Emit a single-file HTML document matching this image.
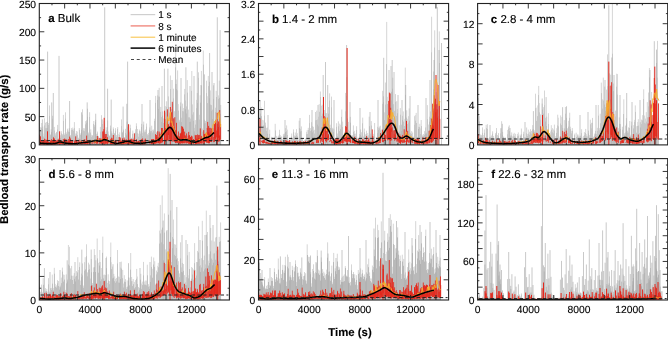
<!DOCTYPE html><html><head><meta charset="utf-8"><style>html,body{margin:0;padding:0;background:#fff;}svg{display:block;will-change:transform;}text{text-rendering:geometricPrecision;font-family:"Liberation Sans", sans-serif;fill:#000;stroke:#000;stroke-width:0.12px;}.tk{font-size:10.3px;}.pt{font-size:11.5px;}.lg{font-size:10px;}.ax{font-size:11.4px;font-weight:bold;}</style></head><body><svg width="668" height="339" viewBox="0 0 668 339"><rect width="668" height="339" fill="#fff"/><defs><filter id="soft" x="-2%" y="-2%" width="104%" height="104%"><feGaussianBlur stdDeviation="0.35"/></filter></defs><clipPath id="ca"><rect x="39.3" y="3.5" width="190.1" height="141.4"/></clipPath><g clip-path="url(#ca)"><g filter="url(#soft)"><path d="M39.7 145.9V135.9M40.6 145.9V127.2M41.7 145.9V123M42.8 145.9V126.6M43.8 145.9V133.6M44.4 145.9V118.3M45.5 145.9V122.7M46.7 145.9V122M47.4 145.9V121.6M48.7 145.9V123M49.5 145.9V105.4M50.4 145.9V134.3M51.2 145.9V129.3M52.6 145.9V115.7M53.8 145.9V135.8M54.3 145.9V126.9M55.6 145.9V133.3M56.6 145.9V131.8M57.6 145.9V124.9M58.7 145.9V138M59.5 145.9V136M60.4 145.9V135.3M61.3 145.9V131.2M62.6 145.9V134.1M63.4 145.9V114.9M64.7 145.9V133.5M65.5 145.9V112.3M66.3 145.9V132.3M67.5 145.9V128.7M68.2 145.9V130.4M69.2 145.9V128.2M70.5 145.9V135.2M71.6 145.9V128.1M72.8 145.9V127.5M73.2 145.9V128.8M74.4 145.9V122.1M75.3 145.9V133.5M76.4 145.9V131M77.3 145.9V131.5M78.3 145.9V137.6M79.3 145.9V128M80.3 145.9V133.4M81.6 145.9V129.6M82.5 145.9V109.3M83.7 145.9V128.1M84.7 145.9V128.3M85.7 145.9V121.1M86.6 145.9V120.3M87.5 145.9V108.7M88.5 145.9V132.5M89.6 145.9V112.2M90.8 145.9V129.3M91.4 145.9V134.8M92.6 145.9V135M93.8 145.9V121M94.6 145.9V124.9M95.6 145.9V119.8M96.4 145.9V133.8M97.5 145.9V131.6M98.5 145.9V135.9M99.3 145.9V138.5M100.4 145.9V126.9M101.5 145.9V115.2M102.6 145.9V119.4M103.8 145.9V133.7M104.2 145.9V121.2M105.5 145.9V132.4M106.2 145.9V127.3M107.6 145.9V120.4M108.3 145.9V131.5M109.4 145.9V135.4M110.5 145.9V125.6M111.7 145.9V131.3M112.4 145.9V133.4M113.3 145.9V127.4M114.4 145.9V132.9M115.5 145.9V128.2M116.6 145.9V135.1M117.7 145.9V127.1M118.8 145.9V134.1M119.7 145.9V132.3M120.8 145.9V138.8M121.5 145.9V119.4M122.4 145.9V132M123.5 145.9V129.5M124.4 145.9V138.8M125.5 145.9V128.8M126.6 145.9V134.3M127.2 145.9V121.6M128.8 145.9V138M129.7 145.9V130.5M130.3 145.9V124.7M131.6 145.9V137.7M132.8 145.9V130.5M133.5 145.9V137.5M134.3 145.9V132.8M135.5 145.9V129.3M136.4 145.9V123.3M137.6 145.9V129M138.3 145.9V133.7M139.7 145.9V129.5M140.3 145.9V131.3M141.6 145.9V123.8M142.2 145.9V132.8M143.7 145.9V121.6M144.3 145.9V130.5M145.6 145.9V129.5M146.5 145.9V123.5M147.4 145.9V134M148.5 145.9V132.9M149.8 145.9V127.4M150.5 145.9V130.9M151.7 145.9V125.7M152.7 145.9V129.8M153.4 145.9V129.5M154.7 145.9V118.7M155.6 145.9V95.9M156.5 145.9V131.8M157.7 145.9V95.4M158.6 145.9V96.5M159.2 145.9V87.8M160.7 145.9V106.9M161.5 145.9V117M162.7 145.9V111.3M163.7 145.9V118.5M164.5 145.9V122.6M165.3 145.9V106.1M166.4 145.9V101.3M167.7 145.9V110.7M168.4 145.9V96.4M169.7 145.9V122.8M170.4 145.9V75.5M171.3 145.9V108.9M172.7 145.9V103.6M173.5 145.9V88.7M174.6 145.9V111.2M175.7 145.9V49.9M176.3 145.9V79.5M177.6 145.9V70.4M178.2 145.9V104.1M179.6 145.9V119.8M180.7 145.9V102.4M181.3 145.9V117.7M182.6 145.9V103.6M183.7 145.9V108M184.7 145.9V88.9M185.3 145.9V100.5M186.5 145.9V106.4M187.3 145.9V80.1M188.4 145.9V109.6M189.5 145.9V117.3M190.7 145.9V118.6M191.8 145.9V71M192.5 145.9V104.4M193.4 145.9V112.2M194.3 145.9V127.8M195.3 145.9V120.1M196.6 145.9V99.8M197.3 145.9V93M198.5 145.9V72.3M199.4 145.9V114.8M200.2 145.9V95.3M201.4 145.9V70.9M202.4 145.9V128.5M203.3 145.9V50.5M204.4 145.9V119.7M205.5 145.9V120.9M206.5 145.9V80.7M207.2 145.9V96.2M208.3 145.9V75.9M209.5 145.9V81.8M210.3 145.9V90.4M211.5 145.9V105.1M212.7 145.9V109.6M213.5 145.9V85.3M214.4 145.9V125.4M215.5 145.9V107.7M216.2 145.9V90.8M217.5 145.9V117.6M218.6 145.9V95.4M219.3 145.9V80.6M220.7 145.9V104.9" stroke="#d6d6d6" stroke-width="1" fill="none"/><path d="M39.5 145.9V137.3M40.5 145.9V130.9M41.5 145.9V127.7M42.5 145.9V129.3M43.5 145.9V136.6M44.5 145.9V125.4M45.5 145.9V128.2M46.5 145.9V128.1M47.5 145.9V127.8M48.5 145.9V125M49.5 145.9V115.9M50.5 145.9V135.2M51.5 145.9V132.1M52.5 145.9V118.7M53.5 145.9V137.7M54.5 145.9V130.5M55.5 145.9V135.5M56.5 145.9V132.4M57.5 145.9V129.5M58.5 145.9V139.3M59.5 145.9V136.6M60.5 145.9V137.9M61.5 145.9V133.4M62.5 145.9V135.4M63.5 145.9V120.9M64.5 145.9V135M65.5 145.9V118.7M66.5 145.9V134.1M67.5 145.9V130.6M68.5 145.9V131.9M69.5 145.9V132M70.5 145.9V136.9M71.5 145.9V130.1M72.5 145.9V129.8M73.5 145.9V130.7M74.5 145.9V128.2M75.5 145.9V135.7M76.5 145.9V133.5M77.5 145.9V135.1M78.5 145.9V138.6M79.5 145.9V129.8M80.5 145.9V135M81.5 145.9V132.3M82.5 145.9V114.7M83.5 145.9V130.5M84.5 145.9V131.2M85.5 145.9V124.4M86.5 145.9V122.8M87.5 145.9V116.8M88.5 145.9V134.4M89.5 145.9V117M90.5 145.9V132.5M91.5 145.9V136.8M92.5 145.9V136M93.5 145.9V123.9M94.5 145.9V126.7M95.5 145.9V122.2M96.5 145.9V135.9M97.5 145.9V133.4M98.5 145.9V136.9M99.5 145.9V139.1M100.5 145.9V131.7M101.5 145.9V119.3M102.5 145.9V124M103.5 145.9V135.5M104.5 145.9V123.8M105.5 145.9V134.8M106.5 145.9V130.4M107.5 145.9V127M108.5 145.9V134.3M109.5 145.9V136.3M110.5 145.9V128.6M111.5 145.9V133.4M112.5 145.9V135.2M113.5 145.9V129M114.5 145.9V133.9M115.5 145.9V130.8M116.5 145.9V137M117.5 145.9V128.9M118.5 145.9V137M119.5 145.9V135M120.5 145.9V139.6M121.5 145.9V126.2M122.5 145.9V133M123.5 145.9V131.1M124.5 145.9V139.4M125.5 145.9V133M126.5 145.9V135.5M127.5 145.9V126.7M128.5 145.9V139.3M129.5 145.9V132.3M130.5 145.9V128.2M131.5 145.9V138.4M132.5 145.9V133.8M133.5 145.9V138.2M134.5 145.9V134.2M135.5 145.9V132.7M136.5 145.9V126.2M137.5 145.9V133.2M138.5 145.9V136.7M139.5 145.9V130.8M140.5 145.9V133.7M141.5 145.9V127M142.5 145.9V136M143.5 145.9V124.6M144.5 145.9V132.3M145.5 145.9V131.8M146.5 145.9V126.7M147.5 145.9V135.3M148.5 145.9V135.1M149.5 145.9V129.7M150.5 145.9V132.5M151.5 145.9V130.9M152.5 145.9V132.5M153.5 145.9V131.1M154.5 145.9V121M155.5 145.9V102.9M156.5 145.9V133.1M157.5 145.9V100M158.5 145.9V108.9M159.5 145.9V96.7M160.5 145.9V111.8M161.5 145.9V121.9M162.5 145.9V115.6M163.5 145.9V123M164.5 145.9V128.6M165.5 145.9V112.4M166.5 145.9V106.9M167.5 145.9V114.1M168.5 145.9V106.7M169.5 145.9V126.2M170.5 145.9V89M171.5 145.9V111.8M172.5 145.9V109.4M173.5 145.9V98.4M174.5 145.9V118.1M175.5 145.9V67.3M176.5 145.9V89.1M177.5 145.9V90.3M178.5 145.9V110.7M179.5 145.9V121.5M180.5 145.9V106.4M181.5 145.9V122.1M182.5 145.9V111.1M183.5 145.9V111.4M184.5 145.9V94.4M185.5 145.9V109.1M186.5 145.9V113.5M187.5 145.9V92.6M188.5 145.9V117.3M189.5 145.9V122M190.5 145.9V121.7M191.5 145.9V90.8M192.5 145.9V114.6M193.5 145.9V120.9M194.5 145.9V131.2M195.5 145.9V124.5M196.5 145.9V108.2M197.5 145.9V103M198.5 145.9V77.8M199.5 145.9V119.6M200.5 145.9V102.7M201.5 145.9V85.6M202.5 145.9V131.7M203.5 145.9V64.7M204.5 145.9V123.3M205.5 145.9V123.2M206.5 145.9V93.1M207.5 145.9V103.1M208.5 145.9V86.1M209.5 145.9V98.4M210.5 145.9V104.5M211.5 145.9V111.1M212.5 145.9V119.1M213.5 145.9V98.9M214.5 145.9V128.8M215.5 145.9V112M216.5 145.9V97M217.5 145.9V124.3M218.5 145.9V98.9M219.5 145.9V97.8M220.5 145.9V113.8" stroke="#c6c6c6" stroke-width="1" fill="none"/><path d="M47.6 145.9V51.6M59 145.9V55.9M53.3 145.9V93M104.7 145.9V7.3M107.6 145.9V88.7M127.6 145.9V61.6M217.3 145.9V17.3M220.1 145.9V30.1M209.6 145.9V53M197.3 145.9V61.6M185.9 145.9V67.3M164.4 145.9V68.7M167.9 145.9V68.7M204.4 145.9V74.4M69.6 145.9V101M87.2 145.9V102.4M111.2 145.9V99.6M123.1 145.9V106.6M126.8 145.9V103.8M51.7 145.9V102.4M42.4 145.9V119.4M81.5 145.9V112.3M95.7 145.9V113.7M142 145.9V104M150 145.9V100M158 145.9V90M162 145.9V86M172 145.9V80M176 145.9V84M181 145.9V78M190 145.9V86M194 145.9V76M201 145.9V85M212 145.9V72M214 145.9V83" stroke="#a8a8a8" stroke-opacity="0.65" stroke-width="0.95" fill="none"/><path d="M39.3 144.4V141M40.3 144.2V141.8M41.4 144.2V140.7M43.6 144.6V140.7M44.6 144.5V141.5M46.4 144.5V141.6M47.7 144.6V140.2M50.3 144.4V141.7M51.5 144.6V139.3M52.4 144.5V140.4M53.4 144.6V139.3M54.7 144.7V140.1M55.5 144.5V142.5M56.5 144.5V140.4M57.7 144.4V139.8M60.4 143.9V140.5M61.2 144.2V141.7M62.7 144.1V142.6M63.3 144.5V139M64.6 144.3V138.5M65.2 144.4V139.8M66.3 144.4V140M68.4 144.4V139.1M69.6 144.5V136.6M70.3 144.5V141.5M72.4 144.3V141.6M74.8 144.5V140.4M75.7 144.6V136.4M76.8 144.6V140M77.4 144.4V142.2M78.3 144.2V140.5M79.8 144.4V139.6M82.3 144.4V142.2M84.4 144.1V140M85.6 144.2V141.5M86.3 143.5V141.1M87.3 144.3V140.9M91.2 143.8V142.3M92.8 144V140.4M93.8 143.1V142.5M97.7 143.5V138.3M99.3 144V137.9M100.7 143.6V138.3M101.6 144.2V138.9M102.3 142.8V138.9M103.8 143.7V129.2M105.3 143.7V134M106.3 143.4V134M107.3 143.3V139.6M108.7 143.4V140.3M110.2 144.1V142.1M111.6 144.2V137.7M112.4 144V141.5M113.7 144.2V140.4M114.6 144.4V141.2M115.3 144.6V140.4M116.7 144.4V139.9M119.8 144.4V141.6M120.3 144V137.5M121.4 144.3V141.3M122.5 143.9V138.3M123.5 144V140.6M124.2 143.8V137.5M125.3 143.8V142.4M126.6 143.8V140.8M127.6 143V140.4M128.7 144.2V138.9M129.2 144.3V140.5M130.3 144V141.4M131.6 144V138.9M132.3 144.3V139.4M133.5 144.5V139.5M135.2 144.4V142.4M136.4 144.3V139.1M137.6 144.3V141.5M138.3 144.4V140.9M139.7 144.5V141.3M141.5 144.4V139.3M142.6 144.6V138.4M143.3 144.5V140.6M144.3 144.6V140.1M145.3 144.1V138.6M149.8 143.8V140.2M151.7 144V139.2M152.2 143.8V141M153.4 143.7V139M154.3 144.1V139.8M155.5 143.7V134.2M156.7 143.2V137M158.5 142.9V139.7M159.7 143.2V133.6M160.7 143.6V134.5M161.2 143V132.4M162.6 142V138.2M165.3 141.6V128.1M167.4 140.1V109.3M168.7 140.3V129.4M171.3 140.4V130.7M173.6 141.5V118.3M174.3 141.2V126.8M175.7 143.1V130.2M176.5 142.2V122.8M177.7 143.2V135.6M178.4 143V131.5M179.4 143.5V137.4M180.4 143.9V133.9M181.6 142.9V126.2M182.5 143.2V126.7M183.5 143.2V128.8M184.8 143.6V135.1M185.6 142.7V135.6M186.6 143.5V133.4M187.2 142.7V139.3M188.2 143.5V135.6M189.5 143.1V135.2M190.5 144.1V136.9M191.5 144.3V138.4M193.5 144.2V139M195.6 144.2V135.7M196.3 144V135M197.2 143.9V138.6M198.6 143.7V138M200.4 143.3V137.9M201.4 142.9V135.9M202.7 143.6V139.3M203.6 142.3V136.1M204.5 143.4V133.9M205.7 141.5V133.6M206.5 142.6V132.7M207.2 142.9V127.9M208.6 142.9V132.1M209.5 143.2V133.7M210.3 142V127.8M211.6 141.9V128.4M212.7 139.9V128M214.3 138V123.7M215.7 140.5V121.1M217.7 141.6V129.2M218.5 137.8V121.4M219.7 140.3V110.1M220.6 139.7V124" stroke="#e4261a" stroke-opacity="0.85" stroke-width="1" fill="none"/><path d="M39.5 144.2V134.7M40.5 144.5V140.9M41.4 144.5V142.2M42.6 144.6V141M43.8 144.4V141.2M44.5 144.3V138.7M45.6 144.3V139.6M46.3 144.5V139.8M47.7 144.6V139.9M48.5 144.5V141.8M49.3 144.6V142M50.5 144.6V140.3M51.7 144.4V141.5M52.5 144.6V141.5M53.5 144.5V137.3M54.5 144.6V138.5M55.4 144.5V140.1M57.8 144.3V140.8M58.3 143.8V139.3M59.4 143.9V140.9M60.3 144.3V140.7M61.5 144V141M62.6 144.2V141.2M63.5 144.1V141.4M64.3 144.4V142.5M65.4 144.2V139.4M66.4 144.2V139.5M67.3 144.4V141M68.5 144.6V141.4M69.4 144.6V140.7M70.5 144.5V138.5M71.4 144.6V140.8M72.6 144.5V140.9M74.7 144.5V141.6M76.5 144.4V140.5M77.3 144.6V142.8M80.7 144.2V141.4M81.6 144.3V140.8M83.6 144V139.8M84.8 144.2V139.1M85.3 144V141.1M86.6 144.1V135.6M87.5 144.2V140.2M88.8 144.3V141.6M89.3 144V141.7M94.7 143.7V140.6M95.5 143.1V140.5M96.6 143.9V140.8M97.4 143.5V136M100.6 143.3V139.6M101.5 143.2V139.5M102.8 143.3V131.5M103.2 143.9V131.4M105.3 143.8V136.7M106.3 143.9V140.7M107.5 144.3V137.2M110.8 144.4V138.9M111.2 143.7V142.1M112.3 144.2V138.5M113.4 144.1V135M114.6 144.3V142.2M115.5 144.3V140.3M116.5 144.4V143.5M118.5 144.3V140.3M119.3 144.2V137.1M120.6 144.2V140.9M121.7 144.5V140.4M122.5 144.4V139.5M123.7 144.4V141.3M124.7 143.7V139.7M125.6 143.8V139.8M126.5 143.5V139.5M127.8 144V142.3M129.2 144V142.5M130.3 144.2V139M131.6 144.1V140.2M132.5 144.1V141.4M133.3 144.5V140.3M134.4 144.5V133.4M135.7 144V141.6M136.7 144.3V141.2M138.5 144.5V140.8M139.7 144.6V141.4M141.5 144.4V141.3M142.6 144.4V140.2M145.2 144.2V139.6M150.4 143.4V141.9M151.7 144.3V139.5M152.5 143.7V139.2M153.6 143.9V139.4M154.7 143.7V140.9M155.2 143.2V140.7M156.5 143.4V135M157.7 143.3V131.2M158.4 143V137.4M159.2 144.3V131.6M160.5 142.4V139.1M161.5 141.4V128M162.4 142.5V128M164.8 141.3V119M166.5 141.3V130M167.3 140.9V132.2M168.5 135V124.2M169.6 139.6V126.8M170.3 140.6V112.8M171.6 139.7V112.3M172.3 141.6V101.8M174.8 142.1V117.2M175.4 142.8V137.4M176.6 142.8V135.2M177.7 142.5V136.6M179.4 143.4V136.3M180.3 142.5V133.1M181.4 143.4V132.3M182.8 143.7V127.5M184.6 142.9V131.6M187.3 142.9V138.3M188.7 143.9V131.9M189.6 144V139.3M190.7 144.3V137.1M191.5 143.9V135.7M192.2 144V136.4M195.2 144.5V134.9M196.4 144.1V138.8M197.6 143.4V134.5M198.6 143.4V135.1M199.3 144.1V134.9M200.3 143.3V128.4M201.3 143.8V138.4M203.7 143.7V130.2M204.2 141.9V134.4M205.8 141.9V134M207.7 142.8V121.9M208.6 143.4V125.9M209.3 141.9V127.9M211.2 142.1V131.1M213.7 142.2V137.1M214.5 141.8V124M215.5 138.8V120.2M216.7 137.4V130.5M217.3 141.3V123.7M218.4 141.7V127.1M219.5 141.4V135.4" stroke="#e4261a" stroke-opacity="0.85" stroke-width="1" fill="none"/><path d="M47.5 144.9V131.3M59.6 144.9V131.3M104.2 144.9V117.8M128.6 144.9V124.2M40.4 144.9V136.3M170.3 144.9V107M217.2 144.9V112.8M164.6 144.9V110.7" stroke="#e4261a" stroke-width="1" fill="none"/><path d="M39.7 143.3 40.5 143.6 41.2 142.5 42 143.2 42.7 143.6 43.5 143.5 44.3 143.3 45 143.8 45.8 143.8 46.5 143.5 47.3 143.8 48.1 143.4 48.8 143.7 49.6 143.7 50.3 143.5 51.1 143.2 51.9 143.3 52.6 143.3 53.4 143.8 54.1 143.6 54.9 143.1 55.7 143.8 56.4 143.3 57.2 142.7 57.9 142.9 58.7 142.1 59.5 142.1 60.2 140.9 61 141.7 61.7 142.5 62.5 142.7 63.3 143.2 64 143.1 64.8 143.5 65.5 142.9 66.3 143.4 67.1 143 67.8 143.3 68.6 143.6 69.3 143.5 70.1 143.3 70.9 143.4 71.6 143.8 72.4 143.7 73.1 143.8 73.9 143.7 74.7 143.9 75.4 143.6 76.2 143.6 76.9 143.7 77.7 143.6 78.5 143.2 79.2 143.5 80 143.4 80.7 141.8 81.5 142.5 82.3 142.8 83 142.4 83.8 142.3 84.5 142.2 85.3 142.4 86.1 142.5 86.8 142.2 87.6 141.5 88.3 142.2 89.1 141.1 89.9 140.4 90.6 142.9 91.4 141.1 92.1 140.6 92.9 140.5 93.7 140.7 94.4 140 95.2 142.4 95.9 140.4 96.7 139.4 97.5 140 98.2 141 99 140.8 99.7 140.4 100.5 141.4 101.3 141.1 102 139 102.8 139.3 103.5 140.2 104.3 139.9 105.1 141 105.8 138.7 106.6 141.1 107.3 140 108.1 140.3 108.9 140.7 109.6 142.6 110.4 141.3 111.1 141.7 111.9 142 112.7 139.8 113.4 142.5 114.2 143.6 114.9 143.7 115.7 143.6 116.5 143.9 117.2 143.5 118 143.4 118.7 143.4 119.5 143.2 120.3 143.2 121 142.6 121.8 142.6 122.5 143 123.3 142.4 124.1 141.4 124.8 142.1 125.6 142.2 126.3 142.1 127.1 141 127.9 142 128.6 141 129.4 142.5 130.1 142.3 130.9 142.9 131.7 142.5 132.4 143.3 133.2 142.7 133.9 143.2 134.7 142.7 135.5 143.4 136.2 142.8 137 143.9 137.7 143 138.5 143.2 139.3 143.6 140 143.7 140.8 142.9 141.5 143.5 142.3 143 143.1 143.3 143.8 143.3 144.6 142.8 145.3 142.9 146.1 142.2 146.9 142.8 147.6 142.5 148.4 142 149.1 141.8 149.9 141.7 150.7 142.1 151.4 141.9 152.2 141.5 152.9 141.6 153.7 141.8 154.5 141.3 155.2 140.9 156 139.6 156.7 140.1 157.5 139.9 158.3 139.6 159 138.9 159.8 138 160.5 135.5 161.3 137.7 162.1 134 162.8 134.2 163.6 130.3 164.3 132.6 165.1 132.4 165.9 130.3 166.6 127.5 167.4 116.7 168.1 119.5 168.9 121 169.7 117.3 170.4 111.7 171.2 122.4 171.9 121.5 172.7 126.2 173.5 126.4 174.2 129.7 175 134.2 175.7 137.1 176.5 137.3 177.3 137 178 137.6 178.8 141.1 179.5 140.4 180.3 139.7 181.1 139.8 181.8 139.3 182.6 141 183.3 140.1 184.1 138.7 184.9 139.2 185.6 138.2 186.4 139.6 187.1 139.7 187.9 140.9 188.7 139.1 189.4 141.7 190.2 140.6 190.9 140.1 191.7 141.1 192.5 142.9 193.2 141.4 194 142.9 194.7 142.5 195.5 142.1 196.3 142.4 197 141.4 197.8 141 198.5 140.7 199.3 139.1 200.1 140.6 200.8 140.6 201.6 139.3 202.3 139.8 203.1 136.6 203.9 139 204.6 139 205.4 137.3 206.1 132.6 206.9 135.7 207.7 135.9 208.4 136.4 209.2 136.1 209.9 137.8 210.7 134.8 211.5 135.3 212.2 132.6 213 124.4 213.7 124.8 214.5 121.4 215.3 122.6 216 119.5 216.8 118.6 217.5 118.9 218.3 112.3 219.1 112.1 219.8 119.1 220.6 127.2" stroke="#f7b02a" stroke-width="0.9" fill="none" stroke-linejoin="round"/><path d="M39.7 143.1 40.2 143.1 40.7 143.1 41.2 143.2 41.7 143.2 42.2 143.2 42.7 143.3 43.2 143.3 43.7 143.4 44.2 143.4 44.7 143.5 45.2 143.5 45.7 143.5 46.2 143.6 46.7 143.6 47.2 143.6 47.7 143.7 48.2 143.7 48.7 143.6 49.2 143.6 49.7 143.6 50.2 143.6 50.7 143.6 51.2 143.6 51.7 143.6 52.2 143.5 52.7 143.5 53.2 143.5 53.7 143.5 54.2 143.5 54.7 143.4 55.2 143.4 55.7 143.3 56.2 143.2 56.7 143 57.2 142.9 57.7 142.7 58.2 142.5 58.7 142.3 59.2 142.1 59.7 142 60.2 142 60.7 142 61.2 142.1 61.7 142.2 62.2 142.3 62.7 142.5 63.2 142.7 63.7 142.8 64.2 142.9 64.7 143 65.2 143.1 65.7 143.1 66.2 143.2 66.7 143.2 67.2 143.3 67.7 143.3 68.2 143.4 68.7 143.4 69.2 143.4 69.7 143.5 70.2 143.5 70.7 143.6 71.2 143.6 71.7 143.7 72.2 143.7 72.7 143.7 73.2 143.8 73.7 143.8 74.2 143.8 74.7 143.8 75.2 143.7 75.7 143.7 76.2 143.6 76.7 143.5 77.2 143.5 77.7 143.4 78.2 143.3 78.7 143.2 79.2 143.1 79.7 143 80.2 143 80.7 142.9 81.2 142.8 81.7 142.7 82.2 142.7 82.7 142.6 83.2 142.6 83.7 142.5 84.2 142.5 84.7 142.4 85.2 142.4 85.7 142.3 86.2 142.3 86.7 142.2 87.2 142.2 87.7 142.1 88.2 142 88.7 142 89.2 141.9 89.7 141.8 90.2 141.7 90.7 141.5 91.2 141.4 91.7 141.3 92.2 141.2 92.7 141.1 93.2 140.9 93.7 140.8 94.2 140.7 94.7 140.6 95.2 140.6 95.7 140.5 96.2 140.6 96.7 140.6 97.2 140.7 97.7 140.9 98.2 141 98.7 141.1 99.2 141.2 99.7 141.3 100.2 141.2 100.7 141.1 101.2 140.9 101.7 140.7 102.2 140.5 102.7 140.2 103.2 140 103.7 139.8 104.2 139.7 104.7 139.6 105.2 139.7 105.7 139.8 106.2 140 106.7 140.2 107.2 140.4 107.7 140.6 108.2 140.8 108.7 141 109.2 141.2 109.7 141.4 110.2 141.6 110.7 141.8 111.2 142 111.7 142.2 112.2 142.4 112.7 142.6 113.2 142.7 113.7 142.9 114.2 143.1 114.7 143.2 115.2 143.4 115.7 143.5 116.2 143.5 116.7 143.5 117.2 143.4 117.7 143.4 118.2 143.3 118.7 143.2 119.2 143.1 119.7 143 120.2 142.9 120.7 142.8 121.2 142.7 121.7 142.6 122.2 142.5 122.7 142.3 123.2 142.2 123.7 142 124.2 141.9 124.7 141.7 125.2 141.6 125.7 141.5 126.2 141.4 126.7 141.3 127.2 141.3 127.7 141.3 128.2 141.4 128.7 141.5 129.2 141.7 129.7 141.8 130.2 142 130.7 142.1 131.2 142.3 131.7 142.5 132.2 142.6 132.7 142.8 133.2 142.9 133.7 143 134.2 143.1 134.7 143.2 135.2 143.2 135.7 143.2 136.2 143.3 136.7 143.3 137.2 143.3 137.7 143.3 138.2 143.3 138.7 143.3 139.2 143.3 139.7 143.4 140.2 143.4 140.7 143.3 141.2 143.3 141.7 143.3 142.2 143.2 142.7 143.2 143.2 143.1 143.7 143 144.2 143 144.7 142.9 145.2 142.8 145.7 142.8 146.2 142.7 146.7 142.6 147.2 142.5 147.7 142.5 148.2 142.4 148.7 142.3 149.2 142.2 149.7 142.2 150.2 142.1 150.7 142 151.2 141.9 151.7 141.9 152.2 141.8 152.7 141.7 153.2 141.6 153.7 141.5 154.2 141.4 154.7 141.3 155.2 141.2 155.7 141 156.2 140.8 156.7 140.6 157.2 140.3 157.7 140.1 158.2 139.8 158.7 139.5 159.2 139.1 159.7 138.7 160.2 138.1 160.7 137.6 161.2 137 161.7 136.3 162.2 135.7 162.7 135 163.2 134.3 163.7 133.7 164.2 133.1 164.7 132.5 165.2 131.8 165.7 131.2 166.2 130.6 166.7 130 167.2 129.4 167.7 128.9 168.2 128.3 168.7 127.8 169.2 127.5 169.7 127.3 170.2 127.4 170.7 127.6 171.2 128.1 171.7 128.6 172.2 129.4 172.7 130.2 173.2 131.1 173.7 132.1 174.2 133.1 174.7 134.1 175.2 135 175.7 135.9 176.2 136.6 176.7 137.3 177.2 138 177.7 138.6 178.2 139.1 178.7 139.4 179.2 139.7 179.7 139.9 180.2 139.9 180.7 139.9 181.2 139.9 181.7 139.9 182.2 139.8 182.7 139.8 183.2 139.8 183.7 139.7 184.2 139.7 184.7 139.7 185.2 139.6 185.7 139.6 186.2 139.7 186.7 139.8 187.2 139.9 187.7 140.1 188.2 140.3 188.7 140.5 189.2 140.7 189.7 140.9 190.2 141.1 190.7 141.3 191.2 141.5 191.7 141.6 192.2 141.8 192.7 141.9 193.2 142 193.7 142.1 194.2 142.1 194.7 142.2 195.2 142.1 195.7 142.1 196.2 141.9 196.7 141.8 197.2 141.6 197.7 141.4 198.2 141.2 198.7 141 199.2 140.8 199.7 140.6 200.2 140.4 200.7 140.1 201.2 139.9 201.7 139.6 202.2 139.3 202.7 139.1 203.2 138.8 203.7 138.5 204.2 138.3 204.7 138 205.2 137.8 205.7 137.7 206.2 137.6 206.7 137.5 207.2 137.4 207.7 137.3 208.2 137.1 208.7 137 209.2 136.7 209.7 136.4 210.2 136.1 210.7 135.6 211.2 135.2 211.7 134.7 212.2 134.2 212.7 133.7 213.2 133.3 213.7 132.9 214.2 132.6" stroke="#000" stroke-width="1.55" fill="none" stroke-linejoin="round"/></g></g><path d="M40.8 140.6H228.4" stroke="#222" stroke-width="1" stroke-dasharray="3.4 2.4" fill="none"/><clipPath id="cb"><rect x="258.5" y="3.5" width="190.1" height="141.4"/></clipPath><g clip-path="url(#cb)"><g filter="url(#soft)"><path d="M258.6 145.9V115.2M259.8 145.9V125.5M260.2 145.9V101.2M261.2 145.9V107.4M262.3 145.9V119.8M263.8 145.9V120.3M264.5 145.9V100.8M265.5 145.9V122.6M266.4 145.9V127.9M267.3 145.9V127.5M268.3 145.9V139M269.7 145.9V129.7M270.2 145.9V140.1M271.6 145.9V136.8M272.5 145.9V137.3M273.3 145.9V139.1M274.3 145.9V136.7M275.2 145.9V123.8M276.7 145.9V135.9M277.6 145.9V139.2M278.6 145.9V135.6M279.5 145.9V129.8M280.2 145.9V135M281.6 145.9V136.4M282.7 145.9V139.2M283.4 145.9V133.9M284.4 145.9V133.6M285.8 145.9V128.1M286.6 145.9V125.4M287.3 145.9V129.6M288.3 145.9V139.6M289.4 145.9V139.3M290.8 145.9V137.9M291.7 145.9V133.5M292.2 145.9V138.7M293.5 145.9V129.4M294.3 145.9V135.3M295.3 145.9V132.5M296.5 145.9V129.2M297.3 145.9V133.2M298.6 145.9V139.9M299.2 145.9V120.7M300.2 145.9V128.9M301.4 145.9V126.4M302.3 145.9V138.4M303.7 145.9V140.8M304.7 145.9V140.2M305.5 145.9V138.5M306.6 145.9V131.9M307.2 145.9V130.1M308.3 145.9V127.8M309.5 145.9V114.9M310.7 145.9V128M311.6 145.9V122.2M312.4 145.9V126.2M313.4 145.9V126.8M314.7 145.9V129.8M315.5 145.9V112M316.7 145.9V110.6M317.3 145.9V119.4M318.7 145.9V116.7M319.2 145.9V104.1M320.4 145.9V91.5M321.4 145.9V105.9M322.2 145.9V104.7M323.8 145.9V112.5M324.4 145.9V110M325.2 145.9V113.2M326.6 145.9V113.1M327.4 145.9V117M328.6 145.9V107M329.6 145.9V93.3M330.8 145.9V124.7M331.5 145.9V96.6M332.6 145.9V127.8M333.8 145.9V128.7M334.4 145.9V138.2M335.4 145.9V138.3M336.6 145.9V123.2M337.6 145.9V133.5M338.4 145.9V121.3M339.8 145.9V123.6M340.8 145.9V124.9M341.8 145.9V109.5M342.6 145.9V121.6M343.7 145.9V138M344.7 145.9V131.8M345.6 145.9V92.9M346.7 145.9V77.3M347.5 145.9V118.4M348.4 145.9V121.9M349.5 145.9V130.9M350.3 145.9V116.8M351.8 145.9V135.1M352.3 145.9V135.2M353.4 145.9V125.4M354.3 145.9V130.8M355.7 145.9V133.6M356.6 145.9V126.2M357.7 145.9V137.7M358.8 145.9V138.3M359.7 145.9V134M360.6 145.9V129.4M361.6 145.9V132.2M362.7 145.9V117.6M363.3 145.9V135.8M364.3 145.9V128.5M365.5 145.9V134.4M366.5 145.9V130.7M367.8 145.9V133M368.4 145.9V135M369.2 145.9V116.7M370.4 145.9V133.6M371.3 145.9V121.1M372.5 145.9V135.8M373.3 145.9V133.9M374.6 145.9V123M375.4 145.9V140M376.3 145.9V137.1M377.7 145.9V126.8M378.8 145.9V127.9M379.6 145.9V126.6M380.3 145.9V125.7M381.5 145.9V129.6M382.6 145.9V90.8M383.5 145.9V96.3M384.3 145.9V112.3M385.4 145.9V82.5M386.7 145.9V21.9M387.2 145.9V96.8M388.2 145.9V114.6M389.6 145.9V96.8M390.7 145.9V93M391.6 145.9V91.8M392.7 145.9V77.7M393.5 145.9V104.2M394.6 145.9V110.8M395.5 145.9V94.1M396.7 145.9V101.2M397.2 145.9V109.1M398.4 145.9V132.2M399.4 145.9V125.3M400.3 145.9V108.1M401.5 145.9V124.7M402.6 145.9V115.8M403.3 145.9V111.4M404.8 145.9V118.8M405.3 145.9V67.6M406.7 145.9V110.3M407.2 145.9V118.8M408.5 145.9V116.2M409.2 145.9V108.4M410.4 145.9V132.8M411.7 145.9V131.1M412.6 145.9V132.5M413.7 145.9V136.6M414.5 145.9V116.2M415.3 145.9V115.1M416.2 145.9V112.9M417.5 145.9V137.2M418.8 145.9V126.8M419.8 145.9V123.8M420.7 145.9V128.4M421.2 145.9V120M422.3 145.9V134.7M423.6 145.9V134M424.6 145.9V131.1M425.7 145.9V127.5M426.5 145.9V132.7M427.4 145.9V105.1M428.3 145.9V124.5M429.7 145.9V116.7M430.7 145.9V111.4M431.6 145.9V16.7M432.3 145.9V105.3M433.6 145.9V71.5M434.7 145.9V30.3M435.5 145.9V112.2M436.2 145.9V92.1M437.4 145.9V88.6M438.6 145.9V106.5M439.3 145.9V31.4" stroke="#d6d6d6" stroke-width="1" fill="none"/><path d="M258.5 145.9V120.8M259.5 145.9V132M260.5 145.9V113.5M261.5 145.9V116.1M262.5 145.9V128M263.5 145.9V125.4M264.5 145.9V115.7M265.5 145.9V125.6M266.5 145.9V130.8M267.5 145.9V133.7M268.5 145.9V139.6M269.5 145.9V133.9M270.5 145.9V141M271.5 145.9V138.3M272.5 145.9V138.6M273.5 145.9V141.1M274.5 145.9V137.7M275.5 145.9V130.4M276.5 145.9V138.4M277.5 145.9V140.3M278.5 145.9V137.7M279.5 145.9V134.3M280.5 145.9V136.8M281.5 145.9V137.4M282.5 145.9V140.6M283.5 145.9V135.7M284.5 145.9V135.8M285.5 145.9V132.1M286.5 145.9V131.3M287.5 145.9V135M288.5 145.9V141M289.5 145.9V140.7M290.5 145.9V140.1M291.5 145.9V136.5M292.5 145.9V139.4M293.5 145.9V132.2M294.5 145.9V136.6M295.5 145.9V136.2M296.5 145.9V134.8M297.5 145.9V136.3M298.5 145.9V140.6M299.5 145.9V128.2M300.5 145.9V131.4M301.5 145.9V131.1M302.5 145.9V139.3M303.5 145.9V141.3M304.5 145.9V140.8M305.5 145.9V140M306.5 145.9V134.2M307.5 145.9V134.1M308.5 145.9V130.1M309.5 145.9V123.2M310.5 145.9V131M311.5 145.9V130.2M312.5 145.9V132.4M313.5 145.9V130.6M314.5 145.9V133.5M315.5 145.9V120.3M316.5 145.9V120M317.5 145.9V124.7M318.5 145.9V126.3M319.5 145.9V111.8M320.5 145.9V97M321.5 145.9V115.8M322.5 145.9V113.6M323.5 145.9V122.6M324.5 145.9V120M325.5 145.9V120.9M326.5 145.9V120.8M327.5 145.9V123.8M328.5 145.9V113.7M329.5 145.9V100.6M330.5 145.9V128M331.5 145.9V107.3M332.5 145.9V129.3M333.5 145.9V131.9M334.5 145.9V139.2M335.5 145.9V139.8M336.5 145.9V126.8M337.5 145.9V136.2M338.5 145.9V126.3M339.5 145.9V131.1M340.5 145.9V128.9M341.5 145.9V116.9M342.5 145.9V127M343.5 145.9V138.8M344.5 145.9V133.8M345.5 145.9V111.3M346.5 145.9V96.2M347.5 145.9V124.7M348.5 145.9V129.7M349.5 145.9V133.9M350.5 145.9V122.7M351.5 145.9V137.1M352.5 145.9V136.2M353.5 145.9V131.8M354.5 145.9V133.8M355.5 145.9V136.1M356.5 145.9V130M357.5 145.9V139M358.5 145.9V138.8M359.5 145.9V136.7M360.5 145.9V134.9M361.5 145.9V136.4M362.5 145.9V123.3M363.5 145.9V137.2M364.5 145.9V132.3M365.5 145.9V137.2M366.5 145.9V133.8M367.5 145.9V136.7M368.5 145.9V136.6M369.5 145.9V126.2M370.5 145.9V136.4M371.5 145.9V125.5M372.5 145.9V137.6M373.5 145.9V136.8M374.5 145.9V129.7M375.5 145.9V141.1M376.5 145.9V139.3M377.5 145.9V133.2M378.5 145.9V129.9M379.5 145.9V128.4M380.5 145.9V130.3M381.5 145.9V132M382.5 145.9V103.8M383.5 145.9V102.1M384.5 145.9V120.2M385.5 145.9V104.5M386.5 145.9V64.1M387.5 145.9V103.9M388.5 145.9V120.8M389.5 145.9V112.1M390.5 145.9V111.3M391.5 145.9V100.2M392.5 145.9V88.7M393.5 145.9V118.2M394.5 145.9V117.7M395.5 145.9V101.9M396.5 145.9V115.9M397.5 145.9V113.2M398.5 145.9V134.5M399.5 145.9V131.7M400.5 145.9V114.7M401.5 145.9V130.9M402.5 145.9V119.9M403.5 145.9V121.6M404.5 145.9V126M405.5 145.9V94.9M406.5 145.9V117.5M407.5 145.9V124M408.5 145.9V122.6M409.5 145.9V120.7M410.5 145.9V134.8M411.5 145.9V134.1M412.5 145.9V136.9M413.5 145.9V139.2M414.5 145.9V124.8M415.5 145.9V120.7M416.5 145.9V123M417.5 145.9V138.3M418.5 145.9V129M419.5 145.9V127.1M420.5 145.9V134.2M421.5 145.9V126.1M422.5 145.9V136.3M423.5 145.9V136.2M424.5 145.9V134.9M425.5 145.9V133.6M426.5 145.9V134.1M427.5 145.9V119.2M428.5 145.9V131.1M429.5 145.9V121.7M430.5 145.9V118M431.5 145.9V52.3M432.5 145.9V113.5M433.5 145.9V89.3M434.5 145.9V47.5M435.5 145.9V115.7M436.5 145.9V110.7M437.5 145.9V102.5M438.5 145.9V116.2M439.5 145.9V63" stroke="#c6c6c6" stroke-width="1" fill="none"/><path d="M325.5 145.9V62M346.6 145.9V45M383.7 145.9V57.8M392.2 145.9V60M405.7 145.9V85M437.3 145.9V7.2M441.5 145.9V43M323.2 145.9V75M327.7 145.9V85M389 145.9V70M391 145.9V66M394 145.9V72M260 145.9V110M268 145.9V115M285 145.9V120M300 145.9V118M312 145.9V110M318 145.9V105M334 145.9V100M350 145.9V102M360 145.9V108M370 145.9V112M378 145.9V100M398 145.9V95M402 145.9V100M410 145.9V96M418 145.9V105M426 145.9V98M430 145.9V80M434 145.9V60M439 145.9V50" stroke="#a8a8a8" stroke-opacity="0.65" stroke-width="0.95" fill="none"/><path d="M261.7 142.1V140.8M262.7 142.9V140.2M264.7 142.9V140.5M266.3 143.6V142.4M268.4 143.9V142.6M269.3 144.1V142.6M271.6 143.5V141.3M272.3 144.1V142.2M273.8 144.1V142.9M274.6 144.1V139.8M275.5 144.3V141.9M277.3 144.3V143M278.2 144.5V141.5M279.6 144.3V142.3M280.6 144.3V142.8M281.6 144.2V141.8M282.5 144.4V142.4M284.5 144.4V142.4M285.5 144.5V142.2M286.5 144.5V140.8M287.3 144.4V140.9M288.4 143.9V143.4M289.4 144.2V141.8M291.7 144.1V142.9M292.7 144.3V141.3M293.6 144.5V142.2M294.2 144.6V143.6M295.3 144.5V141M296.2 144.3V142.4M297.7 144.3V142.5M299.7 144.5V141.1M300.3 144.4V142.5M303.3 144.4V142.4M307.5 144.2V143M308.7 144.2V140.9M309.3 143.5V141.8M312.7 143.8V141.7M313.2 143.9V142.4M317.4 142.3V141.9M318.3 142.6V137.5M322.8 139.6V132.4M325.5 141.2V117.6M326.4 142.4V138.4M327.7 140.5V136.3M328.5 137.7V134.2M331.7 143.4V140M333.4 143.6V141.9M335.6 144.2V138.8M336.5 144.5V139.5M337.3 144.3V141.4M338.8 144.2V138.7M339.7 143.8V141.3M340.3 144.2V140.3M341.4 143.1V141M342.6 143.6V138M343.7 143.1V136.7M345.3 141.8V137.8M346.4 140.5V137.1M347.3 142.5V139.3M348.7 141.6V134.5M349.7 142V136.6M350.5 142.3V140M352.3 143V140.1M353.6 143V141.2M354.6 143.4V136.8M355.4 143.8V140.5M358.4 143.7V142.3M359.5 144.1V141.3M360.4 143.6V141.2M361.5 143.8V142.5M362.7 143.5V138.9M363.4 144.4V143.7M364.4 143.9V140.9M365.5 144.4V140.4M367.7 144.2V140.4M368.8 144.3V138M369.6 144.2V141.2M370.4 144.4V142.1M371.8 144.3V141.4M372.8 144.4V135.9M376.7 144.2V140.8M380.6 141.2V133M383.4 142.2V139.7M384.3 140.8V134.1M387.6 140.4V126.6M388.2 138.7V128.8M389.4 140.2V92.6M390.7 140.9V107.8M391.3 131.9V128.1M392.3 138V127.3M394.2 138V134.2M395.6 138.7V124.6M396.8 141.6V138.4M397.6 140.6V136M398.2 142.7V138.6M399.8 142.5V134.5M400.5 143.2V136M401.5 141.6V139.2M403.3 142.7V139.5M404.2 142.8V129.3M406.4 140.7V130.3M407.3 140.9V135.8M408.4 142.7V140.2M409.4 142.7V138.2M410.5 142.3V139.4M412.7 143.1V141.7M415.8 143.8V139.4M416.4 143.8V140.5M417.6 144.2V141.3M418.7 143.8V139M419.8 144.2V141.2M421.5 144V140.5M422.8 144V137.4M423.7 143.5V141.9M425.6 143.7V137.2M426.6 142.7V140.7M427.3 143.7V138.5M429.4 142.8V135.8M430.7 142.4V125M431.5 142.7V118.6M432.3 138.8V120.9M433.3 140.9V125.5M434.4 138.9V95.2M435.5 139V98.7M437.2 139.7V109.4M439.8 137.4V118.9" stroke="#e4261a" stroke-opacity="0.85" stroke-width="1" fill="none"/><path d="M258.5 141.3V121.3M259.2 142V138.2M262.8 143.2V141.4M263.5 143.4V139.8M264.2 143V139.5M265.7 143.4V141.9M266.7 143.3V141.6M267.3 143.8V141.9M268.4 143.8V143.1M269.5 144.1V143.3M270.4 144.3V143.1M272.6 144V140.8M274.4 144.1V142.8M275.6 144.2V143M276.7 143.6V142.1M277.3 144.3V140.8M278.2 144.1V143.5M280.7 143.7V140.6M281.5 144V141.4M282.5 144.1V142.2M283.6 143.9V142.3M284.7 144.3V141.9M285.8 144.5V140M286.2 144.6V143M287.7 144.3V141.3M288.8 144.6V141.1M289.6 144.5V140M290.6 144.4V142.4M291.4 144.4V142.6M292.5 144.3V142M294.5 144.4V140.9M295.6 144.5V142.3M296.8 144.4V142.2M297.5 144.2V141.3M298.7 144.2V143.1M300.7 144.4V141.1M301.5 144.4V142.3M303.7 144.4V141.3M304.7 144.2V142.6M305.6 144.3V140.9M306.2 144V142.6M307.6 144V141.2M309.5 143.7V143M311.3 144V142.5M313.7 143.6V142.4M316.5 143.1V140M317.8 142.7V137.5M318.2 142.9V137.8M320.7 142.7V132.5M321.5 140.6V137.5M322.3 142V127.2M323.5 141.2V107.3M324.3 139.4V116.1M325.8 137.3V129.8M326.4 140.3V127.9M327.6 139.3V128.2M328.6 140V134.9M329.8 142V140.6M330.6 141.2V135M332.3 143.3V141.4M333.5 143.3V138.3M335.5 144V141.9M336.5 144.6V139.5M337.6 143.9V138.3M338.5 143.8V140.4M339.7 143.4V140.9M340.3 143.1V140.8M342.6 143.2V139.6M344.5 141.1V137.3M345.6 140.9V126.1M346.4 142V127M347.2 141.2V137.9M348.7 141.4V139.5M349.2 141.6V136.8M350.6 142.8V138.3M352.7 143.2V139M353.4 142.9V141M354.4 143.7V137.6M355.7 143.2V140.9M356.3 143.9V138.8M357.5 144.4V141.8M358.4 144.5V139M359.5 144.4V141.3M360.4 144V142.8M361.5 144.1V141.2M362.8 144V139.9M363.7 144.1V139.6M364.8 144.1V141.4M365.6 144.2V140.8M366.6 144.4V136M367.5 144.2V142.2M368.5 144.3V139.9M369.4 144.4V142.4M370.3 144.2V141.5M372.3 144.3V129.4M373.4 144.3V141.2M375.8 143.8V142.6M377.3 143.7V139.7M378.7 143.7V137.2M379.6 143.1V140M380.3 143V139M382.5 142.1V129.7M384.7 140.6V131.9M385.5 140.5V134.9M386.8 139V124.6M388.7 139.8V100.9M389.7 139.5V128.3M390.4 138.2V129.1M391.7 140.4V120.1M393.7 138.9V130.4M394.7 140.8V130.1M395.6 139.7V134.7M398.2 141.4V133.1M399.4 142.9V135.8M400.4 144V138.9M401.3 142.4V136.7M402.6 142.9V134.9M404.3 142.3V136.5M405.3 141.9V141M407.7 142.1V130.8M410.5 142.8V139.2M411.8 142.5V138.8M412.5 141.6V137.9M414.6 143.8V140.6M415.3 143.7V139M416.6 143.4V139.5M417.5 143.9V138M418.7 143.8V140M419.6 144.5V140.7M423.8 144.4V140.1M424.3 143.8V141M426.7 143.7V137.3M427.3 143.5V140.1M428.8 143.6V136.9M429.2 142.7V130.6M431.4 142.4V128M432.6 142.3V103.7M433.6 139.6V108.4M435.8 140.4V112.1M436.8 139.1V104.2M437.4 138.2V117.6M439.5 139.2V101.3" stroke="#e4261a" stroke-opacity="0.85" stroke-width="1" fill="none"/><path d="M323.5 144.9V97M347.1 144.9V48M260 144.9V119M390 144.9V93.6M436 144.9V75M438 144.9V85M406.5 144.9V120.9" stroke="#e4261a" stroke-width="1" fill="none"/><path d="M258.9 133.3 259.7 132.6 260.4 132.1 261.2 136.6 261.9 136.7 262.7 138.9 263.5 136.6 264.2 136.9 265 138.2 265.7 139.2 266.5 137.8 267.3 139.7 268 140.8 268.8 140.7 269.5 141.6 270.3 141.1 271.1 141.5 271.8 142.4 272.6 141.4 273.3 142.6 274.1 142 274.9 141.9 275.6 141.3 276.4 142.4 277.1 142.2 277.9 142.5 278.7 142.5 279.4 142.5 280.2 142.6 280.9 142.5 281.7 143 282.5 143.2 283.2 143.3 284 143.1 284.7 143.3 285.5 143.2 286.3 143.4 287 143.5 287.8 143.2 288.5 143.3 289.3 143.6 290.1 143.3 290.8 143.4 291.6 143 292.3 143 293.1 143.2 293.9 143.5 294.6 143.3 295.4 143 296.1 142.8 296.9 143.1 297.7 143.5 298.4 142.6 299.2 143 299.9 143.2 300.7 142.4 301.5 143.3 302.2 142.3 303 142.9 303.7 142.6 304.5 142.5 305.3 143.1 306 142.9 306.8 143.4 307.5 142.9 308.3 142.2 309.1 142.5 309.8 140.1 310.6 140.7 311.3 141.3 312.1 139.8 312.9 140.1 313.6 139.1 314.4 138.4 315.1 138.7 315.9 138.6 316.7 139.2 317.4 138.4 318.2 139.4 318.9 140.4 319.7 135.5 320.5 134.3 321.2 131.7 322 134.2 322.7 132.6 323.5 118.6 324.3 123.8 325 118.2 325.8 119.8 326.5 131 327.3 117.8 328.1 124.1 328.8 124.8 329.6 132.2 330.3 132.7 331.1 132.8 331.9 136.1 332.6 137.9 333.4 139.2 334.1 140.3 334.9 141.7 335.7 141.6 336.4 141.8 337.2 142.1 337.9 142.3 338.7 142.4 339.5 141.4 340.2 140.3 341 140.5 341.7 137.7 342.5 137.4 343.3 136.3 344 136.8 344.8 133 345.5 136.9 346.3 134.6 347.1 132.4 347.8 133.3 348.6 134.9 349.3 136.6 350.1 136.1 350.9 136.5 351.6 137.9 352.4 137.9 353.1 140 353.9 139.5 354.7 139.4 355.4 141.2 356.2 141.8 356.9 142.2 357.7 142.5 358.5 141.1 359.2 142.1 360 142.8 360.7 141.6 361.5 141.4 362.3 142.4 363 141.7 363.8 142.3 364.5 142.5 365.3 143 366.1 141.7 366.8 142.4 367.6 142.7 368.3 142.6 369.1 142.5 369.9 143.1 370.6 142.5 371.4 142.7 372.1 143.5 372.9 143.6 373.7 143 374.4 142.5 375.2 141.6 375.9 141.2 376.7 141.8 377.5 140.9 378.2 141.8 379 137.3 379.7 137.7 380.5 135.8 381.3 137 382 135.6 382.8 135 383.5 131.4 384.3 133.5 385.1 129.4 385.8 125.5 386.6 123.9 387.3 126.3 388.1 115.2 388.9 117.7 389.6 118.7 390.4 118.9 391.1 109.9 391.9 119.4 392.7 112.4 393.4 116.2 394.2 116.4 394.9 120 395.7 127.1 396.5 127.9 397.2 133.1 398 136.6 398.7 136.1 399.5 135.8 400.3 138.1 401 139.3 401.8 140.1 402.5 138.3 403.3 138.3 404.1 139.5 404.8 138 405.6 133.6 406.3 131.8 407.1 135.5 407.9 137.1 408.6 134.5 409.4 138.1 410.1 137.7 410.9 136.2 411.7 139.1 412.4 140.2 413.2 139.8 413.9 138.3 414.7 140.2 415.5 141.3 416.2 141.6 417 142.2 417.7 142.1 418.5 142.9 419.3 141.8 420 141.9 420.8 142.6 421.5 140.9 422.3 141.5 423.1 142.8 423.8 141.6 424.6 142.1 425.3 141.4 426.1 140.6 426.9 138.2 427.6 137.4 428.4 139.3 429.1 137.9 429.9 135.3 430.7 128.8 431.4 125.8 432.2 119.5 432.9 111.5 433.7 103.9 434.5 91.5 435.2 80.5 436 79.3 436.7 81.9 437.5 85.2 438.3 98.8 439 105.9 439.8 101.1" stroke="#f7b02a" stroke-width="0.9" fill="none" stroke-linejoin="round"/><path d="M258.9 133.5 259.4 133.9 259.9 134.3 260.4 134.9 260.9 135.4 261.4 135.9 261.9 136.4 262.4 136.9 262.9 137.4 263.4 137.8 263.9 138.2 264.4 138.6 264.9 138.9 265.4 139.2 265.9 139.4 266.4 139.7 266.9 139.9 267.4 140.2 267.9 140.4 268.4 140.6 268.9 140.9 269.4 141.1 269.9 141.2 270.4 141.4 270.9 141.5 271.4 141.6 271.9 141.7 272.4 141.7 272.9 141.8 273.4 141.9 273.9 142 274.4 142.1 274.9 142.2 275.4 142.2 275.9 142.3 276.4 142.4 276.9 142.5 277.4 142.5 277.9 142.6 278.4 142.6 278.9 142.7 279.4 142.7 279.9 142.7 280.4 142.8 280.9 142.8 281.4 142.8 281.9 142.9 282.4 142.9 282.9 142.9 283.4 143 283.9 143 284.4 143 284.9 143.1 285.4 143.1 285.9 143.1 286.4 143.1 286.9 143.2 287.4 143.2 287.9 143.2 288.4 143.2 288.9 143.2 289.4 143.2 289.9 143.2 290.4 143.2 290.9 143.2 291.4 143.2 291.9 143.2 292.4 143.2 292.9 143.2 293.4 143.2 293.9 143.2 294.4 143.2 294.9 143.2 295.4 143.2 295.9 143.2 296.4 143.2 296.9 143.2 297.4 143.2 297.9 143.1 298.4 143.1 298.9 143.1 299.4 143.1 299.9 143 300.4 143 300.9 143 301.4 143 301.9 142.9 302.4 142.9 302.9 142.9 303.4 142.9 303.9 142.8 304.4 142.8 304.9 142.8 305.4 142.8 305.9 142.7 306.4 142.7 306.9 142.7 307.4 142.6 307.9 142.5 308.4 142.4 308.9 142.2 309.4 141.9 309.9 141.6 310.4 141.3 310.9 140.9 311.4 140.6 311.9 140.2 312.4 139.9 312.9 139.5 313.4 139.2 313.9 139 314.4 138.8 314.9 138.7 315.4 138.7 315.9 138.7 316.4 138.7 316.9 138.6 317.4 138.5 317.9 138.3 318.4 137.9 318.9 137.5 319.4 136.9 319.9 136.3 320.4 135.4 320.9 134.4 321.4 133.3 321.9 132.1 322.4 131 322.9 129.9 323.4 128.9 323.9 128.2 324.4 127.6 324.9 127.3 325.4 127.2 325.9 127.2 326.4 127.5 326.9 127.9 327.4 128.4 327.9 129.1 328.4 129.9 328.9 130.8 329.4 131.8 329.9 132.9 330.4 133.9 330.9 135 331.4 135.9 331.9 136.9 332.4 137.8 332.9 138.6 333.4 139.4 333.9 140.2 334.4 140.8 334.9 141.4 335.4 141.7 335.9 142 336.4 142.2 336.9 142.2 337.4 142.2 337.9 142.1 338.4 141.9 338.9 141.6 339.4 141.2 339.9 140.8 340.4 140.4 340.9 139.9 341.4 139.4 341.9 138.8 342.4 138.1 342.9 137.5 343.4 136.7 343.9 136 344.4 135.3 344.9 134.6 345.4 134 345.9 133.5 346.4 133.3 346.9 133.2 347.4 133.4 347.9 133.8 348.4 134.2 348.9 134.8 349.4 135.3 349.9 135.9 350.4 136.4 350.9 137 351.4 137.5 351.9 138 352.4 138.5 352.9 139 353.4 139.4 353.9 139.8 354.4 140.2 354.9 140.6 355.4 140.9 355.9 141.2 356.4 141.4 356.9 141.6 357.4 141.8 357.9 141.9 358.4 142 358.9 142 359.4 142 359.9 142.1 360.4 142.1 360.9 142.1 361.4 142.1 361.9 142.2 362.4 142.2 362.9 142.2 363.4 142.2 363.9 142.3 364.4 142.3 364.9 142.3 365.4 142.4 365.9 142.4 366.4 142.5 366.9 142.6 367.4 142.6 367.9 142.7 368.4 142.7 368.9 142.8 369.4 142.8 369.9 142.9 370.4 143 370.9 143 371.4 143 371.9 143 372.4 143 372.9 142.9 373.4 142.7 373.9 142.6 374.4 142.4 374.9 142.2 375.4 141.9 375.9 141.7 376.4 141.5 376.9 141.3 377.4 141 377.9 140.6 378.4 140.2 378.9 139.7 379.4 139.1 379.9 138.4 380.4 137.7 380.9 137 381.4 136.3 381.9 135.6 382.4 134.9 382.9 134.2 383.4 133.5 383.9 132.7 384.4 132 384.9 131.2 385.4 130.4 385.9 129.6 386.4 128.8 386.9 128.1 387.4 127.3 387.9 126.5 388.4 125.8 388.9 125.2 389.4 124.6 389.9 124.1 390.4 123.7 390.9 123.4 391.4 123.2 391.9 123.2 392.4 123.4 392.9 123.8 393.4 124.3 393.9 125 394.4 125.8 394.9 126.9 395.4 128.1 395.9 129.5 396.4 131 396.9 132.4 397.4 133.7 397.9 134.7 398.4 135.6 398.9 136.3 399.4 136.8 399.9 137.3 400.4 137.7 400.9 138 401.4 138.2 401.9 138.2 402.4 138.1 402.9 137.9 403.4 137.6 403.9 137.3 404.4 136.9 404.9 136.6 405.4 136.3 405.9 136.1 406.4 136.1 406.9 136.1 407.4 136.3 407.9 136.6 408.4 136.9 408.9 137.3 409.4 137.7 409.9 138.1 410.4 138.5 410.9 138.8 411.4 139.2 411.9 139.4 412.4 139.7 412.9 140 413.4 140.2 413.9 140.4 414.4 140.6 414.9 140.9 415.4 141.1 415.9 141.3 416.4 141.5 416.9 141.7 417.4 141.8 417.9 141.9 418.4 142 418.9 142 419.4 142 419.9 142.1 420.4 142.1 420.9 142.1 421.4 142.2 421.9 142.2 422.4 142.1 422.9 142.1 423.4 141.9 423.9 141.8 424.4 141.6 424.9 141.3 425.4 141.1 425.9 140.8 426.4 140.6 426.9 140.3 427.4 140 427.9 139.6 428.4 139.1 428.9 138.5 429.4 137.7 429.9 136.8 430.4 135.7 430.9 134.5 431.4 133.3 431.9 132 432.4 130.8 432.9 129.8 433.4 128.9" stroke="#000" stroke-width="1.55" fill="none" stroke-linejoin="round"/></g></g><path d="M260 138.4H447.6" stroke="#222" stroke-width="1" stroke-dasharray="3.4 2.4" fill="none"/><clipPath id="cc"><rect x="477.6" y="3.5" width="190.1" height="141.4"/></clipPath><g clip-path="url(#cc)"><g filter="url(#soft)"><path d="M477.3 145.9V106.7M478.6 145.9V83.9M479.2 145.9V116.1M480.5 145.9V134.5M481.6 145.9V134.9M482.5 145.9V127.4M483.8 145.9V135M484.4 145.9V129.4M485.7 145.9V141.1M486.2 145.9V124.8M487.4 145.9V124.2M488.7 145.9V138.9M489.6 145.9V136.8M490.7 145.9V136.7M491.5 145.9V135.5M492.6 145.9V131.3M493.6 145.9V136.1M494.5 145.9V138.2M495.6 145.9V133.1M496.5 145.9V128M497.4 145.9V135M498.5 145.9V133.1M499.5 145.9V139.3M500.6 145.9V128.2M501.6 145.9V121.2M502.6 145.9V131.8M503.7 145.9V136.5M504.8 145.9V141.3M505.2 145.9V137.2M506.6 145.9V139.7M507.7 145.9V129.9M508.5 145.9V126.7M509.3 145.9V125.3M510.8 145.9V135.4M511.7 145.9V132.4M512.4 145.9V136.4M513.4 145.9V134.1M514.2 145.9V132.8M515.4 145.9V133.8M516.5 145.9V142M517.4 145.9V134M518.3 145.9V132.4M519.3 145.9V138.1M520.2 145.9V134.5M521.4 145.9V128.5M522.6 145.9V140.8M523.7 145.9V131.7M524.7 145.9V137.1M525.4 145.9V137.4M526.6 145.9V127.5M527.6 145.9V134.1M528.3 145.9V129.6M529.6 145.9V131.7M530.5 145.9V129.2M531.5 145.9V130.8M532.7 145.9V125.1M533.4 145.9V129.1M534.3 145.9V130.2M535.5 145.9V93.7M536.2 145.9V107.6M537.8 145.9V105.4M538.7 145.9V85.9M539.3 145.9V103.1M540.5 145.9V114.4M541.8 145.9V126.7M542.2 145.9V103.6M543.7 145.9V107.1M544.5 145.9V90.5M545.3 145.9V117.8M546.7 145.9V116.6M547.6 145.9V134.4M548.4 145.9V113.2M549.3 145.9V134.1M550.7 145.9V131.5M551.3 145.9V125.2M552.6 145.9V128.1M553.6 145.9V129.4M554.4 145.9V124.6M555.8 145.9V136.1M556.8 145.9V128.2M557.7 145.9V114.7M558.3 145.9V117.7M559.8 145.9V136.6M560.7 145.9V115.4M561.8 145.9V117.1M562.7 145.9V127.9M563.5 145.9V132.5M564.3 145.9V120.1M565.4 145.9V107M566.5 145.9V117.8M567.5 145.9V128.3M568.7 145.9V120.8M569.7 145.9V112.7M570.4 145.9V126.7M571.7 145.9V130.8M572.3 145.9V128M573.5 145.9V138.9M574.7 145.9V133.6M575.6 145.9V139.6M576.2 145.9V132.7M577.8 145.9V134.2M578.7 145.9V135.5M579.5 145.9V136.6M580.5 145.9V135.7M581.6 145.9V129.2M582.2 145.9V137.5M583.4 145.9V135.9M584.4 145.9V132.1M585.7 145.9V128.9M586.3 145.9V134.2M587.3 145.9V136.4M588.5 145.9V130.6M589.4 145.9V135.1M590.3 145.9V119.7M591.5 145.9V122.8M592.5 145.9V117.9M593.6 145.9V136.6M594.6 145.9V133.6M595.6 145.9V130.9M596.7 145.9V134M597.4 145.9V127.8M598.3 145.9V105M599.5 145.9V128.2M600.3 145.9V113.7M601.3 145.9V82.6M602.6 145.9V99.3M603.3 145.9V77.6M604.7 145.9V86.6M605.5 145.9V107M606.6 145.9V89.6M607.5 145.9V54.4M608.8 145.9V92.7M609.6 145.9V73.3M610.7 145.9V74.7M611.7 145.9V87.2M612.4 145.9V3.8M613.3 145.9V83.5M614.5 145.9V120.2M615.5 145.9V110.6M616.7 145.9V73.7M617.4 145.9V74.1M618.5 145.9V128.2M619.3 145.9V117.4M620.4 145.9V124.1M621.4 145.9V139.3M622.4 145.9V126.7M623.8 145.9V99.3M624.7 145.9V133M625.5 145.9V125.6M626.4 145.9V118.1M627.4 145.9V130.7M628.5 145.9V127.4M629.8 145.9V121M630.3 145.9V134.7M631.7 145.9V121.7M632.6 145.9V134M633.8 145.9V125.1M634.6 145.9V119.9M635.3 145.9V105.4M636.8 145.9V126.2M637.8 145.9V122M638.3 145.9V119.2M639.4 145.9V133M640.3 145.9V122.2M641.5 145.9V119.6M642.7 145.9V115.1M643.7 145.9V89.3M644.6 145.9V115.5M645.5 145.9V118.6M646.3 145.9V112.1M647.3 145.9V102.1M648.5 145.9V92.5M649.4 145.9V68M650.7 145.9V111.2M651.6 145.9V92M652.6 145.9V125M653.3 145.9V117.8M654.6 145.9V82.5M655.6 145.9V113.5M656.6 145.9V63M657.5 145.9V40.9M658.5 145.9V117.7" stroke="#d6d6d6" stroke-width="1" fill="none"/><path d="M477.5 145.9V113.1M478.5 145.9V97.8M479.5 145.9V121.4M480.5 145.9V136.8M481.5 145.9V136.6M482.5 145.9V132.9M483.5 145.9V137.5M484.5 145.9V132.8M485.5 145.9V141.5M486.5 145.9V128.2M487.5 145.9V129M488.5 145.9V140.7M489.5 145.9V138.2M490.5 145.9V139M491.5 145.9V138.4M492.5 145.9V133.7M493.5 145.9V138.7M494.5 145.9V139.6M495.5 145.9V134.7M496.5 145.9V131.7M497.5 145.9V138.5M498.5 145.9V136.2M499.5 145.9V140.6M500.5 145.9V133.4M501.5 145.9V128.2M502.5 145.9V135M503.5 145.9V137.3M504.5 145.9V141.5M505.5 145.9V138.1M506.5 145.9V141.6M507.5 145.9V134.3M508.5 145.9V128.8M509.5 145.9V131.2M510.5 145.9V136.6M511.5 145.9V135.4M512.5 145.9V139M513.5 145.9V136.4M514.5 145.9V136.4M515.5 145.9V137.2M516.5 145.9V142.3M517.5 145.9V136.3M518.5 145.9V135.7M519.5 145.9V139.3M520.5 145.9V135.8M521.5 145.9V134.3M522.5 145.9V141.8M523.5 145.9V133.9M524.5 145.9V138.2M525.5 145.9V139M526.5 145.9V133.3M527.5 145.9V136M528.5 145.9V133.6M529.5 145.9V134.9M530.5 145.9V132.3M531.5 145.9V133.9M532.5 145.9V129.5M533.5 145.9V131.4M534.5 145.9V131.9M535.5 145.9V108.2M536.5 145.9V120.8M537.5 145.9V116.2M538.5 145.9V95.1M539.5 145.9V112.4M540.5 145.9V119.8M541.5 145.9V128.9M542.5 145.9V109.6M543.5 145.9V113.7M544.5 145.9V105.2M545.5 145.9V121.5M546.5 145.9V126M547.5 145.9V136.8M548.5 145.9V124M549.5 145.9V137.5M550.5 145.9V134.7M551.5 145.9V129.8M552.5 145.9V132.3M553.5 145.9V133.3M554.5 145.9V130.5M555.5 145.9V139.2M556.5 145.9V132.9M557.5 145.9V125.4M558.5 145.9V126.4M559.5 145.9V138.2M560.5 145.9V123.5M561.5 145.9V125.1M562.5 145.9V133.2M563.5 145.9V134.9M564.5 145.9V128.4M565.5 145.9V113.7M566.5 145.9V123.5M567.5 145.9V133M568.5 145.9V126.6M569.5 145.9V117.8M570.5 145.9V129.1M571.5 145.9V133.4M572.5 145.9V130.8M573.5 145.9V141M574.5 145.9V135.2M575.5 145.9V140.3M576.5 145.9V137M577.5 145.9V135.4M578.5 145.9V137.1M579.5 145.9V138.8M580.5 145.9V137.8M581.5 145.9V133.2M582.5 145.9V140.1M583.5 145.9V139.1M584.5 145.9V135.2M585.5 145.9V133M586.5 145.9V136.3M587.5 145.9V138M588.5 145.9V133.3M589.5 145.9V137.5M590.5 145.9V124.3M591.5 145.9V128.3M592.5 145.9V122.8M593.5 145.9V137.7M594.5 145.9V135.7M595.5 145.9V133.6M596.5 145.9V135.9M597.5 145.9V130.9M598.5 145.9V115.6M599.5 145.9V130.3M600.5 145.9V123.2M601.5 145.9V93.2M602.5 145.9V108.6M603.5 145.9V100.5M604.5 145.9V104.5M605.5 145.9V110.8M606.5 145.9V103.3M607.5 145.9V86.2M608.5 145.9V100.3M609.5 145.9V86.2M610.5 145.9V99.4M611.5 145.9V94.6M612.5 145.9V53.7M613.5 145.9V91.2M614.5 145.9V124.2M615.5 145.9V116.5M616.5 145.9V86.7M617.5 145.9V94.6M618.5 145.9V132.4M619.5 145.9V123.8M620.5 145.9V129M621.5 145.9V139.9M622.5 145.9V129.7M623.5 145.9V114M624.5 145.9V134.6M625.5 145.9V132.4M626.5 145.9V123.5M627.5 145.9V132.7M628.5 145.9V132.5M629.5 145.9V127.9M630.5 145.9V136.4M631.5 145.9V125.7M632.5 145.9V135.7M633.5 145.9V128.4M634.5 145.9V121.9M635.5 145.9V111.9M636.5 145.9V132.7M637.5 145.9V126M638.5 145.9V125.6M639.5 145.9V136.5M640.5 145.9V127.5M641.5 145.9V124.1M642.5 145.9V120.3M643.5 145.9V99M644.5 145.9V122.8M645.5 145.9V123.5M646.5 145.9V121.6M647.5 145.9V117.3M648.5 145.9V106.4M649.5 145.9V77.3M650.5 145.9V119.6M651.5 145.9V102.8M652.5 145.9V128.7M653.5 145.9V122.2M654.5 145.9V94.9M655.5 145.9V124.6M656.5 145.9V92M657.5 145.9V77.7M658.5 145.9V121.9" stroke="#c6c6c6" stroke-width="1" fill="none"/><path d="M608.8 145.9V5.3M611.8 145.9V57.5M654.3 145.9V41.2M656.5 145.9V49.6M502.3 145.9V123.8M533.4 145.9V111.1M542.2 145.9V98.5M546.1 145.9V97.1M562.6 145.9V107.2M566.5 145.9V106.3M626.7 145.9V93M605 145.9V80M614 145.9V75M650 145.9V70M640 145.9V100M620 145.9V95M632 145.9V102M596 145.9V105M588 145.9V112M580 145.9V115M490 145.9V125M510 145.9V128M525 145.9V122" stroke="#a8a8a8" stroke-opacity="0.65" stroke-width="0.95" fill="none"/><path d="M477.5 142.7V138.5M478.5 143.1V140.5M479.7 143.9V143.2M480.3 143.7V141.8M481.4 143.5V142.6M483.3 144.2V140M484.7 144.4V141.3M485.6 144V137.7M486.5 144.1V139.7M487.5 144.2V141.5M488.2 144.5V143.7M489.6 144.3V143M490.4 144.5V142M491.5 144.1V143.2M492.4 144.4V140.7M493.8 144.2V142.4M494.4 144.3V142M495.6 144.6V142.8M499.5 144.5V139.6M500.6 144.6V140.8M503.5 144.5V143.1M504.3 144.5V140.6M506.4 144.4V143M507.6 144.5V142.1M508.2 144.5V141.2M510.6 144V142.9M511.2 144.3V142M513.2 144.2V142.3M514.6 144.5V140M515.5 144.5V143.1M518.5 144.4V142.4M519.2 143.7V140.9M520.3 144.1V143.4M522.6 144.3V141.9M523.5 144V142.3M526.7 144.2V143.1M527.7 144.3V141.1M528.6 143.7V142.2M529.5 143.8V142.8M530.8 143.6V143.1M531.7 143.7V142.5M532.4 143.8V142.6M533.3 142.7V138.9M534.4 142.1V138.1M535.6 143V139.3M536.6 142.8V133.6M537.6 142.6V136.1M538.6 141.1V137.9M539.3 142.8V139.5M540.7 143V134.7M541.8 141.5V136.7M542.8 141.8V126.5M545.2 140.5V135.4M546.2 141.7V139.2M547.7 141.1V140.4M548.4 142.7V136.4M550.3 143.2V141.4M553.6 144.4V141M554.8 144.5V139.3M556.5 144.3V139.3M558.6 144.1V142M559.6 143.6V142M560.6 143.2V136.5M562.3 143.4V138.4M563.5 142.6V137.7M564.4 143.2V131.9M565.7 142.8V134M566.4 142.3V135.2M568.8 143.1V141.3M569.4 142.3V137.4M570.5 143.3V140.1M572.3 144V140.6M574.5 143.7V141.5M575.5 143V141.9M577.6 144V141.8M578.8 144.2V141.5M580.2 144.4V141.3M581.7 144V140.5M582.5 143.6V142.7M583.5 144.3V142.3M584.7 144.2V142.6M585.8 144.1V140M586.7 144.1V141.6M587.7 144.4V142.2M588.7 144.1V142.7M589.4 143.4V140M590.4 143.5V140M592.6 143.6V141.6M593.7 143.2V141M595.7 143.6V137.1M596.4 143.4V141.2M597.3 142.6V142.1M599.7 142.9V138.2M600.5 142.7V133.1M601.8 140.1V134.3M602.5 141.1V136.4M603.4 139.3V131.4M605.5 140.5V116.1M606.8 138.1V115.2M607.7 139.5V112.8M610.8 134.7V85.6M611.6 137.2V82.2M612.4 139.6V121.5M614.6 139.7V126.5M615.6 140.8V137.2M616.7 141.6V127.4M617.8 142.2V134.8M618.3 143.3V131.6M621.7 143.3V141.2M622.4 143V139.5M623.6 142.9V138.9M627.7 143.1V139.2M629.5 143.6V140.2M631.4 143.2V139.6M632.5 143.8V140.6M633.6 143.8V134.1M636.5 144V137.2M637.6 143.7V139.7M638.5 143.5V138.2M639.5 143.5V139.6M640.5 142.7V139.6M642.8 143.9V140.9M643.4 142.9V137.3M646.5 141.6V134.1M647.4 140.8V128.8M648.7 140.9V130.6M649.3 140.7V117.1M651.3 141.3V121.9M653.5 138.3V103.1M654.2 137.8V101.5M655.2 139.6V103.6M656.6 136.4V100M658.5 139.7V103.4" stroke="#e4261a" stroke-opacity="0.85" stroke-width="1" fill="none"/><path d="M477.3 142.8V135M478.2 143.1V134.2M480.6 143.6V139.4M482.3 143.5V142.3M483.3 144.2V143.2M485.7 144.1V141.4M486.3 144.3V142.1M487.3 144.3V139.7M489.2 144.6V140.2M491.4 144.4V142.7M494.4 144.4V141.6M495.7 144V142.8M496.6 144.6V139.3M497.3 144.3V142M498.6 144.5V141.9M499.6 144.3V143.3M500.8 144.4V143.4M501.5 144.4V141.8M503.7 144.5V143.5M504.2 144.3V141.2M505.8 144.3V141.2M506.4 144.6V141.9M509.4 144.5V140.7M510.7 144.6V143.2M511.7 144.6V140.8M512.7 144.3V139.9M513.3 144.6V143.2M515.6 144.5V140.8M516.3 144.5V142.6M518.3 144.3V141M521.6 144V143.3M522.7 144V141.4M524.3 144.2V141.3M525.5 144.2V139.6M526.4 144.2V141M529.8 143.7V143.1M530.2 143.9V141.2M531.5 143.3V137.6M532.7 143.5V137.6M533.7 142.5V138.4M534.7 142.5V133.8M535.3 140.8V137.7M536.4 141.2V132.8M537.5 142.6V133.1M538.6 143.4V134.5M539.6 142.6V136.4M540.6 142.7V126.3M541.3 140.9V139.2M542.6 141.8V124.5M546.8 141.2V140.6M547.5 140.9V134.2M549.6 140.3V137.7M552.4 144V139.5M553.3 143.1V140.2M556.5 144.2V141.7M558.6 143.8V141M559.3 143.7V139.9M560.7 143.7V137.7M561.8 143.6V140.1M562.7 142.4V130.8M566.3 142.5V130.6M568.6 143.3V139.9M569.3 143.1V140M570.4 144V139.3M571.4 143.8V142.8M574.5 143.7V140.6M576.3 143.9V142.6M577.5 144.1V141.3M578.7 144V142.6M579.5 144.1V140.4M583.4 144.4V141.1M585.4 144V142.7M587.4 144.1V141.8M588.6 144.2V142.2M589.8 144V142M591.8 144.1V142.5M593.4 143.5V139.7M595.5 143.8V143.1M596.6 143.7V141.6M597.8 143.1V140.5M600.7 141.8V139.2M601.3 141.8V138.2M602.6 140.5V136.1M603.2 131.9V129.4M605.4 139.4V131.2M607.2 132.1V103.3M608.2 133.8V106M610.6 139V108.9M611.6 135.2V116.4M612.7 141V112.2M613.7 138.8V114.1M614.5 140.9V131.6M615.4 141.6V128.6M616.3 143.1V134.3M620.6 143.9V141.1M621.3 142.5V139.9M622.6 142.6V139.4M623.2 142.9V141.3M624.6 140.7V140.3M625.6 142.6V142.2M626.6 142.6V139.8M627.8 143.3V139M628.5 143.5V138.9M629.8 142.8V136.9M630.5 143.2V139.2M632.4 143.2V140.7M633.8 141.4V138M634.4 143.9V138.6M635.8 143.9V139.9M636.2 144.1V139.1M637.5 143.6V140M638.3 143.6V134.5M641.6 142.8V139.6M644.2 142.9V137.3M646.5 140.6V134.6M647.6 142.4V131.8M648.2 142.1V123.5M650.2 140.1V100.3M651.2 141V104.4M652.2 139.1V115.1M653.5 139.9V114.8M654.3 138.9V78M655.3 136V84.5M656.5 137.8V101.1M657.2 139.4V122" stroke="#e4261a" stroke-opacity="0.85" stroke-width="1" fill="none"/><path d="M608.8 144.9V61.6M654.8 144.9V66.6M542.5 144.9V115" stroke="#e4261a" stroke-width="1" fill="none"/><path d="M478 138.4 478.8 140.8 479.5 141.9 480.3 140.4 481 142.3 481.8 141 482.6 142 483.3 141.5 484.1 142.8 484.8 142.9 485.6 143 486.4 142.7 487.1 142.6 487.9 142.6 488.6 143 489.4 142.7 490.2 142.4 490.9 143 491.7 143.2 492.4 142.8 493.2 142.8 494 143.2 494.7 143.2 495.5 142.8 496.2 143.1 497 143.6 497.8 143.2 498.5 143.2 499.3 143 500 143.3 500.8 143.8 501.6 142.7 502.3 143.8 503.1 143.5 503.8 143.9 504.6 143.9 505.4 143.3 506.1 143.3 506.9 143.6 507.6 143.8 508.4 143.8 509.2 143.2 509.9 143.1 510.7 143.2 511.4 142.8 512.2 143 513 143.3 513.7 143.3 514.5 143.3 515.2 143.5 516 143.4 516.8 142.9 517.5 143.2 518.3 141.9 519 143.3 519.8 142.7 520.6 141.6 521.3 142.9 522.1 142.7 522.8 140.9 523.6 142.7 524.4 142.3 525.1 141.9 525.9 141 526.6 139.8 527.4 142.1 528.2 141.2 528.9 141.1 529.7 141.9 530.4 140.7 531.2 139.8 532 137.2 532.7 138.6 533.5 133.3 534.2 138.4 535 137 535.8 137.3 536.5 137.2 537.3 138 538 137.4 538.8 138.3 539.6 138.2 540.3 135.6 541.1 135.3 541.8 136.5 542.6 126.4 543.4 131.8 544.1 130.3 544.9 130.6 545.6 134.4 546.4 133.1 547.2 134.8 547.9 129.6 548.7 135.2 549.4 133.1 550.2 138.7 551 138.7 551.7 140.7 552.5 141 553.2 141.6 554 143 554.8 142.8 555.5 142.3 556.3 142.9 557 142.9 557.8 143 558.6 142.6 559.3 141.3 560.1 141.9 560.8 141.5 561.6 139.4 562.4 140.2 563.1 139.5 563.9 138.3 564.6 137.3 565.4 140.3 566.2 138.5 566.9 136.3 567.7 136.9 568.4 139 569.2 139.8 570 140.8 570.7 140.6 571.5 141.6 572.2 141.2 573 141 573.8 142.2 574.5 141.8 575.3 141.7 576 141.5 576.8 142.2 577.6 142.5 578.3 142.2 579.1 142.7 579.8 142.7 580.6 142.2 581.4 143.7 582.1 142.5 582.9 141.1 583.6 142.8 584.4 142.4 585.2 141.4 585.9 141.4 586.7 141.5 587.4 142.6 588.2 142.7 589 141.4 589.7 140.1 590.5 142.6 591.2 141.7 592 141.8 592.8 140.9 593.5 140.2 594.3 138.7 595 139.2 595.8 139.9 596.6 138.8 597.3 139.4 598.1 139.2 598.8 136.1 599.6 136.1 600.4 135.4 601.1 133.3 601.9 131.4 602.6 133.8 603.4 131.8 604.2 123.3 604.9 120.3 605.7 121.4 606.4 111.4 607.2 100.4 608 119.8 608.7 103 609.5 100.4 610.2 112.7 611 120.2 611.8 119.8 612.5 113.7 613.3 114.6 614 127.2 614.8 130.4 615.6 133.1 616.3 134 617.1 134.6 617.8 132.8 618.6 137.5 619.4 138.1 620.1 138.4 620.9 137.8 621.6 139.2 622.4 139.6 623.2 138.2 623.9 138 624.7 137.4 625.4 137.4 626.2 137 627 137.5 627.7 139.3 628.5 139.3 629.2 139.8 630 139.3 630.8 138.8 631.5 139 632.3 138.5 633 140.2 633.8 139.9 634.6 141.1 635.3 139.2 636.1 142 636.8 140.9 637.6 141.7 638.4 141 639.1 140.5 639.9 141.1 640.6 138.5 641.4 139.3 642.2 138.5 642.9 138.5 643.7 136.3 644.4 138.1 645.2 136.6 646 135.4 646.7 131.9 647.5 131.5 648.2 132.3 649 126.1 649.8 125.6 650.5 127.1 651.3 108.6 652 111.9 652.8 98.7 653.6 99.6 654.3 93.7 655.1 92.7 655.8 97.9 656.6 89.1 657.4 99 658.1 98.4 658.9 100.7" stroke="#f7b02a" stroke-width="0.9" fill="none" stroke-linejoin="round"/><path d="M478 139.3 478.5 139.6 479 140 479.5 140.3 480 140.6 480.5 140.9 481 141.1 481.5 141.3 482 141.5 482.5 141.7 483 141.9 483.5 142.1 484 142.2 484.5 142.4 485 142.5 485.5 142.6 486 142.7 486.5 142.7 487 142.8 487.5 142.8 488 142.8 488.5 142.9 489 142.9 489.5 143 490 143 490.5 143 491 143.1 491.5 143.1 492 143.1 492.5 143.2 493 143.2 493.5 143.2 494 143.2 494.5 143.3 495 143.3 495.5 143.3 496 143.3 496.5 143.3 497 143.4 497.5 143.4 498 143.4 498.5 143.4 499 143.4 499.5 143.4 500 143.5 500.5 143.5 501 143.5 501.5 143.5 502 143.5 502.5 143.5 503 143.6 503.5 143.6 504 143.6 504.5 143.6 505 143.6 505.5 143.6 506 143.5 506.5 143.5 507 143.5 507.5 143.5 508 143.5 508.5 143.5 509 143.4 509.5 143.4 510 143.4 510.5 143.4 511 143.4 511.5 143.4 512 143.3 512.5 143.3 513 143.3 513.5 143.3 514 143.3 514.5 143.2 515 143.2 515.5 143.2 516 143.2 516.5 143.1 517 143.1 517.5 143 518 143 518.5 142.9 519 142.8 519.5 142.8 520 142.7 520.5 142.7 521 142.6 521.5 142.6 522 142.5 522.5 142.4 523 142.4 523.5 142.3 524 142.2 524.5 142.2 525 142.1 525.5 142 526 141.9 526.5 141.8 527 141.7 527.5 141.6 528 141.5 528.5 141.4 529 141.2 529.5 140.9 530 140.6 530.5 140.2 531 139.8 531.5 139.3 532 138.9 532.5 138.5 533 138.1 533.5 137.7 534 137.4 534.5 137.2 535 137 535.5 137 536 137.1 536.5 137.2 537 137.4 537.5 137.6 538 137.6 538.5 137.4 539 137.1 539.5 136.6 540 136 540.5 135.4 541 134.7 541.5 133.9 542 133.2 542.5 132.5 543 132 543.5 131.7 544 131.6 544.5 131.7 545 131.9 545.5 132.3 546 132.7 546.5 133.2 547 133.8 547.5 134.4 548 135.1 548.5 135.8 549 136.5 549.5 137.2 550 137.9 550.5 138.6 551 139.2 551.5 139.8 552 140.4 552.5 140.9 553 141.4 553.5 141.8 554 142.2 554.5 142.5 555 142.7 555.5 142.8 556 142.8 556.5 142.8 557 142.7 557.5 142.5 558 142.4 558.5 142.2 559 141.9 559.5 141.6 560 141.3 560.5 140.9 561 140.5 561.5 140.2 562 139.8 562.5 139.5 563 139.2 563.5 138.9 564 138.6 564.5 138.4 565 138.2 565.5 138 566 137.9 566.5 137.9 567 138.1 567.5 138.3 568 138.6 568.5 138.9 569 139.3 569.5 139.7 570 140.1 570.5 140.4 571 140.8 571.5 141.1 572 141.3 572.5 141.5 573 141.6 573.5 141.7 574 141.8 574.5 141.8 575 141.9 575.5 141.9 576 142 576.5 142 577 142.1 577.5 142.1 578 142.2 578.5 142.2 579 142.3 579.5 142.3 580 142.4 580.5 142.4 581 142.4 581.5 142.4 582 142.4 582.5 142.4 583 142.3 583.5 142.3 584 142.3 584.5 142.2 585 142.2 585.5 142.1 586 142.1 586.5 142 587 142 587.5 141.9 588 141.9 588.5 141.8 589 141.8 589.5 141.7 590 141.6 590.5 141.5 591 141.4 591.5 141.3 592 141.1 592.5 140.9 593 140.7 593.5 140.5 594 140.3 594.5 140.1 595 139.9 595.5 139.7 596 139.5 596.5 139.2 597 139 597.5 138.7 598 138.3 598.5 137.8 599 137.2 599.5 136.4 600 135.5 600.5 134.6 601 133.6 601.5 132.6 602 131.5 602.5 130.4 603 129.2 603.5 127.9 604 126.5 604.5 125 605 123.5 605.5 122 606 120.7 606.5 119.5 607 118.6 607.5 117.9 608 117.4 608.5 117.1 609 117.2 609.5 117.5 610 118.1 610.5 118.8 611 119.7 611.5 120.8 612 122 612.5 123.3 613 124.7 613.5 126.3 614 127.9 614.5 129.4 615 130.9 615.5 132.2 616 133.3 616.5 134.3 617 135.1 617.5 135.8 618 136.5 618.5 137.1 619 137.6 619.5 138.1 620 138.5 620.5 138.7 621 138.7 621.5 138.7 622 138.5 622.5 138.3 623 138 623.5 137.8 624 137.6 624.5 137.5 625 137.4 625.5 137.5 626 137.6 626.5 137.9 627 138.2 627.5 138.5 628 138.8 628.5 139.1 629 139.4 629.5 139.7 630 139.9 630.5 140.1 631 140.2 631.5 140.3 632 140.4 632.5 140.6 633 140.7 633.5 140.8 634 140.9 634.5 141 635 141.1 635.5 141.2 636 141.2 636.5 141.3 637 141.3 637.5 141.3 638 141.2 638.5 141.1 639 140.9 639.5 140.6 640 140.4 640.5 140.1 641 139.9 641.5 139.6 642 139.4 642.5 139.1 643 138.8 643.5 138.5 644 138.1 644.5 137.7 645 137.3 645.5 136.8 646 136.3 646.5 135.8 647 135.3 647.5 134.8 648 134.3 648.5 133.7 649 133.2 649.5 132.5 650 131.6 650.5 130.7 651 129.6 651.5 128.3 652 127.1 652.5 126 653 124.9 653.5 124.1" stroke="#000" stroke-width="1.55" fill="none" stroke-linejoin="round"/></g></g><path d="M479.1 139H666.7" stroke="#222" stroke-width="1" stroke-dasharray="3.4 2.4" fill="none"/><clipPath id="cd"><rect x="39.3" y="158.6" width="190.1" height="141.4"/></clipPath><g clip-path="url(#cd)"><g filter="url(#soft)"><path d="M39.2 301.1V284.5M40.6 301.1V291.7M41.5 301.1V284.6M42.3 301.1V292.2M43.2 301.1V278.1M44.4 301.1V291.7M45.4 301.1V288.1M46.8 301.1V288.9M47.7 301.1V291.6M48.5 301.1V278.2M49.6 301.1V291.6M50.5 301.1V288.2M51.4 301.1V287.9M52.3 301.1V274.6M53.7 301.1V287.9M54.3 301.1V267.8M55.2 301.1V283.9M56.7 301.1V285.3M57.5 301.1V280.2M58.6 301.1V281M59.2 301.1V286.7M60.7 301.1V285.6M61.4 301.1V277.6M62.4 301.1V267.6M63.3 301.1V274.5M64.2 301.1V274.8M65.4 301.1V289.8M66.3 301.1V274.4M67.5 301.1V279.5M68.4 301.1V245M69.4 301.1V246.8M70.5 301.1V268.3M71.6 301.1V265.9M72.3 301.1V275.8M73.7 301.1V275.6M74.3 301.1V273.1M75.4 301.1V276.6M76.6 301.1V271.1M77.8 301.1V257.2M78.3 301.1V270M79.7 301.1V262.3M80.3 301.1V280.5M81.5 301.1V273.6M82.5 301.1V263.4M83.3 301.1V285.5M84.5 301.1V262.2M85.2 301.1V257.2M86.5 301.1V244.3M87.5 301.1V272.4M88.5 301.1V262.7M89.4 301.1V264.5M90.4 301.1V278.5M91.3 301.1V259M92.4 301.1V283M93.4 301.1V267.4M94.3 301.1V249.1M95.8 301.1V260.3M96.8 301.1V284.7M97.2 301.1V238.5M98.3 301.1V262.8M99.8 301.1V250M100.2 301.1V276.5M101.3 301.1V268M102.8 301.1V236.6M103.7 301.1V274.8M104.4 301.1V274.6M105.5 301.1V275.1M106.5 301.1V256.6M107.5 301.1V282.9M108.2 301.1V274.3M109.4 301.1V281.1M110.8 301.1V242.5M111.2 301.1V262.2M112.3 301.1V266.6M113.8 301.1V273.9M114.7 301.1V276.3M115.6 301.1V278.8M116.6 301.1V277.9M117.5 301.1V250M118.5 301.1V276.5M119.8 301.1V276.9M120.8 301.1V267.5M121.3 301.1V261.6M122.7 301.1V269.9M123.6 301.1V283.5M124.3 301.1V275.2M125.5 301.1V279.2M126.7 301.1V287.2M127.2 301.1V280.4M128.6 301.1V277.4M129.2 301.1V277.7M130.7 301.1V253M131.6 301.1V277M132.2 301.1V281M133.2 301.1V279M134.3 301.1V281.9M135.6 301.1V280.1M136.7 301.1V268.9M137.3 301.1V276.5M138.5 301.1V287.1M139.4 301.1V287.9M140.8 301.1V273.8M141.5 301.1V283.6M142.3 301.1V281.6M143.5 301.1V261.9M144.7 301.1V281.6M145.3 301.1V280.5M146.6 301.1V280.6M147.3 301.1V264.7M148.6 301.1V284.1M149.7 301.1V286.2M150.6 301.1V275.3M151.4 301.1V256.6M152.8 301.1V268.8M153.7 301.1V257.5M154.7 301.1V261.2M155.8 301.1V283.7M156.5 301.1V270.6M157.8 301.1V265.9M158.3 301.1V262.8M159.6 301.1V230.6M160.3 301.1V204.9M161.5 301.1V229.7M162.2 301.1V195.4M163.7 301.1V244.2M164.4 301.1V213.4M165.6 301.1V249.4M166.5 301.1V231.2M167.7 301.1V259.1M168.2 301.1V168.1M169.6 301.1V248.7M170.6 301.1V210.5M171.3 301.1V262.1M172.6 301.1V237M173.4 301.1V219.5M174.4 301.1V244.2M175.6 301.1V244.6M176.2 301.1V247.9M177.5 301.1V258.3M178.3 301.1V261.2M179.6 301.1V273.4M180.5 301.1V242.3M181.3 301.1V267.4M182.3 301.1V262.9M183.4 301.1V264M184.4 301.1V275.1M185.7 301.1V282.3M186.3 301.1V277.2M187.6 301.1V244M188.2 301.1V275.2M189.2 301.1V251.9M190.7 301.1V280.7M191.7 301.1V267M192.5 301.1V268M193.6 301.1V269.5M194.6 301.1V243.1M195.8 301.1V269.9M196.5 301.1V262M197.5 301.1V250.9M198.6 301.1V226.3M199.6 301.1V258.8M200.3 301.1V265.2M201.5 301.1V258.2M202.3 301.1V220.8M203.6 301.1V260.1M204.3 301.1V255.6M205.3 301.1V264.4M206.3 301.1V210.6M207.5 301.1V232M208.2 301.1V260.7M209.2 301.1V254.2M210.7 301.1V227.9M211.7 301.1V240.5M212.7 301.1V259.9M213.3 301.1V253.6M214.3 301.1V241.5M215.6 301.1V237.6M216.4 301.1V237M217.6 301.1V246.7M218.4 301.1V249.6M219.2 301.1V236.8M220.6 301.1V222.4" stroke="#d6d6d6" stroke-width="1" fill="none"/><path d="M39.5 301.1V286.1M40.5 301.1V293.9M41.5 301.1V287.6M42.5 301.1V293.4M43.5 301.1V284.8M44.5 301.1V293.9M45.5 301.1V291.5M46.5 301.1V291M47.5 301.1V294.6M48.5 301.1V284.3M49.5 301.1V293.2M50.5 301.1V292.4M51.5 301.1V289.9M52.5 301.1V283.6M53.5 301.1V290.4M54.5 301.1V273.7M55.5 301.1V286.7M56.5 301.1V287.5M57.5 301.1V283.3M58.5 301.1V286M59.5 301.1V289.6M60.5 301.1V287.3M61.5 301.1V283.2M62.5 301.1V271.6M63.5 301.1V281.6M64.5 301.1V279.6M65.5 301.1V292M66.5 301.1V283.4M67.5 301.1V281.5M68.5 301.1V264.5M69.5 301.1V265.7M70.5 301.1V279.2M71.5 301.1V275.6M72.5 301.1V280M73.5 301.1V284M74.5 301.1V278.9M75.5 301.1V281.4M76.5 301.1V275.9M77.5 301.1V272.4M78.5 301.1V279.5M79.5 301.1V267.1M80.5 301.1V284.9M81.5 301.1V277.1M82.5 301.1V275.3M83.5 301.1V287.8M84.5 301.1V270.7M85.5 301.1V269.4M86.5 301.1V256.2M87.5 301.1V276.3M88.5 301.1V269.9M89.5 301.1V269.2M90.5 301.1V286.1M91.5 301.1V272.3M92.5 301.1V284.9M93.5 301.1V272M94.5 301.1V267.1M95.5 301.1V272M96.5 301.1V287.8M97.5 301.1V258.4M98.5 301.1V272.7M99.5 301.1V265.5M100.5 301.1V281.2M101.5 301.1V279.3M102.5 301.1V252.8M103.5 301.1V278.4M104.5 301.1V280.4M105.5 301.1V280.2M106.5 301.1V268.2M107.5 301.1V287.3M108.5 301.1V280.5M109.5 301.1V284.2M110.5 301.1V257M111.5 301.1V269.1M112.5 301.1V278.4M113.5 301.1V277.7M114.5 301.1V281.2M115.5 301.1V282.8M116.5 301.1V281.3M117.5 301.1V263.5M118.5 301.1V282.6M119.5 301.1V282.7M120.5 301.1V279M121.5 301.1V268.6M122.5 301.1V278.2M123.5 301.1V287.5M124.5 301.1V281.6M125.5 301.1V282.1M126.5 301.1V289M127.5 301.1V286.6M128.5 301.1V280.6M129.5 301.1V285.4M130.5 301.1V269.6M131.5 301.1V281.2M132.5 301.1V286.1M133.5 301.1V284.2M134.5 301.1V288.3M135.5 301.1V287.2M136.5 301.1V278.7M137.5 301.1V284.1M138.5 301.1V291.7M139.5 301.1V289.8M140.5 301.1V279.7M141.5 301.1V288.9M142.5 301.1V285.1M143.5 301.1V275.4M144.5 301.1V284.5M145.5 301.1V284.7M146.5 301.1V285.3M147.5 301.1V275.3M148.5 301.1V286.7M149.5 301.1V288.9M150.5 301.1V281.9M151.5 301.1V266.9M152.5 301.1V277.7M153.5 301.1V264.5M154.5 301.1V266.8M155.5 301.1V284.8M156.5 301.1V274.4M157.5 301.1V272.2M158.5 301.1V267.2M159.5 301.1V243.6M160.5 301.1V233.4M161.5 301.1V242.3M162.5 301.1V227.6M163.5 301.1V260.4M164.5 301.1V232.6M165.5 301.1V264M166.5 301.1V252.4M167.5 301.1V264.2M168.5 301.1V214.7M169.5 301.1V254M170.5 301.1V232.5M171.5 301.1V268.6M172.5 301.1V248.1M173.5 301.1V238.8M174.5 301.1V254.8M175.5 301.1V256M176.5 301.1V259.3M177.5 301.1V264.8M178.5 301.1V270.7M179.5 301.1V277.2M180.5 301.1V258.4M181.5 301.1V271.9M182.5 301.1V272.3M183.5 301.1V270.8M184.5 301.1V283.9M185.5 301.1V285.1M186.5 301.1V285.3M187.5 301.1V255.3M188.5 301.1V278.3M189.5 301.1V269M190.5 301.1V287.3M191.5 301.1V278.7M192.5 301.1V274.5M193.5 301.1V279.7M194.5 301.1V263.2M195.5 301.1V277.8M196.5 301.1V275.5M197.5 301.1V262.2M198.5 301.1V252.4M199.5 301.1V266.2M200.5 301.1V271.9M201.5 301.1V267.5M202.5 301.1V240.6M203.5 301.1V271.4M204.5 301.1V269.4M205.5 301.1V268.2M206.5 301.1V234.7M207.5 301.1V246.2M208.5 301.1V265.5M209.5 301.1V263M210.5 301.1V251.3M211.5 301.1V258.6M212.5 301.1V265.3M213.5 301.1V262.7M214.5 301.1V253.3M215.5 301.1V259.7M216.5 301.1V250.6M217.5 301.1V256.1M218.5 301.1V261.4M219.5 301.1V241.9M220.5 301.1V241.2" stroke="#c0c0c0" stroke-width="1" fill="none"/><path d="M81.8 301.1V249.6M91.2 301.1V249.6M67.2 301.1V260.3M44.4 301.1V268.1M113 301.1V264.2M128.5 301.1V263.2M170.2 301.1V173.9M176.8 301.1V207M216.9 301.1V185.6M163.2 301.1V220.6M172 301.1V200M167 301.1V230M210 301.1V215M213 301.1V225M205 301.1V235M200 301.1V240M186 301.1V240M182 301.1V235M150 301.1V262M140 301.1V268M120 301.1V262M100 301.1V262M75 301.1V262M60 301.1V270M50 301.1V272M106 301.1V258M95 301.1V255" stroke="#a8a8a8" stroke-opacity="0.65" stroke-width="0.95" fill="none"/><path d="M39.7 299.5V297.5M40.6 299.5V297.1M41.7 299.6V297.5M42.6 299.5V296.1M43.5 299.7V297.3M44.7 299.3V293M45.4 299.6V297.7M46.8 299.6V297.6M47.7 299.9V297.9M48.5 299.8V295.7M49.7 299.9V297.7M50.5 299.9V294.3M52.4 299.5V294.9M53.3 299.7V291.8M54.2 299.6V297.3M55.4 299.8V299M56.4 299.9V295.1M57.5 299.3V295M58.6 299.8V296.2M59.6 299.7V296.1M60.4 299.6V293.7M61.8 299.8V298M62.7 299.7V296.1M63.8 299.5V291.7M64.6 299.6V296.9M65.4 299.5V296.1M66.8 299.4V296.2M67.4 299.5V293.8M68.8 299.6V297.9M69.5 299.6V296.6M70.4 299.8V294.2M71.4 299.6V293.1M72.3 299V297.5M73.7 299.2V295.1M75.4 299.7V295M77.5 299.2V297.8M78.8 299.4V297M80.2 299.3V298.2M81.7 299V297.9M82.2 298.9V296.1M83.6 298.5V294.4M84.3 298.7V295.4M86.3 299.1V295.6M87.4 298.2V294.6M88.2 298.2V294.8M89.2 299V297.6M90.6 298.6V297.5M91.6 298.8V292.4M92.5 298.8V297.1M93.4 298.1V290.6M94.4 297.2V290.7M95.5 298.5V294.2M96.7 297.7V291.5M97.6 298.3V289.1M98.3 299V292.6M99.6 298.6V293.6M100.6 298.5V288.2M101.7 296.4V288.3M102.5 298V285.3M103.8 298.1V293.6M104.5 297.6V289.2M105.3 297.2V291.4M106.6 298V288.3M107.3 297.8V293.6M108.6 299.2V295.8M109.4 298.8V293.5M110.2 298.9V297.4M111.3 298.6V296.5M112.7 298.7V295.2M113.7 298.6V291.7M114.5 298.9V297.2M115.7 299V295.8M116.4 299.2V295.8M117.4 298.9V297.8M119.7 299.5V296.1M120.4 298.7V295.6M121.4 299.2V294.7M122.7 298.7V297.1M123.6 299.1V297.1M124.4 299.1V291.7M125.2 299.2V295.4M126.4 299.5V292.7M128.5 298.5V294.6M129.8 299.5V296.9M130.4 299.4V290.3M131.4 299.5V295.9M132.7 299.7V296.4M133.6 299.8V294.7M134.6 299.6V293.6M135.5 299.6V294.5M136.8 299.8V296.2M137.3 299.6V293.6M138.6 299.8V296.8M139.5 299.8V294.9M142.5 299.8V294.4M143.3 299.8V294.9M144.6 299.6V296.7M146.7 299.7V295.7M147.8 299.8V294M148.8 299.8V292.8M149.2 299.7V296.7M150.3 299.4V294.3M151.5 299.2V292.4M152.8 298.9V296.4M153.5 299.2V294M154.5 299.1V296.2M155.5 297.1V292.9M156.4 298V289.3M157.3 296.7V290.1M160.4 297.6V292.9M161.7 296.4V288M163.4 295.6V291.4M164.3 295V262.8M165.2 293.6V283.3M166.4 295.5V281.8M167.6 293.4V285.5M168.8 292.7V259M170.7 290.4V274.3M171.4 290.1V265.4M172.4 294V281.8M173.4 293.9V282.3M174.3 295.6V267.1M176.6 298.3V282.6M177.4 297V291.9M178.6 297.9V289.4M179.7 297.8V282.9M180.3 297.5V292.8M181.3 298.2V289.2M182.2 297.7V294.3M183.5 297.9V292M184.7 297.7V290M186.8 299V293.7M187.5 298.8V293.1M188.4 298.1V291.8M189.8 298.6V293.3M190.3 298.4V294M191.3 298.2V280.9M193.5 299.4V294.3M194.5 299.4V270.5M195.5 299.6V288.5M196.5 298.8V292.8M197.5 299.2V290.5M198.5 299.4V292.4M199.6 298.7V284.9M200.3 298.8V283.9M201.7 297.9V294.7M202.6 298.3V292.8M203.5 298V287.2M204.7 297.2V290.9M205.4 295.6V286.8M206.3 298V285.8M208.4 296.9V272M209.3 296.4V275.8M210.3 297.9V288.9M211.5 296.7V284.6M212.5 295.6V286.2M213.7 296.1V280.8M214.5 294.7V279.5M215.5 296.4V279.9M216.4 294V266.4M217.6 294.7V270.4M218.3 295.8V281.4M219.6 295.2V275.5" stroke="#e4261a" stroke-opacity="0.85" stroke-width="1" fill="none"/><path d="M39.5 299.4V298.8M41.2 299.8V297.7M42.7 299.8V297M44.6 299.8V294.7M46.4 299.7V292.8M47.3 299.9V296.3M48.6 299.8V296.9M49.2 299.8V294.4M50.4 299.8V294.6M51.7 299.8V296.2M52.6 299.8V295.4M53.4 299.7V297.4M54.4 299.6V296.4M55.8 299.9V296.2M56.3 299.8V294.5M57.7 299.6V296.8M58.6 299.6V296.7M59.4 299.6V298.6M60.7 299.7V293.1M61.4 299.7V297.6M62.4 299.2V296.7M63.4 299.4V295.2M64.6 299.7V296.2M66.4 299.7V292.8M67.6 299.4V298.6M68.4 299.5V296M69.3 299.7V296.3M70.3 299.7V297.8M71.4 299.4V297.1M72.3 299.5V296.7M73.7 299.6V295.2M74.2 299.1V293.9M75.6 299.3V295.1M77.8 299.5V291.1M78.4 299.1V297.2M79.6 299.4V296.3M80.4 298.5V295.8M81.4 298.4V295.7M82.8 299.4V294.7M83.3 298.5V294.9M84.3 298.2V292.2M85.5 298.7V297M86.3 298.2V294.7M87.3 297.7V293.6M88.7 298.6V296.8M89.4 298.9V293.1M90.4 298.1V296.5M91.8 298.2V295.3M92.5 296.9V295.5M93.2 299.3V291.9M94.3 298.3V287.4M95.4 298.3V294M96.4 297.8V283.7M98.7 298.3V292.2M99.3 298V287.7M100.7 298.8V290.2M101.7 298.5V286.5M102.7 298.8V295.8M103.5 298.9V289.6M104.3 298.3V294.1M105.4 298.4V287.5M106.3 297.9V295.1M107.7 297.9V291.4M108.5 298V295.2M109.3 296.4V290.5M110.3 298.2V296.8M111.7 298.3V296.3M112.8 299V295.5M113.3 298.7V294.5M114.6 298.7V296.4M115.5 299.3V296.9M116.3 299.4V294.5M117.4 299.1V294.9M119.5 299.1V294.8M120.4 299V293.6M121.3 299.1V296.8M122.6 299.2V297.2M123.6 299.1V294.3M124.4 298.5V294.7M125.7 299.1V294.1M126.2 299V295.7M127.6 298.9V295.3M128.5 299.2V293.9M129.7 299.5V296.6M130.4 299.6V294.2M131.6 299.5V295.3M132.3 299.6V294.9M133.6 299.9V296.1M134.4 299.7V289.9M136.4 299.7V295.4M137.7 299.8V295.7M138.5 299.7V296.3M139.6 299.7V296.5M140.7 299.7V295.6M141.5 299.8V297.8M142.5 299.9V293.8M143.4 299.6V291.1M144.4 299.8V291.8M145.4 299.7V294.5M146.5 299.6V293.8M147.3 299.6V292.2M148.7 299.6V291.1M149.8 299.6V295.1M150.3 298.9V295.3M151.7 299.2V297.6M152.7 299.5V294.6M153.8 299.3V294.4M154.3 299.4V290.5M155.3 298.4V296.4M156.8 298.1V283.5M157.2 298.9V293.9M158.6 297.5V280.5M159.8 297.9V287.9M160.4 296.9V291.3M161.2 296.5V286.3M162.6 296.1V285M163.6 294.5V290.1M164.6 292.3V277.9M165.3 294.6V289M166.4 291.4V278.3M168.5 291.8V260M169.6 294.7V281.2M171.5 293.9V281.5M172.5 295.9V280.4M173.3 296.7V284.2M174.2 298V288.9M175.8 296.7V288.5M176.5 297.7V287.6M177.7 297.7V290M178.6 296.9V281.5M180.6 298.8V282.1M182.3 297.6V287.4M183.6 298.4V292M184.4 298.3V283.8M185.5 299.2V288.4M186.6 298.7V296.4M187.7 297.6V294.2M188.5 298.4V287.9M189.5 298.4V291.7M190.4 299.1V292.7M191.5 298.6V291.9M192.7 298.8V291.5M193.6 299.7V291.1M194.4 299.6V290.6M195.2 299.1V292.6M196.4 299.1V292M197.3 299.6V288.9M198.3 299.4V295.4M199.4 299.2V295.5M200.7 298.6V294.2M201.5 298.2V290.7M202.3 299.1V290M203.7 298.3V283.9M204.7 297.2V291.1M205.8 297.8V276.5M207.4 297.6V268.4M208.2 297.9V284.3M209.7 297V280.4M210.7 295.4V291M211.4 298.1V275.3M212.8 297.1V279.9M213.6 297V280.3M214.5 295.4V284.5M215.7 293.3V279.6M216.5 296V280.6M217.8 294.8V264.1M219.3 293.6V272.3M220.5 294.6V280.1" stroke="#e4261a" stroke-opacity="0.85" stroke-width="1" fill="none"/><path d="M104.2 300.1V281.1M91.6 300.1V285.6M170 300.1V241.8M217.7 300.1V246.7" stroke="#e4261a" stroke-width="1" fill="none"/><path d="M39.7 298.1 40.5 298.1 41.2 298.6 42 298.5 42.7 298.4 43.5 298.5 44.3 299 45 298.8 45.8 298.9 46.5 299 47.3 298.8 48.1 299.4 48.8 298.8 49.6 299 50.3 299.1 51.1 299 51.9 299.1 52.6 299.2 53.4 298.4 54.1 298.9 54.9 299.1 55.7 298.9 56.4 298.4 57.2 298.8 57.9 297.6 58.7 298.3 59.5 298.5 60.2 298 61 298.7 61.7 298.6 62.5 298 63.3 298.3 64 297.6 64.8 298.6 65.5 298.3 66.3 298.4 67.1 297.5 67.8 298.1 68.6 298.2 69.3 298.7 70.1 298.9 70.9 298.2 71.6 298.3 72.4 297.8 73.1 298.2 73.9 297.9 74.7 298.2 75.4 298 76.2 297.3 76.9 297.6 77.7 297.7 78.5 296.6 79.2 296.7 80 295.8 80.7 294.2 81.5 296.8 82.3 294.5 83 295.7 83.8 294.4 84.5 295.6 85.3 295 86.1 295.6 86.8 295.9 87.6 294.2 88.3 294.9 89.1 295 89.9 293.9 90.6 293.1 91.4 291.1 92.1 293.2 92.9 294.5 93.7 294.1 94.4 290.6 95.2 293.3 95.9 291.3 96.7 292.8 97.5 292.5 98.2 294.6 99 291.7 99.7 294.5 100.5 294.6 101.3 294.3 102 294.7 102.8 292.6 103.5 291.3 104.3 289.9 105.1 292 105.8 293.2 106.6 293.2 107.3 294.6 108.1 294.5 108.9 294.6 109.6 294.1 110.4 293 111.1 293.3 111.9 293.6 112.7 294.9 113.4 295.5 114.2 296.8 114.9 297.7 115.7 296.2 116.5 297.6 117.2 297 118 296.7 118.7 296.9 119.5 296.7 120.3 296.4 121 294.8 121.8 296.4 122.5 296.4 123.3 297 124.1 296.3 124.8 297.1 125.6 295.9 126.3 296.7 127.1 296.2 127.9 296.6 128.6 298 129.4 297.2 130.1 297.2 130.9 297.8 131.7 297 132.4 298.2 133.2 298.5 133.9 299.1 134.7 298.8 135.5 298.7 136.2 298.5 137 299.2 137.7 298.9 138.5 299 139.3 298.9 140 298.9 140.8 299 141.5 299.2 142.3 299.2 143.1 298.9 143.8 298.7 144.6 299 145.3 298.5 146.1 298 146.9 299 147.6 298.1 148.4 298.4 149.1 298.5 149.9 298.2 150.7 297.9 151.4 297.8 152.2 297.1 152.9 296.7 153.7 296.8 154.5 296.4 155.2 296.2 156 294.9 156.7 292.7 157.5 292.6 158.3 294.3 159 292.4 159.8 287.1 160.5 290.3 161.3 289.8 162.1 290.6 162.8 282.2 163.6 283.8 164.3 277.2 165.1 271.8 165.9 283.6 166.6 273.7 167.4 273.5 168.1 251.5 168.9 258.9 169.7 262.6 170.4 269.6 171.2 268.6 171.9 277 172.7 277.3 173.5 286 174.2 283 175 284.7 175.7 287.4 176.5 287.5 177.3 290.3 178 293 178.8 293.1 179.5 293.3 180.3 293.9 181.1 292.6 181.8 293.1 182.6 290.6 183.3 293.7 184.1 294.8 184.9 293.9 185.6 293.6 186.4 295.3 187.1 293.5 187.9 295 188.7 296 189.4 294.5 190.2 296.9 190.9 296.6 191.7 295.9 192.5 296.3 193.2 297.2 194 298.1 194.7 298.3 195.5 298.4 196.3 297.6 197 296.6 197.8 296.6 198.5 296.6 199.3 296.5 200.1 296.2 200.8 295.9 201.6 295.1 202.3 295 203.1 293.8 203.9 294 204.6 292 205.4 288.5 206.1 289.4 206.9 288.5 207.7 291.2 208.4 289.3 209.2 289.1 209.9 290 210.7 284.1 211.5 286.2 212.2 279.7 213 279.7 213.7 280 214.5 273.9 215.3 271.2 216 271.4 216.8 265.1 217.5 267.5 218.3 274.8 219.1 280.8 219.8 275.8 220.6 279.8" stroke="#f7b02a" stroke-width="0.9" fill="none" stroke-linejoin="round"/><path d="M39.7 298.4 40.2 298.4 40.7 298.4 41.2 298.5 41.7 298.5 42.2 298.6 42.7 298.6 43.2 298.7 43.7 298.7 44.2 298.8 44.7 298.8 45.2 298.9 45.7 298.9 46.2 299 46.7 299 47.2 299 47.7 299.1 48.2 299.1 48.7 299.1 49.2 299.1 49.7 299.1 50.2 299.1 50.7 299.1 51.2 299 51.7 299 52.2 299 52.7 299 53.2 298.9 53.7 298.9 54.2 298.9 54.7 298.8 55.2 298.8 55.7 298.8 56.2 298.7 56.7 298.7 57.2 298.7 57.7 298.6 58.2 298.6 58.7 298.6 59.2 298.5 59.7 298.5 60.2 298.4 60.7 298.3 61.2 298.3 61.7 298.2 62.2 298.2 62.7 298.1 63.2 298.1 63.7 298 64.2 298 64.7 298 65.2 298 65.7 298.1 66.2 298.1 66.7 298.2 67.2 298.2 67.7 298.3 68.2 298.4 68.7 298.4 69.2 298.5 69.7 298.5 70.2 298.5 70.7 298.4 71.2 298.4 71.7 298.3 72.2 298.2 72.7 298.2 73.2 298.1 73.7 298 74.2 297.9 74.7 297.8 75.2 297.7 75.7 297.7 76.2 297.6 76.7 297.5 77.2 297.4 77.7 297.3 78.2 297.1 78.7 297 79.2 296.8 79.7 296.7 80.2 296.5 80.7 296.3 81.2 296.2 81.7 296 82.2 295.8 82.7 295.7 83.2 295.5 83.7 295.4 84.2 295.3 84.7 295.2 85.2 295.1 85.7 295 86.2 294.9 86.7 294.8 87.2 294.8 87.7 294.7 88.2 294.6 88.7 294.5 89.2 294.4 89.7 294.4 90.2 294.3 90.7 294.2 91.2 294.1 91.7 294 92.2 293.9 92.7 293.8 93.2 293.7 93.7 293.6 94.2 293.5 94.7 293.4 95.2 293.3 95.7 293.2 96.2 293.2 96.7 293.3 97.2 293.4 97.7 293.5 98.2 293.7 98.7 293.8 99.2 293.9 99.7 294 100.2 294 100.7 294 101.2 293.8 101.7 293.6 102.2 293.4 102.7 293.2 103.2 293 103.7 292.8 104.2 292.8 104.7 292.8 105.2 292.8 105.7 292.9 106.2 293.1 106.7 293.2 107.2 293.4 107.7 293.6 108.2 293.7 108.7 293.9 109.2 294.1 109.7 294.2 110.2 294.4 110.7 294.6 111.2 294.8 111.7 294.9 112.2 295.1 112.7 295.3 113.2 295.5 113.7 295.6 114.2 295.8 114.7 296 115.2 296.1 115.7 296.3 116.2 296.4 116.7 296.5 117.2 296.6 117.7 296.6 118.2 296.6 118.7 296.6 119.2 296.6 119.7 296.6 120.2 296.5 120.7 296.5 121.2 296.5 121.7 296.4 122.2 296.4 122.7 296.4 123.2 296.4 123.7 296.4 124.2 296.4 124.7 296.4 125.2 296.5 125.7 296.6 126.2 296.7 126.7 296.8 127.2 296.9 127.7 297.1 128.2 297.2 128.7 297.3 129.2 297.4 129.7 297.5 130.2 297.7 130.7 297.8 131.2 297.9 131.7 298 132.2 298.2 132.7 298.3 133.2 298.4 133.7 298.5 134.2 298.6 134.7 298.6 135.2 298.7 135.7 298.7 136.2 298.8 136.7 298.8 137.2 298.8 137.7 298.9 138.2 298.9 138.7 299 139.2 299 139.7 299 140.2 299.1 140.7 299.1 141.2 299.1 141.7 299.1 142.2 299.1 142.7 299.1 143.2 299 143.7 299 144.2 298.9 144.7 298.9 145.2 298.8 145.7 298.8 146.2 298.7 146.7 298.6 147.2 298.6 147.7 298.5 148.2 298.4 148.7 298.4 149.2 298.2 149.7 298.1 150.2 297.9 150.7 297.7 151.2 297.5 151.7 297.2 152.2 297 152.7 296.7 153.2 296.4 153.7 296.2 154.2 295.9 154.7 295.6 155.2 295.3 155.7 295 156.2 294.6 156.7 294.2 157.2 293.8 157.7 293.4 158.2 293 158.7 292.6 159.2 292.1 159.7 291.7 160.2 291.2 160.7 290.5 161.2 289.8 161.7 288.9 162.2 287.8 162.7 286.7 163.2 285.5 163.7 284.2 164.2 282.9 164.7 281.7 165.2 280.4 165.7 279.1 166.2 277.8 166.7 276.6 167.2 275.4 167.7 274.4 168.2 273.6 168.7 273.1 169.2 273 169.7 273.3 170.2 273.9 170.7 274.8 171.2 276 171.7 277.4 172.2 278.8 172.7 280.4 173.2 281.9 173.7 283.3 174.2 284.6 174.7 285.7 175.2 286.8 175.7 287.7 176.2 288.6 176.7 289.4 177.2 290.1 177.7 290.7 178.2 291.2 178.7 291.6 179.2 291.9 179.7 292.1 180.2 292.3 180.7 292.5 181.2 292.7 181.7 292.9 182.2 293.1 182.7 293.3 183.2 293.5 183.7 293.6 184.2 293.8 184.7 294 185.2 294.1 185.7 294.3 186.2 294.4 186.7 294.6 187.2 294.7 187.7 294.8 188.2 295 188.7 295.2 189.2 295.4 189.7 295.6 190.2 295.8 190.7 296.1 191.2 296.4 191.7 296.7 192.2 297 192.7 297.3 193.2 297.5 193.7 297.7 194.2 297.9 194.7 297.9 195.2 297.9 195.7 297.8 196.2 297.6 196.7 297.5 197.2 297.3 197.7 297.1 198.2 296.9 198.7 296.8 199.2 296.5 199.7 296.3 200.2 296 200.7 295.6 201.2 295.2 201.7 294.7 202.2 294.2 202.7 293.7 203.2 293.2 203.7 292.8 204.2 292.3 204.7 291.8 205.2 291.3 205.7 290.8 206.2 290.4 206.7 290 207.2 289.7 207.7 289.4 208.2 289.2 208.7 289.1 209.2 288.9 209.7 288.7 210.2 288.5 210.7 288.2 211.2 287.8 211.7 287.4 212.2 286.9 212.7 286.4 213.2 285.9 213.7 285.4 214.2 285 214.7 284.7" stroke="#000" stroke-width="1.55" fill="none" stroke-linejoin="round"/></g></g><path d="M40.8 295H228.4" stroke="#222" stroke-width="1" stroke-dasharray="3.4 2.4" fill="none"/><clipPath id="ce"><rect x="258.5" y="158.6" width="190.1" height="141.4"/></clipPath><g clip-path="url(#ce)"><g filter="url(#soft)"><path d="M258.4 301.1V244.6M259.3 301.1V251.7M260.6 301.1V273M261.2 301.1V277.6M262.3 301.1V282.4M263.3 301.1V285.9M264.6 301.1V277.1M265.5 301.1V288.3M266.5 301.1V285.8M267.7 301.1V284.9M268.3 301.1V278.5M269.7 301.1V285.2M270.6 301.1V285.3M271.4 301.1V277.1M272.4 301.1V278.1M273.5 301.1V285.9M274.4 301.1V268.3M275.5 301.1V279.3M276.5 301.1V274.1M277.7 301.1V277.6M278.3 301.1V258.5M279.3 301.1V278.6M280.6 301.1V282.7M281.7 301.1V274.1M282.8 301.1V264.8M283.7 301.1V272.5M284.3 301.1V270.6M285.4 301.1V256.8M286.3 301.1V281.6M287.5 301.1V254.6M288.3 301.1V256.9M289.6 301.1V276.6M290.3 301.1V275.2M291.7 301.1V277.4M292.3 301.1V265.8M293.5 301.1V277M294.2 301.1V267.3M295.5 301.1V260.3M296.3 301.1V282.1M297.5 301.1V267M298.3 301.1V272.7M299.2 301.1V276M300.4 301.1V268.3M301.6 301.1V273.8M302.5 301.1V279.2M303.5 301.1V276.1M304.5 301.1V272M305.6 301.1V273.2M306.3 301.1V280.8M307.2 301.1V244.3M308.7 301.1V256.8M309.7 301.1V256.9M310.7 301.1V272.1M311.8 301.1V283.3M312.6 301.1V269M313.5 301.1V264.3M314.3 301.1V273.3M315.6 301.1V272.1M316.4 301.1V263.1M317.3 301.1V250.1M318.3 301.1V269.6M319.8 301.1V270.5M320.3 301.1V273.5M321.3 301.1V257.4M322.6 301.1V269.1M323.8 301.1V271.7M324.7 301.1V273.3M325.7 301.1V275.1M326.7 301.1V269.6M327.6 301.1V242.3M328.3 301.1V271.8M329.4 301.1V261.1M330.4 301.1V276.4M331.8 301.1V265.6M332.3 301.1V282.4M333.7 301.1V252.9M334.7 301.1V276.7M335.2 301.1V268.3M336.5 301.1V266.3M337.3 301.1V253.7M338.3 301.1V266.6M339.4 301.1V267.3M340.3 301.1V280M341.8 301.1V278.2M342.3 301.1V276.6M343.5 301.1V275.7M344.4 301.1V274.3M345.3 301.1V266.1M346.6 301.1V275.6M347.5 301.1V270M348.5 301.1V281.4M349.2 301.1V277.2M350.4 301.1V281.9M351.5 301.1V264.4M352.6 301.1V274M353.5 301.1V272M354.7 301.1V274.2M355.6 301.1V281.9M356.4 301.1V275.2M357.6 301.1V285.2M358.3 301.1V270M359.5 301.1V272.5M360.6 301.1V268.4M361.7 301.1V274.2M362.3 301.1V269.8M363.4 301.1V276.2M364.4 301.1V274.4M365.4 301.1V279.6M366.5 301.1V272.4M367.6 301.1V264.3M368.7 301.1V258.6M369.6 301.1V272.4M370.7 301.1V278.4M371.8 301.1V278.5M372.4 301.1V265.5M373.5 301.1V267M374.3 301.1V249.5M375.5 301.1V217.7M376.6 301.1V259.8M377.6 301.1V224.7M378.6 301.1V230.1M379.4 301.1V261.1M380.5 301.1V248.1M381.3 301.1V221.4M382.5 301.1V258M383.5 301.1V253M384.7 301.1V230.8M385.8 301.1V254M386.8 301.1V251.7M387.6 301.1V233.4M388.8 301.1V240.1M389.3 301.1V236.7M390.3 301.1V214.2M391.4 301.1V219.8M392.7 301.1V266.7M393.3 301.1V223.7M394.5 301.1V245M395.7 301.1V248.5M396.3 301.1V248.1M397.7 301.1V227.3M398.6 301.1V250.6M399.4 301.1V259.2M400.2 301.1V255.5M401.4 301.1V273.9M402.3 301.1V254.7M403.7 301.1V258.9M404.8 301.1V274.6M405.4 301.1V272.4M406.7 301.1V277.6M407.6 301.1V267.1M408.7 301.1V249.4M409.8 301.1V261.8M410.6 301.1V268.2M411.5 301.1V263.3M412.3 301.1V245.5M413.2 301.1V267M414.7 301.1V266.4M415.7 301.1V221.1M416.7 301.1V264.1M417.5 301.1V250.6M418.6 301.1V235.1M419.3 301.1V249.1M420.6 301.1V250.8M421.4 301.1V231.9M422.3 301.1V257M423.4 301.1V247.4M424.6 301.1V252.1M425.8 301.1V229.6M426.5 301.1V261.4M427.5 301.1V269.1M428.4 301.1V263M429.5 301.1V253.1M430.5 301.1V258.6M431.4 301.1V248.7M432.6 301.1V255.4M433.7 301.1V247.1M434.8 301.1V269.2M435.4 301.1V268.3M436.4 301.1V252.8M437.7 301.1V256.8M438.3 301.1V263.9M439.3 301.1V260.7M440.3 301.1V257.7" stroke="#d6d6d6" stroke-width="1" fill="none"/><path d="M258.5 301.1V255.1M259.5 301.1V262.6M260.5 301.1V280.3M261.5 301.1V281.7M262.5 301.1V284.6M263.5 301.1V287.4M264.5 301.1V279.6M265.5 301.1V289.3M266.5 301.1V288.9M267.5 301.1V289M268.5 301.1V282M269.5 301.1V288M270.5 301.1V286.2M271.5 301.1V280.9M272.5 301.1V280.9M273.5 301.1V288.3M274.5 301.1V272.1M275.5 301.1V281.9M276.5 301.1V277.2M277.5 301.1V280.5M278.5 301.1V269.6M279.5 301.1V283.3M280.5 301.1V284.3M281.5 301.1V278.1M282.5 301.1V269.9M283.5 301.1V279.9M284.5 301.1V272.9M285.5 301.1V266.2M286.5 301.1V286M287.5 301.1V266.7M288.5 301.1V268.4M289.5 301.1V280.3M290.5 301.1V277.3M291.5 301.1V279.9M292.5 301.1V270.1M293.5 301.1V280.6M294.5 301.1V271.4M295.5 301.1V264.1M296.5 301.1V286M297.5 301.1V272.9M298.5 301.1V276.6M299.5 301.1V279.3M300.5 301.1V272.4M301.5 301.1V276.7M302.5 301.1V284.8M303.5 301.1V279.7M304.5 301.1V275.7M305.5 301.1V280.4M306.5 301.1V283.6M307.5 301.1V255M308.5 301.1V261.5M309.5 301.1V263.1M310.5 301.1V274.2M311.5 301.1V286.7M312.5 301.1V277.3M313.5 301.1V271M314.5 301.1V278.6M315.5 301.1V279.6M316.5 301.1V273M317.5 301.1V255.9M318.5 301.1V273.4M319.5 301.1V274.9M320.5 301.1V280.6M321.5 301.1V261.8M322.5 301.1V273.2M323.5 301.1V276.1M324.5 301.1V277.9M325.5 301.1V279.7M326.5 301.1V274M327.5 301.1V257.7M328.5 301.1V275.3M329.5 301.1V271.5M330.5 301.1V280.8M331.5 301.1V273.3M332.5 301.1V284.2M333.5 301.1V262.1M334.5 301.1V279M335.5 301.1V271.2M336.5 301.1V274.1M337.5 301.1V261.5M338.5 301.1V270M339.5 301.1V269.5M340.5 301.1V284.5M341.5 301.1V281.9M342.5 301.1V282.1M343.5 301.1V281.7M344.5 301.1V281.1M345.5 301.1V268.1M346.5 301.1V276.6M347.5 301.1V276.6M348.5 301.1V282.7M349.5 301.1V283.1M350.5 301.1V285.4M351.5 301.1V270.3M352.5 301.1V278.2M353.5 301.1V274.3M354.5 301.1V278.3M355.5 301.1V284.7M356.5 301.1V280M357.5 301.1V289.2M358.5 301.1V273.9M359.5 301.1V278.5M360.5 301.1V276.9M361.5 301.1V277.3M362.5 301.1V273.3M363.5 301.1V279M364.5 301.1V276.9M365.5 301.1V281.2M366.5 301.1V278.2M367.5 301.1V273.8M368.5 301.1V267.2M369.5 301.1V276M370.5 301.1V281.1M371.5 301.1V282.5M372.5 301.1V269.7M373.5 301.1V272.1M374.5 301.1V256.2M375.5 301.1V237.3M376.5 301.1V268.4M377.5 301.1V238M378.5 301.1V237.3M379.5 301.1V266.3M380.5 301.1V259.8M381.5 301.1V242.4M382.5 301.1V263.6M383.5 301.1V265.6M384.5 301.1V240.5M385.5 301.1V260.6M386.5 301.1V261M387.5 301.1V241.8M388.5 301.1V250.3M389.5 301.1V247.9M390.5 301.1V226.1M391.5 301.1V231.8M392.5 301.1V273.7M393.5 301.1V244.1M394.5 301.1V259.7M395.5 301.1V257.9M396.5 301.1V252.7M397.5 301.1V237.4M398.5 301.1V254.7M399.5 301.1V266.4M400.5 301.1V261M401.5 301.1V278.9M402.5 301.1V261.5M403.5 301.1V265.8M404.5 301.1V278.2M405.5 301.1V279.8M406.5 301.1V279.2M407.5 301.1V275.7M408.5 301.1V262.9M409.5 301.1V270M410.5 301.1V274.2M411.5 301.1V270.6M412.5 301.1V253.1M413.5 301.1V270.5M414.5 301.1V274.2M415.5 301.1V239.1M416.5 301.1V272.8M417.5 301.1V258.5M418.5 301.1V251.8M419.5 301.1V260.3M420.5 301.1V264M421.5 301.1V243.4M422.5 301.1V259.8M423.5 301.1V253M424.5 301.1V261.6M425.5 301.1V236M426.5 301.1V270.1M427.5 301.1V272.9M428.5 301.1V269.5M429.5 301.1V262M430.5 301.1V263.3M431.5 301.1V258.8M432.5 301.1V267.2M433.5 301.1V254.1M434.5 301.1V273.7M435.5 301.1V272.4M436.5 301.1V263M437.5 301.1V267.4M438.5 301.1V268.4M439.5 301.1V266.1M440.5 301.1V267.4" stroke="#b9b9b9" stroke-width="1" fill="none"/><path d="M348.5 301.1V236M321.2 301.1V250.6M310.5 301.1V255.5M301.8 301.1V257.4M280.4 301.1V256.4M328 301.1V253.5M383 301.1V172.8M374 301.1V228.5M389 301.1V218M396.5 301.1V221M290 301.1V262M270 301.1V268M336 301.1V258M342 301.1V250M360 301.1V248M366 301.1V240M405 301.1V232M412 301.1V238M420 301.1V225M430 301.1V222M436 301.1V230M440 301.1V235M316 301.1V262M296 301.1V266M285 301.1V265M262 301.1V270" stroke="#a8a8a8" stroke-opacity="0.65" stroke-width="0.95" fill="none"/><path d="M258.8 299.5V296M259.5 299.4V294.9M260.5 299.6V294.7M261.5 299.7V294.9M262.3 299.7V296M263.2 299.5V296.1M264.5 299.4V294.4M265.7 299.8V295.3M266.3 299.7V292.5M267.6 299.9V294.4M268.4 299.7V295.5M269.4 299.7V294.9M270.5 299.8V292.6M271.6 299.5V293.6M272.6 299.7V296.9M273.5 299.7V295.6M274.5 299.6V290.5M275.5 299.5V294.6M276.8 299.6V298.5M277.2 299.5V296.2M278.3 299.8V293.7M279.6 299.3V290.6M280.7 299.6V292.9M281.2 299.4V297.4M282.4 299.4V295.6M283.7 299.8V294.2M284.5 299.6V293.3M285.4 299.6V296.8M286.2 299.7V297.2M287.8 299.6V293.9M288.2 299.7V288.8M289.2 299.8V296.3M290.7 299.6V294.7M291.4 299.5V295.9M292.3 299.7V294.9M294.3 299.4V297M295.2 299.7V297.6M296.5 299.8V294.9M297.6 299.5V288.9M298.4 299.4V294.9M299.6 299.4V295.4M300.5 299.5V296.2M301.5 299.7V296.5M302.2 299.9V287.6M303.6 299.4V293.9M304.7 299.4V294.8M305.5 299.6V292.3M306.5 299.6V297.8M307.4 299.6V296M308.8 299.4V294.1M309.7 299.3V291.3M310.2 299.8V293.9M311.6 299.3V293.4M312.5 299.2V294.4M313.8 299.5V296.8M314.5 298.5V296.1M315.7 299V296.5M316.2 298.9V295.7M317.7 299.2V297.1M319.3 299V296.9M321.5 299.2V294.7M322.6 299.1V289.7M323.6 299.2V295.2M324.4 299.3V297.9M325.5 299V289M326.8 299.1V292.7M327.4 299V294.8M328.6 299.3V296.9M329.4 299.3V295.8M330.3 299.5V293M331.6 299.6V287.7M332.2 299.2V291.6M333.8 299.4V289.9M334.2 299.5V294M335.5 299.5V296.1M336.6 299.2V297.1M337.5 298.8V291.7M338.7 298.9V297.7M339.6 299.2V294.7M340.4 298.9V288.5M341.6 299.2V291.5M342.5 299.5V297M343.8 299.2V290.8M344.6 299.2V296.8M345.5 299.6V297.6M346.6 299V295.7M347.5 299V295.7M350.3 299.6V297.1M351.4 299.4V297.7M352.2 299.3V296.8M353.4 299.4V295.4M354.5 299.4V297.2M355.2 299.4V296.8M356.3 299.2V297M357.7 299.2V294M358.3 299.1V297.4M359.6 299.2V294.6M360.4 298.8V297.5M361.4 298.9V296.5M362.4 299.3V290.7M363.7 298.6V294.3M364.7 298.9V294.2M365.5 298.5V294.8M366.6 298.2V296.7M367.7 299.2V294.5M368.8 299.1V297.3M369.4 296.7V291.3M370.3 298.3V291.3M371.2 298.5V292.1M372.3 298.9V291.6M373.6 298.3V290.8M374.6 298.5V287.4M375.4 297.9V289.3M376.4 297.8V287M377.6 298.3V287.2M378.3 297.8V280.7M379.3 297.9V286M380.5 298.1V279.7M381.3 297.1V292.1M383.3 293.3V265.2M385.6 295.8V285.6M386.8 296.8V275.3M387.2 295.8V273.6M388.2 296.7V279.6M389.7 297.4V282.5M390.7 298.5V282.7M391.7 297.7V278.3M392.5 297V278.3M393.7 298.3V289M394.6 297.4V291.2M395.4 298.4V291.5M396.4 297.5V290.2M397.4 298.2V292.4M398.5 298.8V293.9M399.6 298.5V292.5M400.4 297.9V290.2M401.8 299.1V295.3M402.4 299.3V294.6M403.5 298.9V287.2M404.7 298.7V290.5M405.5 299.3V288.7M406.6 299.2V294.3M407.4 299.1V294.5M408.6 299.3V271.6M409.7 298.9V291.1M410.5 299.2V291M411.5 299.3V285.3M412.5 299.4V292.4M413.5 298.8V294.2M414.5 299.3V287M415.7 298.9V285.2M416.5 298.4V285M417.4 298.8V286.2M418.4 298.6V292.5M419.6 297.4V291.7M420.4 298.9V288.3M421.8 298.4V287.1M422.3 297.7V290.2M423.3 298.6V282.5M424.5 298.6V285.1M425.8 297.9V285.8M426.4 298.3V284.9M427.5 297.5V287.7M428.5 298.1V290.1M429.7 297.9V290.4M430.4 295.7V286.9M431.7 295.7V290.2M432.7 297V286.4M433.8 296.8V283.7M434.7 296V285.1M436.3 297.7V286.9M438.8 297.4V291.8M439.4 297.8V291.6M440.5 298V276.4" stroke="#e4261a" stroke-opacity="0.85" stroke-width="1" fill="none"/><path d="M258.7 299.6V292.6M259.3 299.3V297.4M260.4 299.7V295.5M261.5 299.7V295.9M262.7 299.6V298.1M263.8 299.5V293.8M264.5 299.8V295.2M265.4 299.7V294.5M266.3 299.7V295.5M267.8 299.8V295.9M268.2 299.6V292.1M269.3 299.8V296.3M271.2 299.6V292.9M272.6 299.3V290.5M273.8 299.6V295M274.7 299.5V293.4M275.5 299.9V290.4M277.5 299.3V297.4M278.3 299.2V293.2M279.4 299.5V293.2M280.4 299.4V297.4M281.5 299.5V295.6M282.4 299.7V292.3M283.7 299.6V294.4M284.3 299.6V294.1M285.7 299.6V296.9M286.2 299.8V296.1M287.7 299.4V294.2M288.7 299.3V296.3M289.4 299.7V295.2M290.5 299.6V295.3M291.5 299.7V298.4M292.3 299.7V290.7M293.6 299.7V294.7M294.5 299.4V295.1M295.2 299.6V296.6M296.7 299.8V297.5M297.5 299.8V294.2M298.4 299.6V292.7M299.4 299.8V295.3M300.3 299.7V296.6M301.6 299.6V296.2M302.6 299.6V297.1M303.5 299.2V295.5M304.4 299.6V296.4M305.6 299.4V293.6M306.2 299.2V296M307.4 299.3V296.5M308.5 299.5V292M309.3 299.5V295.9M310.4 299.6V295.4M311.2 299.4V296.4M312.4 299.5V297.3M313.3 299.3V291.3M314.5 299V292.5M315.2 298.3V294M316.2 298.9V297.2M317.8 299.2V296.9M318.8 299.3V296.3M319.7 298.8V294.7M320.7 299.4V290.5M321.5 299.2V296.6M322.3 298.9V295M323.5 299.3V291.7M324.2 299.5V293.2M325.3 299.1V297.7M326.5 299.3V296.4M327.4 299V296.2M328.7 299.1V298.3M329.8 299.3V293.3M330.2 299.3V293.5M331.7 299.4V297.2M332.2 299.6V295M333.3 299.1V295.6M334.8 299.4V295.4M335.4 299.5V294.6M336.7 299.4V294.5M337.6 299.8V290.8M338.8 299.1V293.1M339.5 299.5V294.4M340.8 298.9V295.8M341.4 299.5V297.5M343.7 299.2V293.8M344.6 299.5V294.6M345.5 299.3V295.4M347.8 299.4V294.5M348.7 299.4V295M349.7 299.5V295.5M350.7 299.4V295.6M351.4 299.5V295.5M352.6 299.3V296.5M353.3 299.4V294M354.2 299.6V296M355.6 298.8V296.7M356.7 299.1V296.4M357.3 299.4V292.7M358.8 299.6V295.1M359.5 299.5V295.7M360.5 299V289.5M361.4 299.2V295.4M362.5 299.6V296.8M363.3 299.3V295.7M364.3 298.8V296.8M365.3 299.2V295.2M366.6 298V295.8M368.7 299.2V296M370.6 296.9V290.6M371.7 298.9V294.9M372.3 298.7V294.4M373.7 298.2V283.9M374.4 298.4V285.5M375.4 298.8V292.3M376.8 297.4V292.4M377.4 297.9V292.8M378.7 295.9V290.2M379.8 298.5V285.5M380.6 294.9V258.3M381.5 297.6V290.2M382.4 297.5V289.7M383.2 297.4V269M384.6 296.4V286M385.4 296.8V286.2M386.4 297V289.9M387.3 296.5V290.3M388.5 297.3V292M389.3 296.2V260M390.7 297.9V277.3M391.4 298.6V291.2M392.3 297.6V286.4M393.6 297.4V282.1M394.6 298V287.3M395.2 298V294.5M396.2 298.4V292.6M397.7 298.1V294.9M398.3 298.7V295.5M399.6 298.9V290M400.6 298.8V296.9M401.7 299.1V291.6M402.4 298.2V291.9M403.8 298.9V292.1M405.2 298.9V290.2M406.7 298.2V287.7M407.2 298.9V284.9M408.6 299.6V288.9M409.5 298.3V296.6M410.4 299V290.8M411.4 299.2V292.2M412.6 299.4V295.8M413.6 298.6V294.3M414.5 298.7V287.8M415.2 298.8V289.3M416.5 298.9V283.3M417.3 298.7V288.5M418.2 297.2V282.5M419.3 299.3V294.5M420.7 298.6V290.1M421.6 297.6V292.4M422.5 298.8V288.1M423.5 298V285.7M424.2 297.4V286.1M425.5 297.6V286.4M426.4 298.6V284.7M427.5 296.6V285.1M428.7 297.3V293.8M429.6 297.7V284.6M431.7 296.3V285M432.7 297V285M433.7 296.7V289.2M434.3 298.5V284.7M435.4 298.5V280.5M436.3 298.3V284.1M437.4 297.3V289.6M438.7 297V288.4M439.2 297.8V280.7M440.7 296.6V285.1" stroke="#e4261a" stroke-opacity="0.85" stroke-width="1" fill="none"/><path d="M383 300.1V264.6M360 300.1V282M430 300.1V275" stroke="#e4261a" stroke-width="1" fill="none"/><path d="M258.9 297.7 259.7 298.2 260.4 298 261.2 297.9 261.9 298.3 262.7 298.5 263.5 298.5 264.2 298.3 265 299.1 265.7 298.5 266.5 299.1 267.3 299.2 268 299.2 268.8 299.2 269.5 299 270.3 298.7 271.1 298.7 271.8 298.5 272.6 298.6 273.3 298.2 274.1 298.6 274.9 298.1 275.6 298 276.4 297.7 277.1 297.4 277.9 298.6 278.7 298 279.4 298.1 280.2 298.4 280.9 298.7 281.7 297.8 282.5 297.9 283.2 298.1 284 298.3 284.7 298.5 285.5 298.4 286.3 298.5 287 299.2 287.8 298.4 288.5 298.3 289.3 298.7 290.1 298.6 290.8 297.8 291.6 298.8 292.3 298.8 293.1 298.6 293.9 298.6 294.6 298.5 295.4 298.5 296.1 298.3 296.9 298.6 297.7 298.7 298.4 298.1 299.2 298.3 299.9 298.6 300.7 298.1 301.5 298.1 302.2 298.1 303 298.5 303.7 298.4 304.5 298.2 305.3 297.5 306 298.7 306.8 297.7 307.5 297.6 308.3 297.1 309.1 297.9 309.8 298 310.6 298 311.3 297.6 312.1 296.8 312.9 297.8 313.6 296.6 314.4 296.8 315.1 296 315.9 296.5 316.7 296.4 317.4 296.9 318.2 296.9 318.9 296.6 319.7 297.1 320.5 295.8 321.2 296.8 322 296.7 322.7 296.6 323.5 295.3 324.3 295.9 325 295.4 325.8 297 326.5 297.1 327.3 296.8 328.1 297.4 328.8 296.8 329.6 297.7 330.3 298.2 331.1 298.3 331.9 298.8 332.6 298.5 333.4 298.1 334.1 298.4 334.9 298.5 335.7 298.3 336.4 298 337.2 298.2 337.9 298 338.7 297.6 339.5 298 340.2 298.2 341 297.2 341.7 297.4 342.5 296.8 343.3 297.7 344 297.5 344.8 297.3 345.5 297.2 346.3 297.1 347.1 297.3 347.8 295.7 348.6 296.7 349.3 297.5 350.1 297.9 350.9 297.4 351.6 297.5 352.4 298 353.1 296.6 353.9 296.7 354.7 297.2 355.4 297.3 356.2 296.1 356.9 297.9 357.7 297.9 358.5 297.7 359.2 297.7 360 297.5 360.7 297.6 361.5 297.3 362.3 297.2 363 297.7 363.8 296.6 364.5 296.2 365.3 296.5 366.1 295.9 366.8 295.4 367.6 294.6 368.3 295.4 369.1 295 369.9 295.5 370.6 294.8 371.4 290.2 372.1 292.3 372.9 293.2 373.7 290.8 374.4 293 375.2 291.8 375.9 285.3 376.7 291.6 377.5 289.7 378.2 289 379 288.5 379.7 289.6 380.5 283.5 381.3 287.9 382 284.1 382.8 282.8 383.5 284.9 384.3 281.6 385.1 288 385.8 283.3 386.6 288.6 387.3 286.5 388.1 287.7 388.9 283.5 389.6 288.6 390.4 287.7 391.1 288.4 391.9 290.9 392.7 292.4 393.4 292.6 394.2 294.5 394.9 292.5 395.7 295.4 396.5 293.2 397.2 295.7 398 294.6 398.7 295 399.5 294.8 400.3 294.8 401 296.4 401.8 293.6 402.5 294 403.3 296.4 404.1 295.4 404.8 295.4 405.6 295.1 406.3 296.4 407.1 297.1 407.9 296 408.6 296.6 409.4 296.2 410.1 297 410.9 297.3 411.7 297.3 412.4 297.7 413.2 296 413.9 296.1 414.7 295.7 415.5 295.1 416.2 296 417 295.4 417.7 293.2 418.5 293.5 419.3 294.6 420 292.9 420.8 294.8 421.5 294.3 422.3 287.9 423.1 292.9 423.8 291.8 424.6 293 425.3 293.4 426.1 291.2 426.9 291.4 427.6 287 428.4 290.8 429.1 286.4 429.9 292.1 430.7 290.6 431.4 291.3 432.2 291.6 432.9 286.7 433.7 290.8 434.5 285 435.2 286.7 436 287.9 436.7 277.5 437.5 283.9 438.3 284.7 439 285.9 439.8 289.6 440.5 289.6" stroke="#f7b02a" stroke-width="0.9" fill="none" stroke-linejoin="round"/><path d="M258.9 298 259.4 298 259.9 298.1 260.4 298.2 260.9 298.2 261.4 298.3 261.9 298.4 262.4 298.4 262.9 298.5 263.4 298.6 263.9 298.7 264.4 298.7 264.9 298.8 265.4 298.9 265.9 298.9 266.4 299 266.9 299 267.4 299.1 267.9 299.1 268.4 299.1 268.9 299 269.4 299 269.9 298.9 270.4 298.8 270.9 298.8 271.4 298.7 271.9 298.6 272.4 298.6 272.9 298.5 273.4 298.4 273.9 298.4 274.4 298.3 274.9 298.2 275.4 298.2 275.9 298.1 276.4 298.1 276.9 298 277.4 298 277.9 298 278.4 298 278.9 298 279.4 298 279.9 298.1 280.4 298.1 280.9 298.1 281.4 298.2 281.9 298.2 282.4 298.3 282.9 298.3 283.4 298.3 283.9 298.4 284.4 298.4 284.9 298.4 285.4 298.5 285.9 298.5 286.4 298.5 286.9 298.6 287.4 298.6 287.9 298.6 288.4 298.6 288.9 298.6 289.4 298.6 289.9 298.6 290.4 298.6 290.9 298.6 291.4 298.6 291.9 298.6 292.4 298.6 292.9 298.6 293.4 298.6 293.9 298.6 294.4 298.6 294.9 298.6 295.4 298.6 295.9 298.6 296.4 298.6 296.9 298.6 297.4 298.6 297.9 298.5 298.4 298.5 298.9 298.5 299.4 298.5 299.9 298.4 300.4 298.4 300.9 298.4 301.4 298.3 301.9 298.3 302.4 298.3 302.9 298.2 303.4 298.2 303.9 298.2 304.4 298.2 304.9 298.1 305.4 298.1 305.9 298.1 306.4 298 306.9 298 307.4 298 307.9 297.9 308.4 297.9 308.9 297.8 309.4 297.8 309.9 297.7 310.4 297.6 310.9 297.5 311.4 297.5 311.9 297.4 312.4 297.3 312.9 297.2 313.4 297.2 313.9 297.1 314.4 297 314.9 296.9 315.4 296.9 315.9 296.8 316.4 296.8 316.9 296.7 317.4 296.7 317.9 296.7 318.4 296.7 318.9 296.7 319.4 296.7 319.9 296.7 320.4 296.7 320.9 296.7 321.4 296.7 321.9 296.7 322.4 296.7 322.9 296.7 323.4 296.7 323.9 296.8 324.4 296.8 324.9 296.9 325.4 297 325.9 297.1 326.4 297.2 326.9 297.3 327.4 297.4 327.9 297.5 328.4 297.6 328.9 297.7 329.4 297.8 329.9 297.9 330.4 298 330.9 298.1 331.4 298.1 331.9 298.2 332.4 298.2 332.9 298.2 333.4 298.2 333.9 298.2 334.4 298.2 334.9 298.1 335.4 298.1 335.9 298.1 336.4 298.1 336.9 298 337.4 298 337.9 298 338.4 298 338.9 297.9 339.4 297.9 339.9 297.9 340.4 297.8 340.9 297.8 341.4 297.8 341.9 297.7 342.4 297.7 342.9 297.7 343.4 297.6 343.9 297.6 344.4 297.5 344.9 297.5 345.4 297.5 345.9 297.4 346.4 297.4 346.9 297.4 347.4 297.4 347.9 297.4 348.4 297.4 348.9 297.4 349.4 297.4 349.9 297.4 350.4 297.5 350.9 297.5 351.4 297.5 351.9 297.5 352.4 297.5 352.9 297.5 353.4 297.5 353.9 297.5 354.4 297.5 354.9 297.5 355.4 297.4 355.9 297.4 356.4 297.3 356.9 297.3 357.4 297.3 357.9 297.2 358.4 297.2 358.9 297.2 359.4 297.1 359.9 297.1 360.4 297 360.9 297 361.4 297 361.9 296.9 362.4 296.9 362.9 296.9 363.4 296.8 363.9 296.8 364.4 296.7 364.9 296.6 365.4 296.5 365.9 296.3 366.4 296.1 366.9 295.9 367.4 295.7 367.9 295.5 368.4 295.3 368.9 295.1 369.4 294.9 369.9 294.7 370.4 294.5 370.9 294.3 371.4 294.1 371.9 293.9 372.4 293.7 372.9 293.5 373.4 293.3 373.9 293.1 374.4 292.9 374.9 292.6 375.4 292.4 375.9 292.1 376.4 291.9 376.9 291.6 377.4 291.4 377.9 291.1 378.4 290.9 378.9 290.6 379.4 290.4 379.9 290.1 380.4 289.8 380.9 289.5 381.4 289.2 381.9 288.8 382.4 288.5 382.9 288.2 383.4 288 383.9 287.8 384.4 287.7 384.9 287.7 385.4 287.9 385.9 288.1 386.4 288.4 386.9 288.7 387.4 289 387.9 289.4 388.4 289.7 388.9 290.1 389.4 290.4 389.9 290.8 390.4 291.2 390.9 291.5 391.4 291.9 391.9 292.3 392.4 292.6 392.9 293 393.4 293.4 393.9 293.7 394.4 294 394.9 294.3 395.4 294.5 395.9 294.6 396.4 294.7 396.9 294.8 397.4 294.8 397.9 294.9 398.4 294.9 398.9 295 399.4 295 399.9 295.1 400.4 295.1 400.9 295.2 401.4 295.2 401.9 295.3 402.4 295.3 402.9 295.4 403.4 295.5 403.9 295.6 404.4 295.7 404.9 295.8 405.4 295.9 405.9 296 406.4 296.2 406.9 296.3 407.4 296.5 407.9 296.6 408.4 296.7 408.9 296.9 409.4 297 409.9 297.1 410.4 297.2 410.9 297.3 411.4 297.3 411.9 297.3 412.4 297.2 412.9 297 413.4 296.8 413.9 296.6 414.4 296.4 414.9 296.2 415.4 296 415.9 295.8 416.4 295.6 416.9 295.4 417.4 295.2 417.9 295 418.4 294.9 418.9 294.7 419.4 294.5 419.9 294.3 420.4 294.1 420.9 294 421.4 293.8 421.9 293.6 422.4 293.5 422.9 293.3 423.4 293.1 423.9 293 424.4 292.8 424.9 292.6 425.4 292.5 425.9 292.3 426.4 292.1 426.9 292 427.4 291.8 427.9 291.7 428.4 291.5 428.9 291.4 429.4 291.3 429.9 291.1 430.4 291 430.9 290.9 431.4 290.8 431.9 290.6 432.4 290.5 432.9 290.4 433.4 290.3 433.9 290.2" stroke="#000" stroke-width="1.55" fill="none" stroke-linejoin="round"/></g></g><path d="M260 297.6H447.6" stroke="#222" stroke-width="1" stroke-dasharray="3.4 2.4" fill="none"/><clipPath id="cf"><rect x="477.6" y="158.6" width="190.1" height="141.4"/></clipPath><g clip-path="url(#cf)"><g filter="url(#soft)"><path d="M477.7 301.1V298.8M478.5 301.1V296.8M479.6 301.1V294.2M480.3 301.1V298.8M481.5 301.1V298.8M482.6 301.1V296.5M483.4 301.1V298.7M484.4 301.1V297.7M485.4 301.1V296M486.6 301.1V297.4M487.7 301.1V296.2M488.6 301.1V299.8M489.7 301.1V296.9M490.8 301.1V298.9M491.4 301.1V299.2M492.5 301.1V298.7M493.5 301.1V299.4M494.3 301.1V299.4M495.5 301.1V299.8M496.6 301.1V299.2M497.6 301.1V299.5M498.3 301.1V299.1M499.2 301.1V297.6M500.3 301.1V298.4M501.4 301.1V299.5M502.2 301.1V298.1M503.4 301.1V296.6M504.5 301.1V298.6M505.8 301.1V298.6M506.7 301.1V298.3M507.8 301.1V299.1M508.3 301.1V296.6M509.7 301.1V297.4M510.7 301.1V298.7M511.3 301.1V298.6M512.7 301.1V298.5M513.7 301.1V295.2M514.5 301.1V298.6M515.6 301.1V299.7M516.2 301.1V298M517.5 301.1V297.3M518.2 301.1V297.4M519.5 301.1V298.6M520.6 301.1V299.5M521.4 301.1V293.4M522.3 301.1V299.2M523.5 301.1V298.4M524.2 301.1V298.7M525.4 301.1V299.1M526.4 301.1V298.9M527.7 301.1V299.3M528.8 301.1V299.1M529.2 301.1V298.7M530.4 301.1V298.5M531.6 301.1V292.5M532.4 301.1V299.3M533.5 301.1V295.7M534.7 301.1V298.3M535.6 301.1V298.6M536.6 301.1V299.5M537.4 301.1V298.2M538.6 301.1V299.3M539.5 301.1V298.1M540.5 301.1V298M541.5 301.1V299.4M542.6 301.1V296.1M543.6 301.1V298.5M544.6 301.1V298.6M545.6 301.1V298.2M546.2 301.1V298.8M547.3 301.1V296.1M548.8 301.1V294.6M549.4 301.1V297.8M550.3 301.1V296.2M551.4 301.1V292.7M552.4 301.1V297.4M553.4 301.1V298.1M554.5 301.1V295.2M555.3 301.1V298M556.2 301.1V298.3M557.3 301.1V299.4M558.4 301.1V297.8M559.2 301.1V299.1M560.3 301.1V297.2M561.6 301.1V299.6M562.3 301.1V299M563.3 301.1V293.8M564.4 301.1V290.2M565.5 301.1V296.1M566.3 301.1V296.6M567.3 301.1V299.6M568.5 301.1V295.8M569.5 301.1V298.3M570.4 301.1V299.3M571.6 301.1V298.5M572.6 301.1V298.5M573.8 301.1V294.7M574.7 301.1V296.2M575.3 301.1V284.2M576.5 301.1V287.6M577.7 301.1V296M578.7 301.1V293.6M579.5 301.1V298.4M580.5 301.1V292.5M581.2 301.1V297M582.5 301.1V295.1M583.5 301.1V294.5M584.3 301.1V295.9M585.5 301.1V296.7M586.5 301.1V292.6M587.7 301.1V291.5M588.2 301.1V299.3M589.5 301.1V296M590.7 301.1V295.2M591.4 301.1V296.6M592.5 301.1V294M593.6 301.1V289.9M594.5 301.1V293.9M595.4 301.1V294.4M596.4 301.1V287.9M597.5 301.1V291.6M598.6 301.1V290.9M599.3 301.1V275.2M600.5 301.1V285.2M601.3 301.1V296M602.5 301.1V280.2M603.3 301.1V295.9M604.8 301.1V290.7M605.7 301.1V298.2M606.7 301.1V285.9M607.3 301.1V297.6M608.7 301.1V290.5M609.4 301.1V271.4M610.4 301.1V288.3M611.5 301.1V291.2M612.5 301.1V295.9M613.2 301.1V294.1M614.7 301.1V285.3M615.5 301.1V298.7M616.3 301.1V296M617.4 301.1V280.1M618.7 301.1V294.7M619.3 301.1V280.1M620.4 301.1V288.8M621.3 301.1V296M622.2 301.1V293.8M623.3 301.1V274.6M624.4 301.1V293.6M625.3 301.1V291.3M626.7 301.1V285.2M627.5 301.1V294.2M628.7 301.1V292.9M629.6 301.1V288.3M630.7 301.1V292.2M631.5 301.1V291.7M632.6 301.1V284.7M633.3 301.1V264.3M634.5 301.1V290.9M635.6 301.1V294M636.6 301.1V260.7M637.3 301.1V280.4M638.4 301.1V297.6M639.7 301.1V292.5M640.6 301.1V297.2M641.3 301.1V282.9M642.5 301.1V295.4M643.3 301.1V291.1M644.5 301.1V263.9M645.8 301.1V293.5M646.5 301.1V289.6M647.4 301.1V283M648.4 301.1V278.7M649.6 301.1V277.8M650.5 301.1V268M651.3 301.1V293.6M652.3 301.1V285.2M653.8 301.1V296.7M654.2 301.1V289.2M655.3 301.1V291.6M656.2 301.1V258M657.3 301.1V284.2M658.3 301.1V291.8M659.3 301.1V289.5M660.3 301.1V294" stroke="#d6d6d6" stroke-width="1" fill="none"/><path d="M477.5 301.1V299M478.5 301.1V297.4M479.5 301.1V295.5M480.5 301.1V299M481.5 301.1V299.1M482.5 301.1V297.7M483.5 301.1V298.9M484.5 301.1V298.1M485.5 301.1V296.5M486.5 301.1V298.4M487.5 301.1V297.6M488.5 301.1V299.9M489.5 301.1V297.6M490.5 301.1V299M491.5 301.1V299.5M492.5 301.1V299M493.5 301.1V299.6M494.5 301.1V299.6M495.5 301.1V299.8M496.5 301.1V299.3M497.5 301.1V299.6M498.5 301.1V299.4M499.5 301.1V297.9M500.5 301.1V298.8M501.5 301.1V299.6M502.5 301.1V298.4M503.5 301.1V297.6M504.5 301.1V298.8M505.5 301.1V298.8M506.5 301.1V298.9M507.5 301.1V299.5M508.5 301.1V297.5M509.5 301.1V298.4M510.5 301.1V298.9M511.5 301.1V298.9M512.5 301.1V299M513.5 301.1V296.5M514.5 301.1V299.1M515.5 301.1V299.7M516.5 301.1V298.7M517.5 301.1V297.7M518.5 301.1V298M519.5 301.1V299.1M520.5 301.1V299.7M521.5 301.1V294.7M522.5 301.1V299.5M523.5 301.1V298.7M524.5 301.1V298.9M525.5 301.1V299.3M526.5 301.1V299.1M527.5 301.1V299.5M528.5 301.1V299.4M529.5 301.1V299.2M530.5 301.1V298.9M531.5 301.1V294.5M532.5 301.1V299.5M533.5 301.1V297.2M534.5 301.1V298.7M535.5 301.1V299.1M536.5 301.1V299.6M537.5 301.1V298.9M538.5 301.1V299.5M539.5 301.1V298.5M540.5 301.1V298.4M541.5 301.1V299.5M542.5 301.1V297.2M543.5 301.1V298.9M544.5 301.1V298.7M545.5 301.1V298.4M546.5 301.1V299.1M547.5 301.1V297.2M548.5 301.1V295.7M549.5 301.1V298.5M550.5 301.1V297.3M551.5 301.1V294.6M552.5 301.1V297.7M553.5 301.1V298.8M554.5 301.1V296.6M555.5 301.1V298.4M556.5 301.1V298.8M557.5 301.1V299.5M558.5 301.1V298.4M559.5 301.1V299.3M560.5 301.1V298.2M561.5 301.1V299.7M562.5 301.1V299.4M563.5 301.1V295M564.5 301.1V293.6M565.5 301.1V297.5M566.5 301.1V297.6M567.5 301.1V299.7M568.5 301.1V297M569.5 301.1V298.7M570.5 301.1V299.6M571.5 301.1V298.9M572.5 301.1V299M573.5 301.1V296M574.5 301.1V297.1M575.5 301.1V288.4M576.5 301.1V292M577.5 301.1V297M578.5 301.1V295.6M579.5 301.1V298.8M580.5 301.1V294.2M581.5 301.1V297.5M582.5 301.1V296.2M583.5 301.1V295.6M584.5 301.1V296.3M585.5 301.1V297.3M586.5 301.1V293.6M587.5 301.1V293.3M588.5 301.1V299.4M589.5 301.1V297.4M590.5 301.1V296.4M591.5 301.1V297.3M592.5 301.1V295.2M593.5 301.1V291.9M594.5 301.1V295M595.5 301.1V295.9M596.5 301.1V290.1M597.5 301.1V293.7M598.5 301.1V293.9M599.5 301.1V279.9M600.5 301.1V288.6M601.5 301.1V297.4M602.5 301.1V285.7M603.5 301.1V296.8M604.5 301.1V293.5M605.5 301.1V298.6M606.5 301.1V288.2M607.5 301.1V298.4M608.5 301.1V292M609.5 301.1V276.4M610.5 301.1V290.9M611.5 301.1V293.9M612.5 301.1V297.1M613.5 301.1V295.2M614.5 301.1V288.6M615.5 301.1V298.9M616.5 301.1V297.3M617.5 301.1V285.2M618.5 301.1V295.7M619.5 301.1V286.2M620.5 301.1V290.2M621.5 301.1V296.8M622.5 301.1V294.4M623.5 301.1V282.7M624.5 301.1V295M625.5 301.1V293.8M626.5 301.1V290.4M627.5 301.1V295.6M628.5 301.1V294.7M629.5 301.1V290.4M630.5 301.1V294.2M631.5 301.1V293.3M632.5 301.1V289M633.5 301.1V274M634.5 301.1V293.1M635.5 301.1V295.3M636.5 301.1V269M637.5 301.1V284.7M638.5 301.1V298.1M639.5 301.1V294.5M640.5 301.1V297.7M641.5 301.1V286.3M642.5 301.1V296.6M643.5 301.1V294.3M644.5 301.1V272.8M645.5 301.1V294.9M646.5 301.1V291.6M647.5 301.1V289.1M648.5 301.1V282.3M649.5 301.1V281.6M650.5 301.1V274.5M651.5 301.1V294.6M652.5 301.1V288M653.5 301.1V297.6M654.5 301.1V291.3M655.5 301.1V292.4M656.5 301.1V268.7M657.5 301.1V289M658.5 301.1V293.3M659.5 301.1V293.3M660.5 301.1V295.5" stroke="#c6c6c6" stroke-width="1" fill="none"/><path d="M486 301.1V195.1M484.9 301.1V230.5M487 301.1V269.5M488 301.1V268M484.9 301.1V264.5M483.8 301.1V288.1M485.9 301.1V287.5M486.9 301.1V287.9M490.7 301.1V241.9M489.6 301.1V261.7M491.7 301.1V266.6M492.7 301.1V287.9M492.1 301.1V253.7M491 301.1V282.9M493.1 301.1V283.7M494.1 301.1V289.9M497.1 301.1V204.5M496 301.1V253.6M498.1 301.1V244.8M499.1 301.1V281.5M498.6 301.1V241.2M497.5 301.1V260.7M499.6 301.1V271.6M500.6 301.1V284.1M500 301.1V264.5M498.9 301.1V275.5M501 301.1V292M502 301.1V296M501.5 301.1V270M500.4 301.1V279.3M502.5 301.1V290.4M503.5 301.1V293.2M508.7 301.1V252M507.6 301.1V279.1M509.7 301.1V278.9M510.7 301.1V285.9M511.9 301.1V274.2M510.8 301.1V289M512.9 301.1V294.8M513.9 301.1V292.2M515.1 301.1V276.4M514 301.1V290.5M516.1 301.1V286.7M517.1 301.1V296.5M518.4 301.1V284.3M517.3 301.1V295.2M519.4 301.1V294.5M520.4 301.1V296.5M525.6 301.1V252M524.5 301.1V267.3M526.6 301.1V277.1M527.6 301.1V287.3M529.2 301.1V274.2M528.1 301.1V286.9M530.2 301.1V292.6M531.2 301.1V297M532 301.1V267.4M530.9 301.1V287.2M533 301.1V285M534 301.1V294.7M542.5 301.1V175M541.4 301.1V226.2M543.5 301.1V265.4M544.5 301.1V267.2M545.3 301.1V243M544.2 301.1V271.5M546.3 301.1V286.8M547.3 301.1V290.5M547.9 301.1V253.7M546.8 301.1V279M548.9 301.1V285.2M549.9 301.1V294.3M550 301.1V250.1M548.9 301.1V278.4M551 301.1V276.8M552 301.1V294.5M561.5 301.1V260.9M560.4 301.1V279.6M562.5 301.1V277.6M563.5 301.1V287.8M566.2 301.1V249.1M565.1 301.1V274.4M567.2 301.1V283.2M568.2 301.1V294.1M569.8 301.1V255.5M568.7 301.1V270.7M570.8 301.1V289.4M571.8 301.1V287.2M572 301.1V264.5M570.9 301.1V275.8M573 301.1V281.8M574 301.1V291.3M577.4 301.1V282.5M576.3 301.1V293.9M578.4 301.1V294.8M579.4 301.1V297M579.2 301.1V277.1M578.1 301.1V292.6M580.2 301.1V292.9M581.2 301.1V293.3M583.5 301.1V252M582.4 301.1V276.1M584.5 301.1V284.9M585.5 301.1V294.4M586.4 301.1V264.5M585.3 301.1V279M587.4 301.1V290.2M588.4 301.1V291.6M589.3 301.1V239.4M588.2 301.1V280.6M590.3 301.1V276.3M591.3 301.1V279.3M591.8 301.1V268.1M590.7 301.1V289.5M592.8 301.1V289.2M593.8 301.1V294.4M595.4 301.1V270M594.3 301.1V280.1M596.4 301.1V290.9M597.4 301.1V290.8M599 301.1V243M597.9 301.1V275.7M600 301.1V279.6M601 301.1V280.1M602.6 301.1V230.4M601.5 301.1V271.6M603.6 301.1V271M604.6 301.1V289M606.2 301.1V222.4M605.1 301.1V262.7M607.2 301.1V257.5M608.2 301.1V285M608 301.1V252M606.9 301.1V284M609 301.1V283.4M610 301.1V294.3M611.6 301.1V270M610.5 301.1V285.9M612.6 301.1V286.4M613.6 301.1V291.8M615.2 301.1V250.1M614.1 301.1V270.8M616.2 301.1V287.7M617.2 301.1V292.6M618 301.1V261M616.9 301.1V283.4M619 301.1V280.9M620 301.1V292.5M620.6 301.1V264.5M619.5 301.1V275.3M621.6 301.1V281.6M622.6 301.1V292.4M623.1 301.1V223.2M622 301.1V268.5M624.1 301.1V276M625.1 301.1V288.3M626 301.1V259.1M624.9 301.1V280.9M627 301.1V288.5M628 301.1V292.6M628.8 301.1V266.3M627.7 301.1V289.5M629.8 301.1V286.1M630.8 301.1V294.9M631.4 301.1V235.8M630.3 301.1V274M632.4 301.1V266.6M633.4 301.1V278M633.9 301.1V266.3M632.8 301.1V281.3M634.9 301.1V291.5M635.9 301.1V290M636.7 301.1V208.8M635.6 301.1V248.4M637.7 301.1V272.1M638.7 301.1V271.2M639.6 301.1V243M638.5 301.1V270.9M640.6 301.1V271.7M641.6 301.1V286.4M642.1 301.1V252M641 301.1V279.5M643.1 301.1V274.2M644.1 301.1V292.7M644.7 301.1V239.4M643.6 301.1V266.7M645.7 301.1V268.3M646.7 301.1V283.6M647.5 301.1V216M646.4 301.1V257.5M648.5 301.1V275.6M649.5 301.1V272.4M650.4 301.1V255.5M649.3 301.1V280.3M651.4 301.1V289.3M652.4 301.1V293.6M652.9 301.1V241.2M651.8 301.1V262.7M653.9 301.1V275.5M654.9 301.1V289.4M655.5 301.1V235.8M654.4 301.1V256.1M656.5 301.1V270.2M657.5 301.1V290.1M656.5 301.1V205.2M655.4 301.1V261.2M657.5 301.1V277.4M658.5 301.1V274.7M658.3 301.1V214.2M657.2 301.1V271.2M659.3 301.1V250.2M660.3 301.1V286.6M660.1 301.1V270M659 301.1V282.9M661.1 301.1V291.2M662.1 301.1V291.3" stroke="#a8a8a8" stroke-opacity="0.65" stroke-width="0.95" fill="none"/><path d="M479.3 300V299M480.3 300V299.4M485.5 299.9V298.9M486.5 299.9V299.5M487.2 299.9V299.4M488.7 300V299.3M489.4 300V299.3M490.4 300V299.3M491.8 300V299.4M492.6 299.9V299.4M493.3 299.9V299.5M494.3 299.9V299.5M495.3 299.8V299.3M496.6 300V299.6M497.6 300V298.6M500.5 300V298.1M501.4 300V299.4M504.6 300V299.2M506.7 300V298.9M508.8 300V299M511.7 300V299M513.7 299.9V299.2M514.3 300V299.1M515.2 300V299M519.8 300V298.9M520.3 300V298.9M522.3 300V299M523.6 300V299.6M525.4 300V299.5M526.5 300V298.6M528.7 300V299.2M531.7 300V298.7M533.3 300V299.5M534.6 300V298.9M535.5 300V299.4M536.4 300V299.6M537.5 300V298.8M538.8 300V298.2M539.4 300V299.2M541.6 299.9V297.9M542.5 300V299.1M543.7 299.9V299.2M544.7 300V298.6M545.3 300V299.2M547.2 300V299.4M548.8 300V299.1M550.5 300V299.3M551.4 300V299.3M552.6 300V299.4M553.5 299.9V299.5M554.6 300V299.1M555.2 300V298.9M556.4 300V299.5M557.3 300V298.8M559.3 299.9V298.5M562.3 299.9V299.3M564.5 300V298.8M565.5 300V297.4M566.3 299.9V299M567.8 300V298.9M568.6 300V298.9M569.5 299.9V298.1M570.6 299.8V297.6M571.6 299.9V295.7M572.4 300V299M574.5 299.9V298.6M575.2 299.9V298.3M576.7 300V298.6M577.3 299.9V299.1M578.3 300V297.1M579.4 300V298.5M581.7 299.9V298.3M582.6 300V299.4M583.3 299.9V296.8M584.6 299.9V298.4M585.2 299.8V297.7M586.6 299.8V297M587.5 300V298.2M588.4 300V297.8M589.5 299.8V297.5M591.7 300V297.2M592.3 299.9V297.8M594.6 299.9V296.3M596.5 300V292.7M597.5 299.9V297.9M598.5 299.9V299M599.6 299.9V298.6M601.7 300V297.8M606.3 300V298.8M607.7 300V295.9M609.4 299.9V297.6M610.3 299.9V297.9M611.5 299.8V297.6M613.5 299.8V296.9M615.3 299.9V297.7M618.7 300V295.8M619.3 299.9V297.5M620.7 299.9V292M621.3 299.9V296.5M622.6 300V298.1M623.2 299.8V296.5M625.7 299.9V297.1M626.3 299.9V297.5M627.5 299.9V297.8M631.7 299.9V298.2M632.3 299.7V295.4M633.5 299.9V297.9M635.6 299.9V294.1M636.7 299.9V295.1M637.2 299.8V298.1M638.7 299.6V297.5M639.4 299.8V297.9M640.6 299.8V295.9M641.5 299.7V298.6M642.6 299.4V298.8M643.3 299.7V297.5M645.6 299.8V296.6M647.3 299.7V297.4M648.4 299.8V298.9M649.5 299.6V294.1M650.7 299.8V297.1M651.8 299.6V297.8M653.7 299.4V294.7M654.8 299.5V295.7M655.4 299.6V297.6M657.5 299.4V296.2M660.2 299.6V297.3" stroke="#e4261a" stroke-opacity="0.85" stroke-width="1" fill="none"/><path d="M477.7 299.8V297.9M482.2 300V299.5M483.3 299.9V299.2M484.6 300V299.3M485.3 300V298.8M486.2 300V298.9M487.6 299.9V299.1M489.2 300V299.5M490.5 300V299.4M491.3 300V299.5M500.5 300V299.1M501.4 299.9V298.9M504.6 299.9V299.3M506.4 300V299M507.6 300V299.6M509.5 299.9V298.9M510.3 299.9V299.3M511.7 300V298.9M512.6 299.9V297.6M513.5 300V299.4M514.5 300V299.6M517.2 299.9V299.2M518.7 300V298.8M520.3 300V299.5M521.5 300V299.5M522.5 300V298.8M524.5 300V298.8M527.4 300V299.4M531.4 299.9V299.3M532.4 299.9V299.1M533.7 300V299.4M534.5 300V299.1M535.7 300V298.4M536.4 300V299M538.3 299.8V299.1M540.7 299.9V298.9M541.4 300V299.6M542.4 300V299.2M545.5 300V298.9M549.3 299.9V299.4M550.5 300V299.5M551.2 299.9V299.3M553.3 299.9V299.1M556.7 300V298.3M557.3 299.9V298.9M558.4 300V299.1M561.2 299.9V298.4M562.6 300V298.7M563.4 300V297.4M564.3 299.9V299.4M565.8 300V298.2M566.5 299.9V298.9M567.3 299.9V299.4M569.3 299.9V298.9M570.7 299.9V299.3M571.5 300V298.4M572.6 299.9V298.4M573.3 300V298.7M574.3 299.9V298.2M575.3 300V298.4M576.3 299.9V298.3M577.6 299.9V298.5M578.8 299.9V298.3M579.6 300V298.6M580.2 299.9V295.8M581.3 300V298.2M582.4 300V297.1M583.5 299.9V298.4M584.4 299.8V297.5M585.2 299.9V298M586.3 299.9V298.5M587.4 299.9V297.8M588.3 299.9V299.1M590.5 299.9V296.9M591.2 299.9V296.9M592.3 299.9V296.4M593.7 299.9V298.5M594.5 299.9V298.5M595.7 300V298.1M596.4 300V297.6M597.5 299.9V298.2M599.5 299.9V298M600.6 299.9V298.5M601.4 299.8V296.5M602.6 300V299M603.5 299.9V297.5M604.5 299.9V297.2M605.4 299.9V295.7M606.5 300V297.4M607.8 300V296.2M608.3 300V293.8M609.7 299.8V297.6M610.7 300V298.2M611.6 300V295.1M612.2 299.9V297.6M613.7 299.8V298M615.4 300V298.6M618.2 299.9V297.9M620.4 299.8V297.4M621.6 299.8V298.4M622.7 299.9V297.9M623.4 299.9V296.4M624.2 299.8V297.1M625.4 299.9V298.9M628.3 299.8V295.7M629.4 300V295.4M630.2 299.8V292.6M632.2 299.9V298.4M633.2 299.9V298.5M634.3 299.8V296.8M635.5 299.8V297.8M638.8 299.7V296.9M639.6 299.8V293.6M640.8 299.7V297.1M642.3 299.8V296.6M643.7 299.8V297.3M644.7 299.7V293.7M645.3 299.8V298.9M646.4 299.9V296.6M647.7 299.6V296.4M648.5 299.7V297.4M649.6 299.7V296.3M650.6 299.6V296.2M651.4 299.5V295.9M652.2 299.5V294.3M653.5 299.8V298.8M654.4 299.5V298.8M655.6 299.3V297.3M656.3 299.7V294.7M659.6 299.7V291.6M660.3 299.4V294.9" stroke="#e4261a" stroke-opacity="0.85" stroke-width="1" fill="none"/><path d="M486 300.1V286M496.8 300.1V286M491.4 300.1V293.3M543.5 300.1V282.5M508.7 300.1V291.5M600 300.1V288M620 300.1V286M640 300.1V284M655 300.1V284M658 300.1V282M485.9 300.1V293.4M487 300.1V296.5M485 300.1V291.2M485.9 300.1V293.6M490.8 300.1V292.9M492.4 300.1V292.4M496.9 300.1V294.9M498.1 300.1V296.6M498.7 300.1V291.1M499.6 300.1V295.3M499.8 300.1V291.2M501 300.1V294.7M501.5 300.1V292.6M502.5 300.1V296.5M509.2 300.1V292.9M512.3 300.1V293.6M514.9 300.1V294.2M518.7 300.1V296.2M519.4 300.1V298M525.7 300.1V292.5M529.5 300.1V294.6M530.2 300.1V296.6M531.5 300.1V294.9M533 300.1V298.5M542.1 300.1V288.2M543.5 300.1V292M545.4 300.1V292.5M548.1 300.1V294.3M548.9 300.1V297.9M550 300.1V294.3M561.1 300.1V293M566.4 300.1V294M569.6 300.1V292M571.6 300.1V291.8M573 300.1V293.7M577 300.1V295.7M578.4 300.1V298.4M578.9 300.1V294.4M580.2 300.1V295.6M583.5 300.1V291.6M584.5 300.1V295M586.4 300.1V294.1M587.4 300.1V297.8M589.5 300.1V294.7M590.3 300.1V297.9M592.2 300.1V292.1M595.8 300.1V292.6M596.4 300.1V296.6M599.1 300.1V293.9M600 300.1V297.7M602.4 300.1V292.2M603.6 300.1V294.1M606.6 300.1V288.7M608.2 300.1V293.5M611.2 300.1V292.6M615.5 300.1V290.4M616.2 300.1V295.5M618.2 300.1V292.5M619 300.1V296.3M620.6 300.1V291.2M621.6 300.1V294.6M623.1 300.1V288.3M626.1 300.1V289.9M627 300.1V295.3M628.9 300.1V291.7M629.8 300.1V295.7M631.6 300.1V293.4M632.4 300.1V296.9M633.7 300.1V293.5M634.9 300.1V297.5M636.4 300.1V292.9M639.2 300.1V293.4M640.6 300.1V296.7M642.6 300.1V289.4M645.1 300.1V294.2M647.4 300.1V294.8M650.4 300.1V289.3M651.4 300.1V291.9M653.2 300.1V287.1M655.8 300.1V286.6M656.4 300.1V288.1M658.6 300.1V292.8M660.1 300.1V292.6M661.1 300.1V296.4" stroke="#e4261a" stroke-width="1" fill="none"/><path d="M478 299.6 478.8 299.3 479.5 299.7 480.3 299.6 481 299.7 481.8 299.7 482.6 299.7 483.3 299.6 484.1 299.5 484.8 299.6 485.6 299.5 486.4 299.6 487.1 299.5 487.9 299.4 488.6 299.4 489.4 299.4 490.2 299.6 490.9 299.6 491.7 299.4 492.4 299.5 493.2 299.6 494 299.5 494.7 299.7 495.5 299.6 496.2 299.6 497 299.5 497.8 299.8 498.5 299.6 499.3 299.7 500 299.6 500.8 299.7 501.6 299.6 502.3 299.6 503.1 299.7 503.8 299.7 504.6 299.6 505.4 299.8 506.1 299.7 506.9 299.8 507.6 299.7 508.4 299.7 509.2 299.8 509.9 299.6 510.7 299.7 511.4 299.6 512.2 299.7 513 299.7 513.7 299.7 514.5 299.7 515.2 299.6 516 299.7 516.8 299.7 517.5 299.4 518.3 299.6 519 299.7 519.8 299.7 520.6 299.7 521.3 299.6 522.1 299.5 522.8 299.7 523.6 299.7 524.4 299.7 525.1 299.7 525.9 299.7 526.6 299.6 527.4 299.7 528.2 299.7 528.9 299.7 529.7 299.7 530.4 299.7 531.2 299.6 532 299.6 532.7 299.8 533.5 299.6 534.2 299.7 535 299.7 535.8 299.6 536.5 299.6 537.3 299.5 538 299.5 538.8 299.6 539.6 299.6 540.3 299.6 541.1 299.6 541.8 299.6 542.6 299.6 543.4 299.6 544.1 299.5 544.9 299.6 545.6 299.6 546.4 299.7 547.2 299.7 547.9 299.7 548.7 299.7 549.4 299.6 550.2 299.6 551 299.7 551.7 299.7 552.5 299.6 553.2 299.6 554 299.6 554.8 299.6 555.5 299.6 556.3 299.7 557 299.7 557.8 299.6 558.6 299.6 559.3 299.5 560.1 299.6 560.8 299.6 561.6 299.7 562.4 299.6 563.1 299.6 563.9 299.5 564.6 299.7 565.4 299.6 566.2 299.7 566.9 299.5 567.7 299.5 568.4 299.7 569.2 299.6 570 299.5 570.7 299.6 571.5 299.5 572.2 299.5 573 299.6 573.8 299.6 574.5 299.4 575.3 299.6 576 299.7 576.8 299.4 577.6 299.6 578.3 299.5 579.1 299.5 579.8 299.3 580.6 299.3 581.4 299.4 582.1 299.7 582.9 299.5 583.6 299.7 584.4 299.6 585.2 299.6 585.9 299.6 586.7 299.6 587.4 299.4 588.2 299.5 589 299.6 589.7 299.6 590.5 299.6 591.2 299.5 592 299.3 592.8 299.5 593.5 299.6 594.3 299.6 595 299.6 595.8 299.5 596.6 299.4 597.3 299.3 598.1 299.5 598.8 299.4 599.6 299.5 600.4 299.7 601.1 299.3 601.9 299.6 602.6 299.5 603.4 299.5 604.2 299.5 604.9 299.4 605.7 299.5 606.4 299.4 607.2 299.3 608 299.6 608.7 299.1 609.5 299.6 610.2 299.3 611 299.4 611.8 299.4 612.5 299.3 613.3 299.5 614 299.5 614.8 299.3 615.6 299.5 616.3 299.4 617.1 299 617.8 299.3 618.6 299.4 619.4 299.3 620.1 299.2 620.9 299.4 621.6 299.4 622.4 299.2 623.2 299.4 623.9 299.4 624.7 299.2 625.4 299.2 626.2 299.5 627 299.5 627.7 299.1 628.5 298.9 629.2 299.4 630 299.2 630.8 298.8 631.5 299.4 632.3 299.1 633 299.4 633.8 299.2 634.6 299.3 635.3 299 636.1 299.1 636.8 299.1 637.6 299.2 638.4 298.7 639.1 298.9 639.9 299.1 640.6 298.5 641.4 299.1 642.2 298.8 642.9 298.8 643.7 299 644.4 298.7 645.2 299 646 298.1 646.7 298.3 647.5 298.8 648.2 298.8 649 298.5 649.8 298.3 650.5 298.4 651.3 298.8 652 298.5 652.8 297.7 653.6 298.5 654.3 297.9 655.1 298 655.8 297.8 656.6 297.4 657.4 297.7 658.1 298 658.9 297.8 659.6 297.7 660.4 297.4" stroke="#f7b02a" stroke-width="0.9" fill="none" stroke-linejoin="round"/><path d="M478 299.6 478.5 299.6 479 299.6 479.5 299.6 480 299.6 480.5 299.6 481 299.6 481.5 299.6 482 299.6 482.5 299.6 483 299.6 483.5 299.6 484 299.6 484.5 299.6 485 299.6 485.5 299.6 486 299.6 486.5 299.6 487 299.6 487.5 299.6 488 299.6 488.5 299.6 489 299.6 489.5 299.6 490 299.6 490.5 299.6 491 299.6 491.5 299.6 492 299.6 492.5 299.6 493 299.6 493.5 299.6 494 299.6 494.5 299.6 495 299.6 495.5 299.6 496 299.6 496.5 299.6 497 299.6 497.5 299.6 498 299.6 498.5 299.6 499 299.7 499.5 299.7 500 299.7 500.5 299.7 501 299.7 501.5 299.7 502 299.7 502.5 299.7 503 299.7 503.5 299.7 504 299.7 504.5 299.7 505 299.7 505.5 299.7 506 299.7 506.5 299.7 507 299.7 507.5 299.7 508 299.7 508.5 299.7 509 299.7 509.5 299.7 510 299.7 510.5 299.7 511 299.7 511.5 299.7 512 299.7 512.5 299.7 513 299.7 513.5 299.7 514 299.7 514.5 299.7 515 299.7 515.5 299.7 516 299.7 516.5 299.7 517 299.7 517.5 299.7 518 299.7 518.5 299.7 519 299.7 519.5 299.7 520 299.7 520.5 299.7 521 299.7 521.5 299.7 522 299.7 522.5 299.7 523 299.7 523.5 299.7 524 299.7 524.5 299.7 525 299.7 525.5 299.7 526 299.7 526.5 299.7 527 299.7 527.5 299.7 528 299.7 528.5 299.7 529 299.7 529.5 299.7 530 299.7 530.5 299.7 531 299.7 531.5 299.7 532 299.7 532.5 299.7 533 299.7 533.5 299.7 534 299.7 534.5 299.7 535 299.7 535.5 299.7 536 299.7 536.5 299.7 537 299.7 537.5 299.7 538 299.7 538.5 299.7 539 299.7 539.5 299.7 540 299.7 540.5 299.6 541 299.6 541.5 299.6 542 299.6 542.5 299.6 543 299.6 543.5 299.6 544 299.6 544.5 299.6 545 299.6 545.5 299.6 546 299.6 546.5 299.6 547 299.6 547.5 299.6 548 299.6 548.5 299.6 549 299.6 549.5 299.6 550 299.6 550.5 299.6 551 299.6 551.5 299.6 552 299.6 552.5 299.6 553 299.6 553.5 299.6 554 299.6 554.5 299.6 555 299.6 555.5 299.6 556 299.6 556.5 299.6 557 299.6 557.5 299.6 558 299.6 558.5 299.6 559 299.6 559.5 299.6 560 299.6 560.5 299.6 561 299.6 561.5 299.6 562 299.6 562.5 299.6 563 299.6 563.5 299.6 564 299.6 564.5 299.6 565 299.6 565.5 299.6 566 299.6 566.5 299.6 567 299.6 567.5 299.6 568 299.6 568.5 299.6 569 299.6 569.5 299.6 570 299.6 570.5 299.6 571 299.6 571.5 299.6 572 299.6 572.5 299.6 573 299.6 573.5 299.6 574 299.6 574.5 299.6 575 299.6 575.5 299.6 576 299.6 576.5 299.6 577 299.6 577.5 299.6 578 299.6 578.5 299.6 579 299.6 579.5 299.6 580 299.6 580.5 299.5 581 299.5 581.5 299.5 582 299.5 582.5 299.5 583 299.5 583.5 299.5 584 299.5 584.5 299.5 585 299.5 585.5 299.5 586 299.5 586.5 299.5 587 299.5 587.5 299.5 588 299.5 588.5 299.5 589 299.5 589.5 299.5 590 299.5 590.5 299.5 591 299.5 591.5 299.5 592 299.5 592.5 299.5 593 299.5 593.5 299.5 594 299.5 594.5 299.5 595 299.5 595.5 299.5 596 299.5 596.5 299.5 597 299.5 597.5 299.5 598 299.5 598.5 299.5 599 299.5 599.5 299.5 600 299.5 600.5 299.5 601 299.5 601.5 299.5 602 299.5 602.5 299.5 603 299.5 603.5 299.5 604 299.5 604.5 299.5 605 299.5 605.5 299.5 606 299.5 606.5 299.5 607 299.5 607.5 299.5 608 299.4 608.5 299.4 609 299.4 609.5 299.4 610 299.4 610.5 299.4 611 299.4 611.5 299.4 612 299.4 612.5 299.4 613 299.4 613.5 299.4 614 299.4 614.5 299.4 615 299.4 615.5 299.4 616 299.4 616.5 299.4 617 299.4 617.5 299.4 618 299.4 618.5 299.4 619 299.4 619.5 299.4 620 299.4 620.5 299.4 621 299.4 621.5 299.4 622 299.4 622.5 299.4 623 299.3 623.5 299.3 624 299.3 624.5 299.3 625 299.3 625.5 299.3 626 299.3 626.5 299.3 627 299.3 627.5 299.3 628 299.3 628.5 299.3 629 299.3 629.5 299.3 630 299.3 630.5 299.3 631 299.3 631.5 299.3 632 299.3 632.5 299.2 633 299.2 633.5 299.2 634 299.2 634.5 299.2 635 299.2 635.5 299.2 636 299.2 636.5 299.2 637 299.2 637.5 299.2 638 299.1 638.5 299.1 639 299.1 639.5 299.1 640 299.1 640.5 299.1 641 299.1 641.5 299.1 642 299.1 642.5 299 643 299 643.5 299 644 299 644.5 299 645 299 645.5 299 646 298.9 646.5 298.9 647 298.9 647.5 298.9 648 298.8 648.5 298.8 649 298.8 649.5 298.8 650 298.8 650.5 298.7 651 298.7 651.5 298.7 652 298.7 652.5 298.6 653 298.6 653.5 298.6 654 298.6 654.5 298.5 655 298.5" stroke="#000" stroke-width="1.55" fill="none" stroke-linejoin="round"/></g></g><path d="M479.1 298.6H666.7" stroke="#222" stroke-width="1" stroke-dasharray="3.4 2.4" fill="none"/><path d="M39.3 130.76h1.8M229.4 130.76h-1.8M39.3 116.62h5M229.4 116.62h-5M39.3 102.48h1.8M229.4 102.48h-1.8M39.3 88.34h5M229.4 88.34h-5M39.3 74.2h1.8M229.4 74.2h-1.8M39.3 60.06h5M229.4 60.06h-5M39.3 45.92h1.8M229.4 45.92h-1.8M39.3 31.78h5M229.4 31.78h-5M39.3 17.64h1.8M229.4 17.64h-1.8M51.97 144.9v-1.8M51.97 3.5v1.8M64.65 144.9v-5M64.65 3.5v5M77.32 144.9v-1.8M77.32 3.5v1.8M89.99 144.9v-5M89.99 3.5v5M102.67 144.9v-1.8M102.67 3.5v1.8M115.34 144.9v-5M115.34 3.5v5M128.01 144.9v-1.8M128.01 3.5v1.8M140.69 144.9v-5M140.69 3.5v5M153.36 144.9v-1.8M153.36 3.5v1.8M166.03 144.9v-5M166.03 3.5v5M178.71 144.9v-1.8M178.71 3.5v1.8M191.38 144.9v-5M191.38 3.5v5M204.05 144.9v-1.8M204.05 3.5v1.8M216.73 144.9v-5M216.73 3.5v5" stroke="#222" stroke-width="0.9" fill="none"/><rect x="39.3" y="3.5" width="190.1" height="141.4" fill="none" stroke="#222" stroke-width="1.1"/><text x="36.1" y="148.9" text-anchor="end" class="tk">0</text><text x="36.1" y="120.62" text-anchor="end" class="tk">50</text><text x="36.1" y="92.34" text-anchor="end" class="tk">100</text><text x="36.1" y="64.06" text-anchor="end" class="tk">150</text><text x="36.1" y="35.78" text-anchor="end" class="tk">200</text><text x="36.1" y="7.5" text-anchor="end" class="tk">250</text><text x="48.2" y="22.4" class="pt"><tspan font-weight="bold">a</tspan> Bulk</text><path d="M258.5 136.06h1.8M448.6 136.06h-1.8M258.5 127.23h5M448.6 127.23h-5M258.5 118.39h1.8M448.6 118.39h-1.8M258.5 109.55h5M448.6 109.55h-5M258.5 100.71h1.8M448.6 100.71h-1.8M258.5 91.88h5M448.6 91.88h-5M258.5 83.04h1.8M448.6 83.04h-1.8M258.5 74.2h5M448.6 74.2h-5M258.5 65.36h1.8M448.6 65.36h-1.8M258.5 56.53h5M448.6 56.53h-5M258.5 47.69h1.8M448.6 47.69h-1.8M258.5 38.85h5M448.6 38.85h-5M258.5 30.01h1.8M448.6 30.01h-1.8M258.5 21.17h5M448.6 21.17h-5M258.5 12.34h1.8M448.6 12.34h-1.8M271.17 144.9v-1.8M271.17 3.5v1.8M283.85 144.9v-5M283.85 3.5v5M296.52 144.9v-1.8M296.52 3.5v1.8M309.19 144.9v-5M309.19 3.5v5M321.87 144.9v-1.8M321.87 3.5v1.8M334.54 144.9v-5M334.54 3.5v5M347.21 144.9v-1.8M347.21 3.5v1.8M359.89 144.9v-5M359.89 3.5v5M372.56 144.9v-1.8M372.56 3.5v1.8M385.23 144.9v-5M385.23 3.5v5M397.91 144.9v-1.8M397.91 3.5v1.8M410.58 144.9v-5M410.58 3.5v5M423.25 144.9v-1.8M423.25 3.5v1.8M435.93 144.9v-5M435.93 3.5v5" stroke="#222" stroke-width="0.9" fill="none"/><rect x="258.5" y="3.5" width="190.1" height="141.4" fill="none" stroke="#222" stroke-width="1.1"/><text x="255.3" y="148.9" text-anchor="end" class="tk">0</text><text x="255.3" y="113.55" text-anchor="end" class="tk">0.8</text><text x="255.3" y="78.2" text-anchor="end" class="tk">1.6</text><text x="255.3" y="42.85" text-anchor="end" class="tk">2.4</text><text x="255.3" y="7.5" text-anchor="end" class="tk">3.2</text><text x="271.9" y="22.7" class="pt"><tspan font-weight="bold">b</tspan> 1.4 - 2 mm</text><path d="M477.6 134.8h1.8M667.7 134.8h-1.8M477.6 124.7h5M667.7 124.7h-5M477.6 114.6h1.8M667.7 114.6h-1.8M477.6 104.5h5M667.7 104.5h-5M477.6 94.4h1.8M667.7 94.4h-1.8M477.6 84.3h5M667.7 84.3h-5M477.6 74.2h1.8M667.7 74.2h-1.8M477.6 64.1h5M667.7 64.1h-5M477.6 54h1.8M667.7 54h-1.8M477.6 43.9h5M667.7 43.9h-5M477.6 33.8h1.8M667.7 33.8h-1.8M477.6 23.7h5M667.7 23.7h-5M477.6 13.6h1.8M667.7 13.6h-1.8M490.27 144.9v-1.8M490.27 3.5v1.8M502.95 144.9v-5M502.95 3.5v5M515.62 144.9v-1.8M515.62 3.5v1.8M528.29 144.9v-5M528.29 3.5v5M540.97 144.9v-1.8M540.97 3.5v1.8M553.64 144.9v-5M553.64 3.5v5M566.31 144.9v-1.8M566.31 3.5v1.8M578.99 144.9v-5M578.99 3.5v5M591.66 144.9v-1.8M591.66 3.5v1.8M604.33 144.9v-5M604.33 3.5v5M617.01 144.9v-1.8M617.01 3.5v1.8M629.68 144.9v-5M629.68 3.5v5M642.35 144.9v-1.8M642.35 3.5v1.8M655.03 144.9v-5M655.03 3.5v5" stroke="#222" stroke-width="0.9" fill="none"/><rect x="477.6" y="3.5" width="190.1" height="141.4" fill="none" stroke="#222" stroke-width="1.1"/><text x="474.4" y="148.9" text-anchor="end" class="tk">0</text><text x="474.4" y="108.5" text-anchor="end" class="tk">4</text><text x="474.4" y="68.1" text-anchor="end" class="tk">8</text><text x="474.4" y="27.7" text-anchor="end" class="tk">12</text><text x="490.8" y="22.7" class="pt"><tspan font-weight="bold">c</tspan> 2.8 - 4 mm</text><path d="M39.3 288.22h1.8M229.4 288.22h-1.8M39.3 276.43h5M229.4 276.43h-5M39.3 264.65h1.8M229.4 264.65h-1.8M39.3 252.87h5M229.4 252.87h-5M39.3 241.08h1.8M229.4 241.08h-1.8M39.3 229.3h5M229.4 229.3h-5M39.3 217.52h1.8M229.4 217.52h-1.8M39.3 205.73h5M229.4 205.73h-5M39.3 193.95h1.8M229.4 193.95h-1.8M39.3 182.17h5M229.4 182.17h-5M39.3 170.38h1.8M229.4 170.38h-1.8M51.97 300v-1.8M51.97 158.6v1.8M64.65 300v-5M64.65 158.6v5M77.32 300v-1.8M77.32 158.6v1.8M89.99 300v-5M89.99 158.6v5M102.67 300v-1.8M102.67 158.6v1.8M115.34 300v-5M115.34 158.6v5M128.01 300v-1.8M128.01 158.6v1.8M140.69 300v-5M140.69 158.6v5M153.36 300v-1.8M153.36 158.6v1.8M166.03 300v-5M166.03 158.6v5M178.71 300v-1.8M178.71 158.6v1.8M191.38 300v-5M191.38 158.6v5M204.05 300v-1.8M204.05 158.6v1.8M216.73 300v-5M216.73 158.6v5" stroke="#222" stroke-width="0.9" fill="none"/><rect x="39.3" y="158.6" width="190.1" height="141.4" fill="none" stroke="#222" stroke-width="1.1"/><text x="36.1" y="304" text-anchor="end" class="tk">0</text><text x="36.1" y="256.87" text-anchor="end" class="tk">10</text><text x="36.1" y="209.73" text-anchor="end" class="tk">20</text><text x="36.1" y="162.6" text-anchor="end" class="tk">30</text><text x="39.3" y="313" text-anchor="middle" class="tk">0</text><text x="89.99" y="313" text-anchor="middle" class="tk">4000</text><text x="140.69" y="313" text-anchor="middle" class="tk">8000</text><text x="191.38" y="313" text-anchor="middle" class="tk">12000</text><text x="48.6" y="177.5" class="pt"><tspan font-weight="bold">d</tspan> 5.6 - 8 mm</text><path d="M258.5 289.9h1.8M448.6 289.9h-1.8M258.5 279.8h5M448.6 279.8h-5M258.5 269.7h1.8M448.6 269.7h-1.8M258.5 259.6h5M448.6 259.6h-5M258.5 249.5h1.8M448.6 249.5h-1.8M258.5 239.4h5M448.6 239.4h-5M258.5 229.3h1.8M448.6 229.3h-1.8M258.5 219.2h5M448.6 219.2h-5M258.5 209.1h1.8M448.6 209.1h-1.8M258.5 199h5M448.6 199h-5M258.5 188.9h1.8M448.6 188.9h-1.8M258.5 178.8h5M448.6 178.8h-5M258.5 168.7h1.8M448.6 168.7h-1.8M271.17 300v-1.8M271.17 158.6v1.8M283.85 300v-5M283.85 158.6v5M296.52 300v-1.8M296.52 158.6v1.8M309.19 300v-5M309.19 158.6v5M321.87 300v-1.8M321.87 158.6v1.8M334.54 300v-5M334.54 158.6v5M347.21 300v-1.8M347.21 158.6v1.8M359.89 300v-5M359.89 158.6v5M372.56 300v-1.8M372.56 158.6v1.8M385.23 300v-5M385.23 158.6v5M397.91 300v-1.8M397.91 158.6v1.8M410.58 300v-5M410.58 158.6v5M423.25 300v-1.8M423.25 158.6v1.8M435.93 300v-5M435.93 158.6v5" stroke="#222" stroke-width="0.9" fill="none"/><rect x="258.5" y="158.6" width="190.1" height="141.4" fill="none" stroke="#222" stroke-width="1.1"/><text x="255.3" y="304" text-anchor="end" class="tk">0</text><text x="255.3" y="263.6" text-anchor="end" class="tk">20</text><text x="255.3" y="223.2" text-anchor="end" class="tk">40</text><text x="255.3" y="182.8" text-anchor="end" class="tk">60</text><text x="258.5" y="313" text-anchor="middle" class="tk">0</text><text x="309.19" y="313" text-anchor="middle" class="tk">4000</text><text x="359.89" y="313" text-anchor="middle" class="tk">8000</text><text x="410.58" y="313" text-anchor="middle" class="tk">12000</text><text x="271.8" y="177.5" class="pt"><tspan font-weight="bold">e</tspan> 11.3 - 16 mm</text><path d="M477.6 293.57h1.8M667.7 293.57h-1.8M477.6 287.15h5M667.7 287.15h-5M477.6 280.72h1.8M667.7 280.72h-1.8M477.6 274.29h5M667.7 274.29h-5M477.6 267.86h1.8M667.7 267.86h-1.8M477.6 261.44h5M667.7 261.44h-5M477.6 255.01h1.8M667.7 255.01h-1.8M477.6 248.58h5M667.7 248.58h-5M477.6 242.15h1.8M667.7 242.15h-1.8M477.6 235.73h5M667.7 235.73h-5M477.6 229.3h1.8M667.7 229.3h-1.8M477.6 222.87h5M667.7 222.87h-5M477.6 216.45h1.8M667.7 216.45h-1.8M477.6 210.02h5M667.7 210.02h-5M477.6 203.59h1.8M667.7 203.59h-1.8M477.6 197.16h5M667.7 197.16h-5M477.6 190.74h1.8M667.7 190.74h-1.8M477.6 184.31h5M667.7 184.31h-5M477.6 177.88h1.8M667.7 177.88h-1.8M477.6 171.45h5M667.7 171.45h-5M477.6 165.03h1.8M667.7 165.03h-1.8M490.27 300v-1.8M490.27 158.6v1.8M502.95 300v-5M502.95 158.6v5M515.62 300v-1.8M515.62 158.6v1.8M528.29 300v-5M528.29 158.6v5M540.97 300v-1.8M540.97 158.6v1.8M553.64 300v-5M553.64 158.6v5M566.31 300v-1.8M566.31 158.6v1.8M578.99 300v-5M578.99 158.6v5M591.66 300v-1.8M591.66 158.6v1.8M604.33 300v-5M604.33 158.6v5M617.01 300v-1.8M617.01 158.6v1.8M629.68 300v-5M629.68 158.6v5M642.35 300v-1.8M642.35 158.6v1.8M655.03 300v-5M655.03 158.6v5" stroke="#222" stroke-width="0.9" fill="none"/><rect x="477.6" y="158.6" width="190.1" height="141.4" fill="none" stroke="#222" stroke-width="1.1"/><text x="474.4" y="304" text-anchor="end" class="tk">0</text><text x="474.4" y="265.44" text-anchor="end" class="tk">60</text><text x="474.4" y="226.87" text-anchor="end" class="tk">120</text><text x="474.4" y="188.31" text-anchor="end" class="tk">180</text><text x="477.6" y="313" text-anchor="middle" class="tk">0</text><text x="528.29" y="313" text-anchor="middle" class="tk">4000</text><text x="578.99" y="313" text-anchor="middle" class="tk">8000</text><text x="629.68" y="313" text-anchor="middle" class="tk">12000</text><text x="491.2" y="177.5" class="pt"><tspan font-weight="bold">f</tspan> 22.6 - 32 mm</text><path d="M130.6 14.6H155.2" stroke="#cfcfcf" stroke-width="1.2"/><text x="158.2" y="18.2" class="lg">1 s</text><path d="M130.6 25.9H155.2" stroke="#f08a80" stroke-width="1.4"/><text x="158.2" y="29.5" class="lg">8 s</text><path d="M130.6 37.2H155.2" stroke="#f9c650" stroke-width="1.1"/><text x="158.2" y="40.8" class="lg">1 minute</text><path d="M130.6 48.1H155.2" stroke="#000" stroke-width="1.5"/><text x="158.2" y="51.7" class="lg">6 minutes</text><path d="M131 59.5H155.2" stroke="#333" stroke-width="0.9" stroke-dasharray="3 2.75"/><text x="158.2" y="63.1" class="lg">Mean</text><text class="ax" x="350" y="336.2" text-anchor="middle">Time (s)</text><text class="ax" transform="translate(7.8 149.4) rotate(-90)" text-anchor="middle">Bedload transport rate (g/s)</text></svg></body></html>
